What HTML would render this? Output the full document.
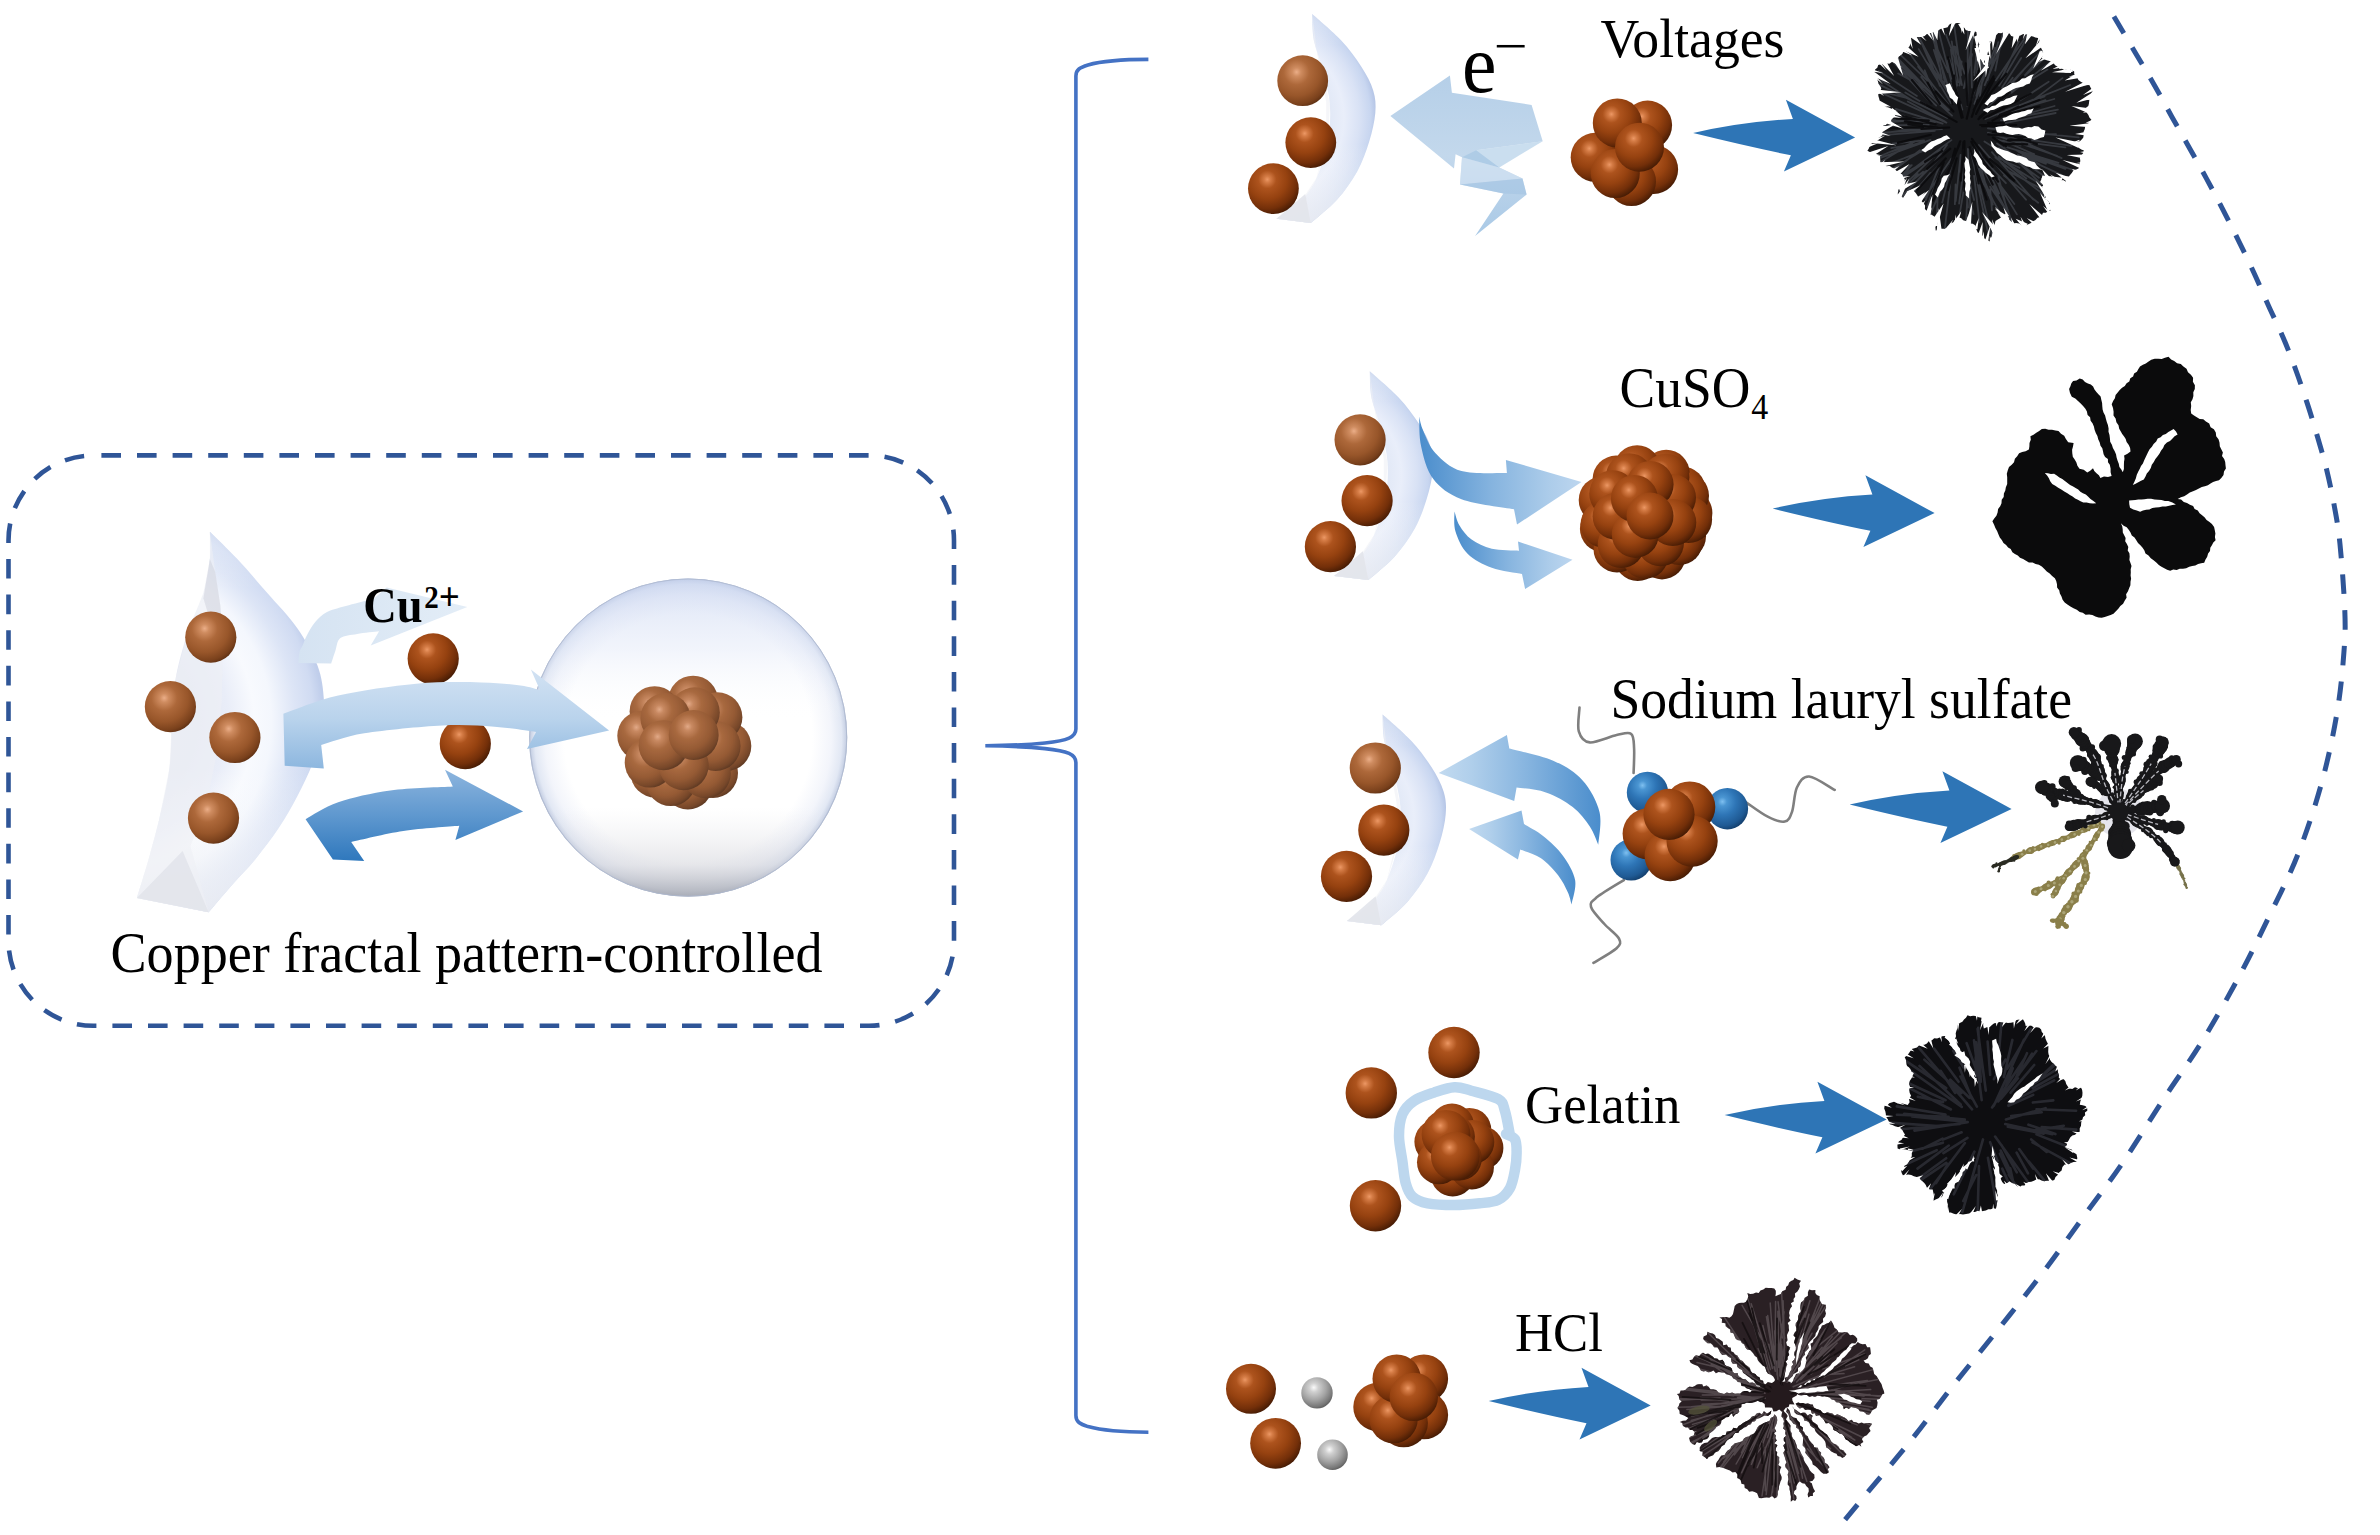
<!DOCTYPE html><html><head><meta charset="utf-8"><title>Copper fractal pattern-controlled</title>
<style>html,body{margin:0;padding:0;background:#fff}svg{display:block}text{font-family:"Liberation Serif","Times New Roman",serif;fill:#000}</style></head><body>
<svg width="2380" height="1535" viewBox="0 0 2380 1535">

<defs>
<radialGradient id="cu" cx="0.38" cy="0.32" r="0.74" fx="0.38" fy="0.32">
 <stop offset="0" stop-color="#EC9865"/><stop offset="0.08" stop-color="#D57C46"/>
 <stop offset="0.24" stop-color="#AD531D"/><stop offset="0.52" stop-color="#964210"/>
 <stop offset="0.78" stop-color="#732F09"/><stop offset="0.93" stop-color="#4E1F05"/><stop offset="1" stop-color="#3A1604"/>
</radialGradient>
<radialGradient id="cul" cx="0.38" cy="0.33" r="0.72" fx="0.38" fy="0.33">
 <stop offset="0" stop-color="#EBAE88"/><stop offset="0.12" stop-color="#CF8C60"/>
 <stop offset="0.35" stop-color="#AD683A"/><stop offset="0.65" stop-color="#98562A"/>
 <stop offset="0.88" stop-color="#7A411C"/><stop offset="1" stop-color="#5A2E12"/>
</radialGradient>
<radialGradient id="cug" cx="0.38" cy="0.33" r="0.72" fx="0.38" fy="0.33">
 <stop offset="0" stop-color="#DFA07A"/><stop offset="0.12" stop-color="#C27C50"/>
 <stop offset="0.35" stop-color="#9F592B"/><stop offset="0.65" stop-color="#8A491F"/>
 <stop offset="0.88" stop-color="#693413"/><stop offset="1" stop-color="#48220A"/>
</radialGradient>
<radialGradient id="bl" cx="0.38" cy="0.33" r="0.72" fx="0.38" fy="0.33">
 <stop offset="0" stop-color="#7FC0F0"/><stop offset="0.15" stop-color="#4A95D2"/>
 <stop offset="0.45" stop-color="#2E75B6"/><stop offset="0.8" stop-color="#1F5A94"/>
 <stop offset="1" stop-color="#123C68"/>
</radialGradient>
<radialGradient id="gr" cx="0.4" cy="0.33" r="0.72" fx="0.4" fy="0.33">
 <stop offset="0" stop-color="#FAFAFA"/><stop offset="0.2" stop-color="#D0D0D0"/>
 <stop offset="0.55" stop-color="#A4A4A4"/><stop offset="0.85" stop-color="#777"/>
 <stop offset="1" stop-color="#555"/>
</radialGradient>
<radialGradient id="glass" cx="0.5" cy="0.5" r="0.5">
 <stop offset="0" stop-color="#fff"/><stop offset="0.78" stop-color="#fff"/>
 <stop offset="0.9" stop-color="#F3F5FB"/><stop offset="0.965" stop-color="#E2E8F4"/>
 <stop offset="0.99" stop-color="#CAD3E6"/><stop offset="1" stop-color="#AEB9D2"/>
</radialGradient>
<linearGradient id="glassv" x1="0" y1="0" x2="0" y2="1">
 <stop offset="0" stop-color="#C3D0EE" stop-opacity="0.6"/><stop offset="0.22" stop-color="#DCE4F6" stop-opacity="0.4"/>
 <stop offset="0.45" stop-color="#fff" stop-opacity="0"/><stop offset="0.72" stop-color="#E4E5E9" stop-opacity="0"/>
 <stop offset="0.9" stop-color="#D2D3D9" stop-opacity="0.55"/>
 <stop offset="1" stop-color="#A4A7B0" stop-opacity="0.85"/>
</linearGradient>
<linearGradient id="cres" x1="0" y1="0" x2="1" y2="0">
 <stop offset="0" stop-color="#DDE4F2"/><stop offset="0.4" stop-color="#E2E9F7"/><stop offset="0.6" stop-color="#E4EBF9"/>
 <stop offset="0.85" stop-color="#D0DCF3"/><stop offset="1" stop-color="#B9C9E8"/>
</linearGradient>
<linearGradient id="cresv" x1="0" y1="0" x2="0" y2="1">
 <stop offset="0" stop-color="#fff" stop-opacity="0.35"/><stop offset="0.15" stop-color="#fff" stop-opacity="0"/><stop offset="0.62" stop-color="#fff" stop-opacity="0"/>
 <stop offset="1" stop-color="#EEEFF3" stop-opacity="0.85"/>
</linearGradient>
<linearGradient id="arrL" x1="0" y1="0" x2="0" y2="1">
 <stop offset="0" stop-color="#D2E2F3"/><stop offset="0.5" stop-color="#B9D3EC"/><stop offset="1" stop-color="#8DB7DF"/>
</linearGradient>
<linearGradient id="arrD" x1="0" y1="0" x2="0" y2="1">
 <stop offset="0" stop-color="#8DB5DE"/><stop offset="0.5" stop-color="#5F98CF"/><stop offset="1" stop-color="#2F78BD"/>
</linearGradient>
<linearGradient id="arrT" x1="0" y1="0" x2="1" y2="0">
 <stop offset="0" stop-color="#D5E3F2"/><stop offset="1" stop-color="#E3EDF7"/>
</linearGradient>
<linearGradient id="sw" x1="0" y1="0" x2="1" y2="0">
 <stop offset="0" stop-color="#4A8DCC"/><stop offset="0.45" stop-color="#86B4DF"/><stop offset="0.8" stop-color="#ACCCEA"/><stop offset="1" stop-color="#BDD6EF"/>
</linearGradient>
<linearGradient id="swr" x1="1" y1="0" x2="0" y2="0">
 <stop offset="0" stop-color="#4A8DCC"/><stop offset="0.45" stop-color="#86B4DF"/><stop offset="0.8" stop-color="#B0CFEB"/><stop offset="1" stop-color="#C2DAF0"/>
</linearGradient>
<linearGradient id="bolt" x1="0" y1="0" x2="0" y2="1">
 <stop offset="0" stop-color="#B5CFE8"/><stop offset="0.5" stop-color="#C3D8EC"/><stop offset="1" stop-color="#A9C9E6"/>
</linearGradient>
</defs>

<rect width="2380" height="1535" fill="#fff"/>
<rect x="8.5" y="455.4" width="945.5" height="570.4" rx="85" ry="85" fill="none" stroke="#2F5597" stroke-width="4.6" stroke-dasharray="19.6 16" stroke-dashoffset="27.7"/>
<path d="M1148.4 59.4 C1125 59.4 1100 61.5 1088 65 C1080 67.5 1075.9 69.5 1075.9 76 L1075.9 729 C1075.9 737 1068 740.5 1045 743 C1025 745 1005 745.6 985.3 745.8 C1005 746 1025 746.6 1045 748.6 C1068 751 1075.9 754.5 1075.9 762.6 L1075.9 1415.6 C1075.9 1422 1080 1424 1088 1426.6 C1100 1430 1125 1432.2 1148.4 1432.2" fill="none" stroke="#4472C4" stroke-width="3.6"/>
<path d="M2113.9 16.4 C2117.7 22.8 2129.7 43.1 2136.5 54.7 C2143.3 66.2 2148.8 75.4 2154.7 85.7 C2160.6 96 2166 106.4 2171.8 116.7 C2177.6 127 2183.5 137.4 2189.3 147.7 C2195.1 158 2200.9 168.3 2206.5 178.6 C2212.1 188.9 2217.6 199.3 2222.9 209.6 C2228.2 219.9 2233.3 230.1 2238.5 240.6 C2243.7 251.1 2248.9 261.9 2253.9 272.7 C2258.9 283.5 2263.6 294.8 2268.4 305.5 C2273.2 316.2 2278.4 326.4 2283 337.2 C2287.6 347.9 2291.8 359.1 2295.8 370 C2299.8 380.9 2303.4 391.6 2307.1 402.9 C2310.8 414.1 2314.4 426.3 2317.7 437.5 C2321 448.7 2324.1 459.1 2326.8 470.3 C2329.5 481.5 2331.9 492.8 2334.1 504.9 C2336.3 517 2338.1 525.6 2339.9 543.2 C2341.7 560.8 2344.1 592.1 2344.8 610.3 C2345.5 628.5 2345.2 635.3 2343.9 652.5 C2342.6 669.7 2340.7 691.5 2336.9 713.4 C2333.2 735.3 2327.9 760.3 2321.4 783.8 C2314.9 807.2 2306.6 832.2 2298 854.1 C2289.4 876 2279.6 894.7 2269.8 915 C2260 935.3 2250.7 954.8 2239.4 975.9 C2228.1 997 2214.4 1021.3 2201.9 1041.6 C2189.4 1061.9 2177.7 1077.5 2164.4 1097.8 C2151.1 1118.1 2135.5 1143.9 2122.2 1163.4 C2108.9 1182.9 2097.8 1197 2084.7 1215 C2071.6 1233 2057.7 1253 2043.5 1271.7 C2029.3 1290.4 2014.5 1308.9 1999.8 1327.4 C1985.1 1346 1969.7 1364.5 1955.1 1383 C1940.5 1401.5 1927 1420.4 1912.4 1438.6 C1897.8 1456.8 1879.8 1477.7 1867.7 1492.3 C1855.6 1506.9 1844.5 1520.4 1839.9 1526" fill="none" stroke="#2F5597" stroke-width="5" stroke-dasharray="19.5 16.3"/>
<radialGradient id="crg1" gradientUnits="userSpaceOnUse" cx="107" cy="722" r="216.4"><stop offset="0" stop-color="#E7E9F1"/><stop offset="0.42" stop-color="#E4E8F3"/><stop offset="0.56" stop-color="#E9EDF8"/><stop offset="0.68" stop-color="#F8FAFE"/><stop offset="0.76" stop-color="#F4F7FD"/><stop offset="0.87" stop-color="#DDE5F6"/><stop offset="0.955" stop-color="#D0DBF2"/><stop offset="1" stop-color="#C0CEEB"/></radialGradient>
<path d="M209.9 531.7 C214.5 536.3 227.8 548.9 237.3 559.1 C246.9 569.3 257.3 581.5 267.3 593 C277.3 604.5 288.9 616.1 297.3 628.2 C305.7 640.3 313.2 653.8 317.6 665.7 C322 677.7 323.2 689 323.9 699.9 C324.6 710.8 323.6 720.7 321.8 731.2 C319.9 741.6 317 751.6 312.9 762.4 C308.8 773.3 302.9 785.5 297.3 796.3 C291.6 807.2 286 817.2 279 827.6 C272.1 838 263.4 849.3 255.6 858.9 C247.7 868.5 239.9 876.1 232.1 885 C224.3 893.9 212.5 907.8 208.6 912.3 L136.9 898 C138.9 891.5 145 871.9 148.7 858.9 C152.4 845.9 155.6 835 159.1 819.8 C162.6 804.6 167.4 785 169.5 767.7 C171.7 750.3 171.1 730.7 172.1 715.5 C173.2 700.3 173.4 690.3 176 676.4 C178.7 662.5 183.2 646 187.8 632.1 C192.3 618.2 199.7 605.2 203.4 593 C207.1 580.8 208.9 569.3 209.9 559.1 C211 548.9 209.9 536.3 209.9 531.7Z" fill="url(#crg1)"/>
<path d="M209.9 531.7 C214.5 536.3 227.8 548.9 237.3 559.1 C246.9 569.3 257.3 581.5 267.3 593 C277.3 604.5 288.9 616.1 297.3 628.2 C305.7 640.3 313.2 653.8 317.6 665.7 C322 677.7 323.2 689 323.9 699.9 C324.6 710.8 323.6 720.7 321.8 731.2 C319.9 741.6 317 751.6 312.9 762.4 C308.8 773.3 302.9 785.5 297.3 796.3 C291.6 807.2 286 817.2 279 827.6 C272.1 838 263.4 849.3 255.6 858.9 C247.7 868.5 239.9 876.1 232.1 885 C224.3 893.9 212.5 907.8 208.6 912.3 L136.9 898 C138.9 891.5 145 871.9 148.7 858.9 C152.4 845.9 155.6 835 159.1 819.8 C162.6 804.6 167.4 785 169.5 767.7 C171.7 750.3 171.1 730.7 172.1 715.5 C173.2 700.3 173.4 690.3 176 676.4 C178.7 662.5 183.2 646 187.8 632.1 C192.3 618.2 199.7 605.2 203.4 593 C207.1 580.8 208.9 569.3 209.9 559.1 C211 548.9 209.9 536.3 209.9 531.7Z" fill="url(#cresv)"/>
<polygon points="209.9,531.7 215.2,572.1 220.4,606 223,650.3 221.7,702.5 216.5,754.6 206,806.8 190.4,845.9 208.6,912.3 136.9,898 148.7,858.9 159.1,819.8 169.5,767.7 172.1,715.5 176,676.4 187.8,632.1 203.4,593 209.9,559.1" fill="#EEF0F5" opacity="0.6"/>
<polygon points="136.9,898 182.6,851.1 208.6,912.3" fill="#E2E4EB" opacity="0.9"/>
<polygon points="209.9,559.1 215.2,572.1 220.4,606 221.7,629.5 211.2,624.3 203.4,598.2" fill="#C9CCD6" opacity="0.45"/>
<circle cx="210.8" cy="637.2" r="25.6" fill="url(#cul)"/>
<circle cx="170.4" cy="706.7" r="25.6" fill="url(#cul)"/>
<circle cx="234.9" cy="737.5" r="25.6" fill="url(#cul)"/>
<circle cx="213.5" cy="818.1" r="25.6" fill="url(#cul)"/>
<circle cx="688.2" cy="737.6" r="159" fill="url(#glass)"/>
<circle cx="688.2" cy="737.6" r="159" fill="url(#glassv)"/>
<circle cx="688.2" cy="737.6" r="158.6" fill="none" stroke="#AEB9D0" stroke-width="1" opacity="0.8"/>
<g opacity="0.9">
<circle cx="655.5" cy="772.6" r="25" fill="url(#cug)"/>
<circle cx="687.9" cy="784.5" r="25" fill="url(#cug)"/>
<circle cx="713" cy="773" r="25" fill="url(#cug)"/>
<circle cx="726.3" cy="746" r="25" fill="url(#cug)"/>
<circle cx="693.1" cy="700.7" r="25" fill="url(#cug)"/>
<circle cx="654.6" cy="711.2" r="25" fill="url(#cug)"/>
<circle cx="717.4" cy="717.3" r="25" fill="url(#cug)"/>
<circle cx="642.3" cy="735.8" r="25" fill="url(#cug)"/>
<circle cx="670.9" cy="781.1" r="25" fill="url(#cug)"/>
<circle cx="649.7" cy="762.6" r="25" fill="url(#cug)"/>
<circle cx="705.9" cy="773.2" r="25" fill="url(#cug)"/>
<circle cx="715.6" cy="746" r="25" fill="url(#cug)"/>
<circle cx="694.8" cy="712.3" r="25" fill="url(#cug)"/>
<circle cx="665.4" cy="718" r="25" fill="url(#cug)"/>
<circle cx="683.7" cy="765.2" r="25" fill="url(#cug)"/>
<circle cx="663.6" cy="745.2" r="25" fill="url(#cug)"/>
<circle cx="693.7" cy="735" r="25" fill="url(#cug)"/>
</g>
<path d="M298.4 663 C298.6 661.2 298.8 654.9 299.5 652 C300.2 649.1 301.4 648.4 302.6 645.6 C303.8 642.9 304.7 639.4 306.8 635.5 C308.9 631.6 311.8 626 315.2 622.1 C318.6 618.2 321.4 614.8 327 612 C332.6 609.2 341 607.5 348.8 605.3 C356.6 603.1 369.8 599.7 374 598.6 L386.6 587.6 L467.3 607 L370.7 645.6 L379.1 631.3 C375.5 631.7 363.6 632.8 357.2 633.9 C350.8 635 344 635.3 340.4 638.1 C336.8 640.9 336.9 646.5 335.4 650.7 C333.9 654.9 331.9 661.4 331.2 663.5Z" fill="url(#arrT)"/>
<circle cx="433.2" cy="658.8" r="25.6" fill="url(#cu)"/>
<circle cx="465.3" cy="743.7" r="25.6" fill="url(#cu)"/>
<path d="M283.4 713.7 C292.6 710.7 316 700.5 338.2 695.5 C360.3 690.5 392.4 685.9 416.3 683.7 C440.2 681.6 464.1 682.1 481.4 682.4 C498.8 682.7 510.7 684.3 520.5 685.6 C530.3 686.9 536.8 689.5 540 690.3 L530.9 669.4 L609.1 730.6 L527 748.9 L536.1 731.9 C529.2 731.1 510.1 727.8 494.5 726.7 C478.8 725.6 464.1 724.3 442.4 725.4 C420.6 726.5 384.4 730 364.2 733.2 C344 736.5 328.4 743 321.2 745 L323.8 768.4 L284.7 765.8Z" fill="url(#arrL)"/>
<path d="M305.6 819.2 C311 816.4 324 807 338.2 802.3 C352.3 797.5 371.1 793.2 390.3 790.5 C409.4 787.9 442.4 787.3 452.8 786.6 L445 769.7 L523.1 811.4 L455.4 840 L459.3 825.7 C450 826.6 421.3 828.2 403.3 830.9 C385.3 833.6 359.9 840 351.2 841.9 L364.2 860.9 L332.9 859.6Z" fill="url(#arrD)"/>
<text transform="translate(110.5,971.7) scale(1,1.06)" font-size="54" textLength="712" lengthAdjust="spacingAndGlyphs">Copper fractal pattern-controlled</text>
<text transform="translate(363.3,622.2) scale(1,1.08)" font-size="46.5" font-weight="bold">Cu<tspan font-size="29" dx="1.5" dy="-13.5">2</tspan><tspan font-size="37" dx="0" dy="2.6">+</tspan></text>
<radialGradient id="crg2" gradientUnits="userSpaceOnUse" cx="1257.4" cy="118.5" r="118.5"><stop offset="0" stop-color="#E4E7F0"/><stop offset="0.6" stop-color="#E1E8F6"/><stop offset="0.73" stop-color="#E9EEFA"/><stop offset="0.86" stop-color="#D9E2F5"/><stop offset="0.955" stop-color="#C8D6F0"/><stop offset="1" stop-color="#B7C7E7"/></radialGradient>
<path d="M1312.2 14.1 C1317 18.5 1332.8 31.6 1341 40.3 C1349.2 49 1355.8 58.1 1361.2 66.5 C1366.6 74.9 1371 83 1373.3 90.7 C1375.6 98.4 1376 104.5 1375.3 112.9 C1374.6 121.3 1372.3 131.4 1369.3 141.2 C1366.3 150.9 1362.6 161.7 1357.2 171.4 C1351.8 181.2 1344.7 191.1 1337 199.7 C1329.3 208.3 1315.2 219 1310.8 222.9 L1276.5 218.8 C1280.5 215.9 1294 208.6 1300.7 201.7 C1307.4 194.8 1312.3 187.6 1316.8 177.5 C1321.3 167.4 1325.7 153.3 1327.9 141.2 C1330.1 129.1 1330.7 116.7 1329.9 104.9 C1329.1 93.1 1325.6 81.4 1322.9 70.6 C1320.2 59.8 1315.6 49.7 1313.8 40.3 C1312 30.9 1312.5 18.5 1312.2 14.1Z" fill="url(#crg2)"/>
<path d="M1312.2 14.1 C1317 18.5 1332.8 31.6 1341 40.3 C1349.2 49 1355.8 58.1 1361.2 66.5 C1366.6 74.9 1371 83 1373.3 90.7 C1375.6 98.4 1376 104.5 1375.3 112.9 C1374.6 121.3 1372.3 131.4 1369.3 141.2 C1366.3 150.9 1362.6 161.7 1357.2 171.4 C1351.8 181.2 1344.7 191.1 1337 199.7 C1329.3 208.3 1315.2 219 1310.8 222.9 L1276.5 218.8 C1280.5 215.9 1294 208.6 1300.7 201.7 C1307.4 194.8 1312.3 187.6 1316.8 177.5 C1321.3 167.4 1325.7 153.3 1327.9 141.2 C1330.1 129.1 1330.7 116.7 1329.9 104.9 C1329.1 93.1 1325.6 81.4 1322.9 70.6 C1320.2 59.8 1315.6 49.7 1313.8 40.3 C1312 30.9 1312.5 18.5 1312.2 14.1Z" fill="url(#cresv)"/>
<polygon points="1312.2,14.1 1317.2,54.1 1326.2,102.1 1326.2,139.1 1316.2,179.1 1306.2,197.1 1310.8,222.9 1276.5,218.8 1300.7,201.7 1316.8,177.5 1327.9,141.2 1329.9,104.9 1322.9,70.6 1313.8,40.3" fill="#EEF0F5" opacity="0.6"/>
<polygon points="1276.5,218.8 1305.2,194.1 1310.8,222.9" fill="#E2E4EB" opacity="0.9"/>
<circle cx="1302.7" cy="80.7" r="25.4" fill="url(#cul)"/>
<circle cx="1310.8" cy="142.6" r="25.4" fill="url(#cu)"/>
<circle cx="1273.4" cy="188.6" r="25.4" fill="url(#cu)"/>
<path d="M1390.4 116 L1449.9 75.6 L1451.9 92.8 L1531.6 104.9 L1542.7 141.2 L1476.2 150.3 L1499.3 167.4 L1522.5 178.5 L1526.6 194.6 L1475.1 236 L1503.4 193.6 L1460 184.6 L1462 157.3 L1455.6 154.3 L1454 168.4Z" fill="url(#bolt)"/>
<polygon points="1542.7,141.2 1476.2,150.3 1462,157.3 1499.3,167.4" fill="#9FC2E2" opacity="0.55"/>
<polygon points="1462,157.3 1499.3,167.4 1522.5,178.5 1460,184.6" fill="#D5E4F3" opacity="0.6"/>
<polygon points="1522.5,178.5 1526.6,194.6 1503.4,193.6 1460,184.6" fill="#9FC2E2" opacity="0.5"/>
<circle cx="1647.6" cy="125.1" r="24.5" fill="url(#cu)"/>
<circle cx="1595.2" cy="157.3" r="24.5" fill="url(#cu)"/>
<circle cx="1653.6" cy="169.4" r="24.5" fill="url(#cu)"/>
<circle cx="1631.5" cy="181.5" r="24.5" fill="url(#cu)"/>
<circle cx="1615.3" cy="173.5" r="24.5" fill="url(#cu)"/>
<circle cx="1617.3" cy="123" r="24.5" fill="url(#cu)"/>
<circle cx="1639.5" cy="147.2" r="24.5" fill="url(#cu)"/>
<path d="M1693.1 133.1 Q1740.5 122 1792.9 119 L1785.9 99.8 L1855.1 137.6 L1783.9 171.4 L1790.9 155.3 Q1750.6 147.2 1693.1 133.1Z" fill="#2E75B6"/>
<text transform="translate(1600.5,57) scale(1,1.065)" font-size="52" textLength="184" lengthAdjust="spacingAndGlyphs">Voltages</text>
<text transform="translate(1462,92.4) scale(1,1.073)" font-size="77.7">e</text>
<text transform="translate(1494,62.8) scale(1,0.85)" font-size="60">−</text>
<radialGradient id="crg3" gradientUnits="userSpaceOnUse" cx="1315" cy="475.6" r="118.5"><stop offset="0" stop-color="#E4E7F0"/><stop offset="0.6" stop-color="#E1E8F6"/><stop offset="0.73" stop-color="#E9EEFA"/><stop offset="0.86" stop-color="#D9E2F5"/><stop offset="0.955" stop-color="#C8D6F0"/><stop offset="1" stop-color="#B7C7E7"/></radialGradient>
<path d="M1369.8 371.2 C1374.6 375.6 1390.4 388.7 1398.6 397.4 C1406.8 406.1 1413.4 415.2 1418.8 423.6 C1424.2 432 1428.5 440.1 1430.9 447.8 C1433.2 455.5 1433.6 461.6 1432.9 470 C1432.2 478.4 1429.9 488.5 1426.9 498.3 C1423.9 508 1420.2 518.8 1414.8 528.5 C1409.4 538.2 1402.3 548.2 1394.6 556.8 C1386.9 565.4 1372.8 576.1 1368.4 580 L1334.1 575.9 C1338.1 573 1351.6 565.7 1358.3 558.8 C1365 551.9 1369.9 544.7 1374.4 534.6 C1378.9 524.5 1383.3 510.4 1385.5 498.3 C1387.7 486.2 1388.3 473.8 1387.5 462 C1386.7 450.2 1383.2 438.5 1380.5 427.7 C1377.8 416.9 1373.2 406.8 1371.4 397.4 C1369.6 388 1370.1 375.6 1369.8 371.2Z" fill="url(#crg3)"/>
<path d="M1369.8 371.2 C1374.6 375.6 1390.4 388.7 1398.6 397.4 C1406.8 406.1 1413.4 415.2 1418.8 423.6 C1424.2 432 1428.5 440.1 1430.9 447.8 C1433.2 455.5 1433.6 461.6 1432.9 470 C1432.2 478.4 1429.9 488.5 1426.9 498.3 C1423.9 508 1420.2 518.8 1414.8 528.5 C1409.4 538.2 1402.3 548.2 1394.6 556.8 C1386.9 565.4 1372.8 576.1 1368.4 580 L1334.1 575.9 C1338.1 573 1351.6 565.7 1358.3 558.8 C1365 551.9 1369.9 544.7 1374.4 534.6 C1378.9 524.5 1383.3 510.4 1385.5 498.3 C1387.7 486.2 1388.3 473.8 1387.5 462 C1386.7 450.2 1383.2 438.5 1380.5 427.7 C1377.8 416.9 1373.2 406.8 1371.4 397.4 C1369.6 388 1370.1 375.6 1369.8 371.2Z" fill="url(#cresv)"/>
<polygon points="1369.8,371.2 1374.8,411.2 1383.8,459.2 1383.8,496.2 1373.8,536.2 1363.8,554.2 1368.4,580 1334.1,575.9 1358.3,558.8 1374.4,534.6 1385.5,498.3 1387.5,462 1380.5,427.7 1371.4,397.4" fill="#EEF0F5" opacity="0.6"/>
<polygon points="1334.1,575.9 1362.8,551.2 1368.4,580" fill="#E2E4EB" opacity="0.9"/>
<circle cx="1360.1" cy="439.8" r="25.6" fill="url(#cul)"/>
<circle cx="1367.1" cy="500.7" r="25.6" fill="url(#cu)"/>
<circle cx="1330.4" cy="546.7" r="25.6" fill="url(#cu)"/>
<path d="M1419.2 416.6 C1419.5 421.6 1418.8 436.4 1421.2 446.8 C1423.5 457.2 1426.6 470.3 1433.3 479.1 C1440 487.8 1448.1 494.2 1461.5 499.3 C1475 504.3 1505.2 507.7 1514 509.3 L1517 524.5 L1581.5 482.1 L1505.9 459.9 L1506.9 473 C1499.3 472.7 1473.5 474.4 1461.5 471 C1449.6 467.7 1441.7 459.6 1435.3 452.9 C1428.9 446.1 1425.9 436.7 1423.2 430.7 C1420.5 424.6 1419.8 418.9 1419.2 416.6Z" fill="url(#sw)"/>
<path d="M1454.5 511.4 C1454.6 514.7 1453.3 524.5 1455.5 531.5 C1457.7 538.6 1461.5 547.7 1467.6 553.7 C1473.6 559.8 1482.7 564.5 1491.8 567.8 C1500.9 571.2 1517 572.9 1522 573.9 L1525.1 589 L1572.5 559.8 L1518 541.6 L1519 550.7 C1514.5 550.3 1499.7 550.5 1491.8 548.7 C1483.9 546.8 1477 543.5 1471.6 539.6 C1466.2 535.7 1462.4 530.2 1459.5 525.5 C1456.7 520.8 1455.3 513.7 1454.5 511.4Z" fill="url(#sw)"/>
<circle cx="1688.9" cy="512.9" r="23.5" fill="url(#cu)"/>
<circle cx="1682.5" cy="536.3" r="23.5" fill="url(#cu)"/>
<circle cx="1682.1" cy="489.9" r="23.5" fill="url(#cu)"/>
<circle cx="1637.7" cy="557.5" r="23.5" fill="url(#cu)"/>
<circle cx="1603.4" cy="528.8" r="23.5" fill="url(#cu)"/>
<circle cx="1666.2" cy="473.3" r="23.5" fill="url(#cu)"/>
<circle cx="1616.1" cy="479.1" r="23.5" fill="url(#cu)"/>
<circle cx="1617" cy="549" r="23.5" fill="url(#cu)"/>
<circle cx="1637.1" cy="468.8" r="23.5" fill="url(#cu)"/>
<circle cx="1662" cy="555.9" r="23.5" fill="url(#cu)"/>
<circle cx="1602.2" cy="499.9" r="23.5" fill="url(#cu)"/>
<circle cx="1679.3" cy="541.6" r="23.5" fill="url(#cu)"/>
<circle cx="1685.5" cy="495.7" r="23.5" fill="url(#cu)"/>
<circle cx="1688.6" cy="519.6" r="23.5" fill="url(#cu)"/>
<circle cx="1604.1" cy="524.3" r="23.5" fill="url(#cu)"/>
<circle cx="1645" cy="555.3" r="23.5" fill="url(#cu)"/>
<circle cx="1665.9" cy="477.2" r="23.5" fill="url(#cu)"/>
<circle cx="1629.3" cy="476.8" r="23.5" fill="url(#cu)"/>
<circle cx="1621.2" cy="544.6" r="23.5" fill="url(#cu)"/>
<circle cx="1612.7" cy="493.8" r="23.5" fill="url(#cu)"/>
<circle cx="1660.5" cy="542.8" r="23.5" fill="url(#cu)"/>
<circle cx="1672.5" cy="497.6" r="23.5" fill="url(#cu)"/>
<circle cx="1616.1" cy="516.3" r="23.5" fill="url(#cu)"/>
<circle cx="1650.1" cy="484.4" r="23.5" fill="url(#cu)"/>
<circle cx="1672.8" cy="522.6" r="23.5" fill="url(#cu)"/>
<circle cx="1635.3" cy="534.4" r="23.5" fill="url(#cu)"/>
<circle cx="1634.4" cy="498.5" r="23.5" fill="url(#cu)"/>
<circle cx="1650" cy="516" r="23.5" fill="url(#cu)"/>
<path d="M1772.6 508.6 Q1820 497.5 1872.4 494.5 L1865.4 475.3 L1934.6 513.1 L1863.4 546.9 L1870.4 530.8 Q1830.1 522.7 1772.6 508.6Z" fill="#2E75B6"/>
<text transform="translate(1619.5,406.7) scale(1,1.065)" font-size="53.5">CuSO<tspan font-size="34" dx="1" dy="11.3">4</tspan></text>
<radialGradient id="crg4" gradientUnits="userSpaceOnUse" cx="1327.8" cy="819.8" r="118.5"><stop offset="0" stop-color="#E4E7F0"/><stop offset="0.6" stop-color="#E1E8F6"/><stop offset="0.73" stop-color="#E9EEFA"/><stop offset="0.86" stop-color="#D9E2F5"/><stop offset="0.955" stop-color="#C8D6F0"/><stop offset="1" stop-color="#B7C7E7"/></radialGradient>
<path d="M1382.6 714.4 C1387.4 718.8 1403.2 732 1411.4 740.9 C1419.6 749.7 1426.2 758.8 1431.6 767.3 C1437 775.8 1441.3 784 1443.7 791.8 C1446 799.6 1446.4 805.7 1445.7 814.2 C1445 822.7 1442.7 832.9 1439.7 842.8 C1436.7 852.6 1433 863.4 1427.6 873.3 C1422.2 883.1 1415.1 893.2 1407.4 901.9 C1399.7 910.5 1385.6 921.4 1381.2 925.3 L1346.9 921.1 C1350.9 918.3 1364.4 910.8 1371.1 903.9 C1377.8 896.9 1382.7 889.6 1387.2 879.4 C1391.7 869.2 1396.1 855 1398.3 842.8 C1400.5 830.5 1401.1 818 1400.3 806.1 C1399.5 794.2 1396 782.3 1393.3 771.5 C1390.6 760.6 1386 750.4 1384.2 740.9 C1382.4 731.4 1382.9 718.8 1382.6 714.4Z" fill="url(#crg4)"/>
<path d="M1382.6 714.4 C1387.4 718.8 1403.2 732 1411.4 740.9 C1419.6 749.7 1426.2 758.8 1431.6 767.3 C1437 775.8 1441.3 784 1443.7 791.8 C1446 799.6 1446.4 805.7 1445.7 814.2 C1445 822.7 1442.7 832.9 1439.7 842.8 C1436.7 852.6 1433 863.4 1427.6 873.3 C1422.2 883.1 1415.1 893.2 1407.4 901.9 C1399.7 910.5 1385.6 921.4 1381.2 925.3 L1346.9 921.1 C1350.9 918.3 1364.4 910.8 1371.1 903.9 C1377.8 896.9 1382.7 889.6 1387.2 879.4 C1391.7 869.2 1396.1 855 1398.3 842.8 C1400.5 830.5 1401.1 818 1400.3 806.1 C1399.5 794.2 1396 782.3 1393.3 771.5 C1390.6 760.6 1386 750.4 1384.2 740.9 C1382.4 731.4 1382.9 718.8 1382.6 714.4Z" fill="url(#cresv)"/>
<polygon points="1382.6,714.4 1387.6,754.8 1396.6,803.3 1396.6,840.6 1386.6,881 1376.6,899.2 1381.2,925.3 1346.9,921.1 1371.1,903.9 1387.2,879.4 1398.3,842.8 1400.3,806.1 1393.3,771.5 1384.2,740.9" fill="#EEF0F5" opacity="0.6"/>
<polygon points="1346.9,921.1 1375.6,896.2 1381.2,925.3" fill="#E2E4EB" opacity="0.9"/>
<circle cx="1375.3" cy="768" r="25.6" fill="url(#cul)"/>
<circle cx="1383.8" cy="830.1" r="25.6" fill="url(#cu)"/>
<circle cx="1346.5" cy="876.4" r="25.6" fill="url(#cu)"/>
<path d="M1598.3 844.7 C1598.5 839.3 1602.1 822.6 1599.5 811.9 C1596.9 801.1 1590.2 788.7 1582.4 780.2 C1574.7 771.6 1565.4 766 1553.2 760.7 C1541 755.4 1516.6 750.5 1509.3 748.5 L1506.9 735.1 L1438.7 772.9 L1514.2 800.9 L1516.6 787.5 C1521.5 788.3 1536.5 789.1 1545.9 792.4 C1555.2 795.6 1565.4 801.3 1572.7 807 C1580 812.7 1585.5 820.2 1589.8 826.5 C1594 832.8 1596.9 841.7 1598.3 844.7Z" fill="url(#swr)"/>
<path d="M1571.5 904.5 C1572.1 900.4 1576.6 888.2 1575.1 880.1 C1573.7 872 1568.2 863 1562.9 855.7 C1557.7 848.4 1549.9 841.5 1543.4 836.2 C1536.9 830.9 1527.2 826.1 1524 824 L1521.5 810.6 L1469.1 828.9 L1517.9 859.4 L1520.3 849.6 C1523.7 851 1534.7 853.9 1541 858.2 C1547.3 862.4 1553.6 869.5 1558.1 875.2 C1562.5 880.9 1565.6 887.4 1567.8 892.3 C1570.1 897.1 1570.9 902.4 1571.5 904.5Z" fill="url(#swr)"/>
<path d="M1579.5 707.5 C1579.4 711.5 1577.1 725.6 1578.8 731.4 C1580.5 737.2 1583.5 741.8 1589.8 742.4 C1596 743 1609.7 736.5 1616.6 735.1 C1623.5 733.7 1628.3 731.6 1631.2 733.9 C1634.1 736.1 1633.7 742 1634.1 748.5 C1634.5 755 1633.7 768.8 1633.6 772.9" fill="none" stroke="#7F7F7F" stroke-width="2.6" stroke-linecap="round"/>
<path d="M1745.7 802.1 C1749.4 804.5 1761.2 813.5 1767.7 816.7 C1774.2 820 1780.7 822.4 1784.7 821.6 C1788.8 820.8 1790 817.5 1792 811.9 C1794.1 806.2 1794.1 793.4 1796.9 787.5 C1799.7 781.6 1802.8 776.1 1809.1 776.5 C1815.4 776.9 1830.4 787.7 1834.7 789.9" fill="none" stroke="#7F7F7F" stroke-width="2.6" stroke-linecap="round"/>
<path d="M1623.9 880.1 C1619.4 882.9 1602.5 892.7 1597.1 897.1 C1591.6 901.6 1589.8 902.4 1591 906.9 C1592.2 911.4 1599.7 918.7 1604.4 924 C1609 929.2 1617 934.5 1619 938.6 C1621 942.6 1620.8 944.3 1616.6 948.3 C1612.3 952.4 1597.3 960.5 1593.4 962.9" fill="none" stroke="#7F7F7F" stroke-width="2.6" stroke-linecap="round"/>
<circle cx="1647.5" cy="792.4" r="20.7" fill="url(#bl)"/>
<circle cx="1727.4" cy="808.7" r="20.7" fill="url(#bl)"/>
<circle cx="1631.2" cy="859.9" r="20.7" fill="url(#bl)"/>
<circle cx="1689.7" cy="807" r="25.6" fill="url(#cu)"/>
<circle cx="1648.2" cy="833.8" r="25.6" fill="url(#cu)"/>
<circle cx="1670.2" cy="855.7" r="25.6" fill="url(#cu)"/>
<circle cx="1692.1" cy="841.1" r="25.6" fill="url(#cu)"/>
<circle cx="1669" cy="814.3" r="25.6" fill="url(#cu)"/>
<path d="M1849.6 804.6 Q1897 793.5 1949.4 790.5 L1942.4 771.3 L2011.6 809.1 L1940.4 842.9 L1947.4 826.8 Q1907.1 818.7 1849.6 804.6Z" fill="#2E75B6"/>
<text transform="translate(1610.5,717.8) scale(1,1.065)" font-size="53" textLength="461.5" lengthAdjust="spacingAndGlyphs">Sodium lauryl sulfate</text>
<circle cx="1454" cy="1052.5" r="25.7" fill="url(#cu)"/>
<circle cx="1371.3" cy="1092.9" r="25.7" fill="url(#cu)"/>
<circle cx="1375.5" cy="1205.8" r="25.7" fill="url(#cu)"/>
<path d="M1509.9 1135.2 C1509.1 1131.1 1506.9 1116.8 1504.9 1110.8 C1503 1104.8 1503.8 1102.4 1498.2 1099.1 C1492.6 1095.8 1478.6 1092.7 1471.3 1090.7 C1464 1088.7 1460.7 1087 1454.5 1087.3 C1448.3 1087.6 1441 1090.2 1434.3 1092.4 C1427.6 1094.7 1419.4 1097.2 1414.1 1100.8 C1408.8 1104.4 1404.9 1108.3 1402.4 1114.2 C1399.9 1120.1 1399 1128.2 1399 1136.1 C1399 1143.9 1401.3 1153.5 1402.4 1161.3 C1403.5 1169.1 1404 1177.2 1405.7 1183.1 C1407.4 1189 1408.8 1193.2 1412.4 1196.6 C1416.1 1200 1420.6 1201.9 1427.6 1203.3 C1434.6 1204.7 1445.8 1205 1454.5 1205 C1463.2 1205 1472.4 1204.1 1479.7 1203.3 C1487 1202.5 1493.2 1202.4 1498.2 1199.9 C1503.2 1197.4 1507.1 1193.2 1509.9 1188.2 C1512.7 1183.2 1513.9 1175.6 1515 1169.7 C1516.1 1163.8 1516.6 1158 1516.6 1152.9 C1516.6 1147.9 1516.8 1142.6 1515 1139.4 C1513.2 1136.2 1507.5 1134.9 1506 1134" fill="none" stroke="#BDD7EE" stroke-width="10.5" stroke-linecap="round" stroke-linejoin="round"/>
<circle cx="1469.3" cy="1129.9" r="22" fill="url(#cu)"/>
<circle cx="1481.4" cy="1148" r="22" fill="url(#cu)"/>
<circle cx="1452" cy="1125.5" r="22" fill="url(#cu)"/>
<circle cx="1452.7" cy="1174.5" r="22" fill="url(#cu)"/>
<circle cx="1471.9" cy="1167.4" r="22" fill="url(#cu)"/>
<circle cx="1436.4" cy="1141.8" r="22" fill="url(#cu)"/>
<circle cx="1439" cy="1162.3" r="22" fill="url(#cu)"/>
<circle cx="1472.3" cy="1142.1" r="22" fill="url(#cu)"/>
<circle cx="1452.9" cy="1136.6" r="22" fill="url(#cu)"/>
<circle cx="1459.8" cy="1158.5" r="22" fill="url(#cu)"/>
<circle cx="1446" cy="1134.4" r="24.4" fill="url(#cu)"/>
<circle cx="1455.3" cy="1156.2" r="24.4" fill="url(#cu)"/>
<path d="M1724.6 1115.1 Q1772 1104 1824.4 1101 L1817.4 1081.8 L1886.6 1119.6 L1815.4 1153.4 L1822.4 1137.3 Q1782.1 1129.2 1724.6 1115.1Z" fill="#2E75B6"/>
<text transform="translate(1525,1122.6) scale(1,1.065)" font-size="52" textLength="155.5" lengthAdjust="spacingAndGlyphs">Gelatin</text>
<circle cx="1251" cy="1388.8" r="25" fill="url(#cu)"/>
<circle cx="1275.6" cy="1443.3" r="25.4" fill="url(#cu)"/>
<circle cx="1317" cy="1392.9" r="15.7" fill="url(#gr)"/>
<circle cx="1332.5" cy="1454.8" r="15.3" fill="url(#gr)"/>
<circle cx="1423.9" cy="1378.7" r="24.2" fill="url(#cu)"/>
<circle cx="1377.5" cy="1407" r="24.2" fill="url(#cu)"/>
<circle cx="1423.9" cy="1415.1" r="24.2" fill="url(#cu)"/>
<circle cx="1403.7" cy="1423.1" r="24.2" fill="url(#cu)"/>
<circle cx="1393.6" cy="1419.1" r="24.2" fill="url(#cu)"/>
<circle cx="1396.7" cy="1378.7" r="24.2" fill="url(#cu)"/>
<circle cx="1413.8" cy="1396.9" r="24.2" fill="url(#cu)"/>
<path d="M1488.7 1401.1 Q1536.1 1390 1588.5 1387 L1581.5 1367.8 L1650.7 1405.6 L1579.5 1439.4 L1586.5 1423.3 Q1546.2 1415.2 1488.7 1401.1Z" fill="#2E75B6"/>
<text transform="translate(1515,1350.5) scale(1,1.065)" font-size="52" textLength="88" lengthAdjust="spacingAndGlyphs">HCl</text>
<g id="frac1">
<defs><clipPath id="cf1"><polygon points="1931.1,33.1 1933.1,31.7 1935.7,32.2 1937.9,31.1 1940,29.3 1942.4,28.3 1944.9,28 1947.6,27.2 1949.1,24.8 1951.6,23.3 1954.2,23.7 1956.8,23.1 1959.7,23.1 1961.5,24.6 1962.5,26.8 1964.6,28 1965.7,30 1968.3,31.1 1971,31 1973.7,31.1 1976.4,31.9 1976.8,35.2 1975.5,38.1 1976.8,40.2 1978.3,42 1979.3,44.3 1978.4,47.5 1979.5,50.6 1979.2,53 1977.6,55 1976.7,57.5 1979.3,58.2 1981,59.9 1982.2,62 1983.1,64.4 1985.5,65.6 1986.7,67.8 1986.1,65.6 1985.1,63.5 1984,61.3 1986.5,58.7 1987.2,55.4 1987.9,52.3 1988.6,49.2 1988.7,45.8 1987.9,42.4 1990.4,41.4 1992.5,39.7 1995.1,38.9 1995.3,36.3 1996.8,34.5 1998.3,33 2001.2,33.3 2004.1,32.2 2006.9,32.7 2009.6,33.5 2011.2,35.9 2013.9,36.7 2017.2,35.9 2020.4,35.4 2023.2,33.9 2026.2,34.5 2028.8,33.9 2030.7,36.1 2033,36.4 2035.3,37.4 2037.9,37.9 2039.4,39.7 2039.1,42.9 2040.2,46 2041.6,48.9 2043.1,52 2042.7,55 2041.8,57.8 2044.5,59.6 2047.5,60.5 2050.6,61.3 2053.5,62.9 2055.1,65.3 2057.8,66.7 2059.6,68.9 2062,68.7 2064.3,69.9 2066.7,69.6 2069.5,69.1 2071.8,70.2 2074.2,71.4 2074.2,74.1 2075.7,76.1 2077.5,77.9 2078.4,80.1 2080.4,81.5 2082.6,82.8 2084.8,83.9 2087.5,83.7 2089.3,85.1 2090.8,88.1 2092.7,90.9 2090.9,93.8 2091.2,97.4 2089.3,100.3 2088.9,103.8 2088.3,106.1 2086,107.7 2086,110.1 2086.8,112.8 2088.4,115 2089.4,117.6 2091.4,119.7 2089.6,122.1 2087.7,124.4 2085.2,126.3 2084.8,129.1 2083.6,131.7 2083.8,134.4 2083.2,137.8 2081,140.3 2078.5,142.3 2075.6,142.4 2077.9,144.6 2079,147.9 2081.3,149.6 2083.9,150.5 2083.1,153.2 2081.3,155.4 2079.9,157.9 2080.3,160.8 2079.9,163.6 2080.1,166.6 2078.4,168.4 2076.2,169.4 2073.7,170 2071.8,172.9 2069.6,175.5 2068.5,177.7 2067.4,179.9 2065.7,181.4 2063.1,180 2059.8,180.7 2057.3,178.7 2054.8,179.1 2052.4,178.6 2050.4,176.6 2048.3,177.1 2047.1,179.2 2044.6,180.4 2044.3,183 2043.6,185.3 2041.9,186.8 2043.4,189.5 2044,192.6 2045.8,195.3 2045.6,198.8 2048.2,200.9 2049.9,203.6 2049.5,205.9 2050.8,208.2 2050.4,210.7 2048,211.3 2045.8,212.8 2043,212.7 2041.9,215.2 2040.2,217 2037.5,217.8 2035.5,220.1 2032.8,221.4 2030.5,223.3 2027.8,224.4 2025.1,225.7 2022.1,225.4 2019.3,223.6 2016,222.9 2012.8,223.7 2009.6,222.6 2009.2,220.2 2009,217.7 2007.4,215.7 2006.4,213.3 2003.6,215.2 2001.2,217.6 1998.2,219.2 1995.5,221.1 1994.9,223.4 1994.3,225.7 1992.7,227.6 1991.5,229.8 1992.4,232.3 1992.1,234.6 1991.4,236.9 1990.3,239.1 1990.6,241.7 1988.4,240.8 1986.3,239.7 1984.3,238.4 1982.7,235.8 1980.6,233.8 1977.7,232.5 1976.6,230.1 1975.9,227.5 1974.8,225 1972.7,223.8 1970.1,223.3 1967.7,222.7 1965.8,220.9 1963.2,220.3 1961.3,218.3 1959.1,217.5 1957.4,219.5 1954.7,220.4 1953,222.4 1950.6,223.6 1949,225.8 1946.9,227.2 1944.8,228.8 1942.3,228.7 1939.9,228.7 1937.9,230.6 1935.7,230.5 1935.4,227.1 1937,224.2 1938.1,222 1938.1,219.5 1937.8,217.2 1935.3,217.2 1933.2,215.8 1931.2,214.4 1928.5,214.7 1927.6,211.4 1924.9,209.1 1925.1,205.5 1923.2,202.8 1920.7,200.5 1918.7,197.8 1917.4,195.5 1916.1,193.4 1914.5,191.4 1912.5,189.6 1909.4,190.6 1906.7,192.2 1905,194.8 1903.1,197.7 1900.6,195.6 1897.7,194.5 1898,192 1898.6,189.6 1900.5,187.9 1902.2,186.2 1903.4,183.9 1904.8,181.9 1904.8,179.3 1903.3,177 1902.6,174.6 1900.5,173.4 1898.4,172.2 1896.4,170.7 1894.4,168.6 1891.8,167.5 1889.5,165.8 1886.8,166.3 1884.4,165.3 1881.6,164.7 1880.5,162 1880.2,159.2 1880.2,156.1 1877.9,155.3 1875.9,154.1 1874,152.7 1870.7,152.4 1867.4,150.8 1868.7,148.8 1869.5,146.7 1870.4,144.6 1872.4,142.9 1874.8,141.8 1876.9,140.1 1878.4,138 1880.7,136.7 1882.7,135.1 1882.2,132.5 1882.7,130 1883.1,127.5 1883.2,125.3 1885.9,124.9 1887.9,122.8 1890.7,122.5 1891.5,119.8 1893.2,117.8 1895.5,116.3 1894.4,113 1891.8,110.8 1890.2,108.9 1888.4,107.5 1885.9,107.1 1884,105.5 1882.1,104.2 1879.6,103.8 1879.6,101.4 1879.3,99 1878.5,96.6 1878.2,94.4 1880.2,91.7 1881.3,88.2 1880.2,85.9 1878.6,83.8 1877.9,81.3 1877.2,78.9 1876.1,75.6 1874.6,72.7 1874.9,69.7 1877.3,67.7 1878.2,65.1 1881,64.2 1883.9,64.2 1886.7,63.5 1889.4,63.8 1891.9,62.1 1894.9,62.8 1896.6,61 1897.8,58.7 1898.9,56.5 1901.2,55.1 1902.8,53.2 1903.3,50.5 1905.9,49.6 1908,48.1 1909.7,46 1910.5,43.1 1910.5,40.2 1911.1,37.6 1914.6,38 1918,36.9 1921.4,37 1924.7,35.9 1926.5,34.3 1928.8,33.5"/></clipPath></defs>
<polygon points="1931.1,33.1 1933.1,31.7 1935.7,32.2 1937.9,31.1 1940,29.3 1942.4,28.3 1944.9,28 1947.6,27.2 1949.1,24.8 1951.6,23.3 1954.2,23.7 1956.8,23.1 1959.7,23.1 1961.5,24.6 1962.5,26.8 1964.6,28 1965.7,30 1968.3,31.1 1971,31 1973.7,31.1 1976.4,31.9 1976.8,35.2 1975.5,38.1 1976.8,40.2 1978.3,42 1979.3,44.3 1978.4,47.5 1979.5,50.6 1979.2,53 1977.6,55 1976.7,57.5 1979.3,58.2 1981,59.9 1982.2,62 1983.1,64.4 1985.5,65.6 1986.7,67.8 1986.1,65.6 1985.1,63.5 1984,61.3 1986.5,58.7 1987.2,55.4 1987.9,52.3 1988.6,49.2 1988.7,45.8 1987.9,42.4 1990.4,41.4 1992.5,39.7 1995.1,38.9 1995.3,36.3 1996.8,34.5 1998.3,33 2001.2,33.3 2004.1,32.2 2006.9,32.7 2009.6,33.5 2011.2,35.9 2013.9,36.7 2017.2,35.9 2020.4,35.4 2023.2,33.9 2026.2,34.5 2028.8,33.9 2030.7,36.1 2033,36.4 2035.3,37.4 2037.9,37.9 2039.4,39.7 2039.1,42.9 2040.2,46 2041.6,48.9 2043.1,52 2042.7,55 2041.8,57.8 2044.5,59.6 2047.5,60.5 2050.6,61.3 2053.5,62.9 2055.1,65.3 2057.8,66.7 2059.6,68.9 2062,68.7 2064.3,69.9 2066.7,69.6 2069.5,69.1 2071.8,70.2 2074.2,71.4 2074.2,74.1 2075.7,76.1 2077.5,77.9 2078.4,80.1 2080.4,81.5 2082.6,82.8 2084.8,83.9 2087.5,83.7 2089.3,85.1 2090.8,88.1 2092.7,90.9 2090.9,93.8 2091.2,97.4 2089.3,100.3 2088.9,103.8 2088.3,106.1 2086,107.7 2086,110.1 2086.8,112.8 2088.4,115 2089.4,117.6 2091.4,119.7 2089.6,122.1 2087.7,124.4 2085.2,126.3 2084.8,129.1 2083.6,131.7 2083.8,134.4 2083.2,137.8 2081,140.3 2078.5,142.3 2075.6,142.4 2077.9,144.6 2079,147.9 2081.3,149.6 2083.9,150.5 2083.1,153.2 2081.3,155.4 2079.9,157.9 2080.3,160.8 2079.9,163.6 2080.1,166.6 2078.4,168.4 2076.2,169.4 2073.7,170 2071.8,172.9 2069.6,175.5 2068.5,177.7 2067.4,179.9 2065.7,181.4 2063.1,180 2059.8,180.7 2057.3,178.7 2054.8,179.1 2052.4,178.6 2050.4,176.6 2048.3,177.1 2047.1,179.2 2044.6,180.4 2044.3,183 2043.6,185.3 2041.9,186.8 2043.4,189.5 2044,192.6 2045.8,195.3 2045.6,198.8 2048.2,200.9 2049.9,203.6 2049.5,205.9 2050.8,208.2 2050.4,210.7 2048,211.3 2045.8,212.8 2043,212.7 2041.9,215.2 2040.2,217 2037.5,217.8 2035.5,220.1 2032.8,221.4 2030.5,223.3 2027.8,224.4 2025.1,225.7 2022.1,225.4 2019.3,223.6 2016,222.9 2012.8,223.7 2009.6,222.6 2009.2,220.2 2009,217.7 2007.4,215.7 2006.4,213.3 2003.6,215.2 2001.2,217.6 1998.2,219.2 1995.5,221.1 1994.9,223.4 1994.3,225.7 1992.7,227.6 1991.5,229.8 1992.4,232.3 1992.1,234.6 1991.4,236.9 1990.3,239.1 1990.6,241.7 1988.4,240.8 1986.3,239.7 1984.3,238.4 1982.7,235.8 1980.6,233.8 1977.7,232.5 1976.6,230.1 1975.9,227.5 1974.8,225 1972.7,223.8 1970.1,223.3 1967.7,222.7 1965.8,220.9 1963.2,220.3 1961.3,218.3 1959.1,217.5 1957.4,219.5 1954.7,220.4 1953,222.4 1950.6,223.6 1949,225.8 1946.9,227.2 1944.8,228.8 1942.3,228.7 1939.9,228.7 1937.9,230.6 1935.7,230.5 1935.4,227.1 1937,224.2 1938.1,222 1938.1,219.5 1937.8,217.2 1935.3,217.2 1933.2,215.8 1931.2,214.4 1928.5,214.7 1927.6,211.4 1924.9,209.1 1925.1,205.5 1923.2,202.8 1920.7,200.5 1918.7,197.8 1917.4,195.5 1916.1,193.4 1914.5,191.4 1912.5,189.6 1909.4,190.6 1906.7,192.2 1905,194.8 1903.1,197.7 1900.6,195.6 1897.7,194.5 1898,192 1898.6,189.6 1900.5,187.9 1902.2,186.2 1903.4,183.9 1904.8,181.9 1904.8,179.3 1903.3,177 1902.6,174.6 1900.5,173.4 1898.4,172.2 1896.4,170.7 1894.4,168.6 1891.8,167.5 1889.5,165.8 1886.8,166.3 1884.4,165.3 1881.6,164.7 1880.5,162 1880.2,159.2 1880.2,156.1 1877.9,155.3 1875.9,154.1 1874,152.7 1870.7,152.4 1867.4,150.8 1868.7,148.8 1869.5,146.7 1870.4,144.6 1872.4,142.9 1874.8,141.8 1876.9,140.1 1878.4,138 1880.7,136.7 1882.7,135.1 1882.2,132.5 1882.7,130 1883.1,127.5 1883.2,125.3 1885.9,124.9 1887.9,122.8 1890.7,122.5 1891.5,119.8 1893.2,117.8 1895.5,116.3 1894.4,113 1891.8,110.8 1890.2,108.9 1888.4,107.5 1885.9,107.1 1884,105.5 1882.1,104.2 1879.6,103.8 1879.6,101.4 1879.3,99 1878.5,96.6 1878.2,94.4 1880.2,91.7 1881.3,88.2 1880.2,85.9 1878.6,83.8 1877.9,81.3 1877.2,78.9 1876.1,75.6 1874.6,72.7 1874.9,69.7 1877.3,67.7 1878.2,65.1 1881,64.2 1883.9,64.2 1886.7,63.5 1889.4,63.8 1891.9,62.1 1894.9,62.8 1896.6,61 1897.8,58.7 1898.9,56.5 1901.2,55.1 1902.8,53.2 1903.3,50.5 1905.9,49.6 1908,48.1 1909.7,46 1910.5,43.1 1910.5,40.2 1911.1,37.6 1914.6,38 1918,36.9 1921.4,37 1924.7,35.9 1926.5,34.3 1928.8,33.5" fill="#17181B"/>
<g clip-path="url(#cf1)">
<path d="M1992.1 173.4L2016.9 214.4M1977.7 184.4L1988.4 234.8M1936.1 127.9L1916.3 128.8M1947.3 117.9L1876.2 83.1M1967.9 148.8L1971.7 244.5M1999.8 94.8L2012.7 77.8M1942 129.2L1853.3 134.1M1998.4 176.8L2004.9 201.4M1922.6 141.9L1887.1 153M1973.4 147.1L2012.6 223.6M1971 101.1L1997.7 19.5M1967.4 73.5L1974.1 30.4M1995.4 157.6L2047.3 197.2M2020.2 100.3L2048.7 81.8M1930.5 139.9L1856.4 166.6M1987.9 132.6L2057 155.8M1923.6 129.9L1874.2 125.7M1974.1 175.9L1979.5 222.3M1976.8 152.7L1988.7 195.3M1938.7 167.6L1925.6 200.3M2018.7 152L2065.3 168.9M1944.9 82.1L1931.8 22.7M1910.3 165.5L1868.5 190.1M1996.9 100.7L2023.2 70.3M1984.2 110.6L2004.1 96.1M1971.9 87.6L1970.3 21.8M1964.1 161L1968 207.5M1997 143.4L2059.1 186.4M1964.6 87.4L1972 54.2M1912.7 120.2L1891.5 122M1995.7 80.4L2026.6 35.6M1924.1 149.6L1871.1 181.8M1934.9 122.1L1865.2 118.9M1940.1 69.4L1933.8 49.9M1928.7 81.9L1898.9 53.4M1911.8 165.1L1877.9 200M1984.4 141.5L2002.5 153.1M2004 175.6L2038.2 202.8M1932.8 120.7L1882.6 114.1M1979.3 152.2L1999.1 193.5M1946.4 122.6L1879.3 91.9M1974.3 72.7L1976.7 53M2016.8 150.4L2039.7 164.6M1964.7 181L1973.5 214.1M1940.3 150.1L1885.2 203.4M1920.8 127.9L1852.7 137.5M1931.2 103.4L1891.1 59.6M1946.4 177.4L1929.3 216.7M2019 151.4L2073.2 170M1938 189.5L1937 213.6M2017.6 154.6L2061.9 175.1M1952 115.7L1900.9 68.6M1928.8 124.8L1885.3 125.3M2003.1 140.7L2034.1 154.2M1987.6 80.1L1998.3 42.1M1934.2 156.4L1887 183.7M2001.4 150L2039 177.8M2009.1 93.1L2047.5 69.6M1936.1 76.5L1918 35.2M1967.6 191.7L1965.9 224.3M1995.2 70.7L2005.5 20.2M1952.9 159.6L1942.2 202.7M1945 121.6L1907.8 101.5M1963.7 88.2L1969.8 62.7M1957.7 101.9L1947.9 60.5M1952.9 100.8L1914.4 28.4M1964.1 188.2L1959.8 213.3M1980.3 173.8L1992.8 204.6M2003.8 113.9L2045.5 100.2M1960.6 154.9L1955.7 201.1M1990.2 189.1L1992 210.4M2013.9 107.9L2032.6 99.8M2012 140.5L2065.4 147.4M2010.3 131L2034.9 129M1906.4 146.4L1878.1 163.4M1980.8 72.5L1980.7 31.9M1980.1 163.7L2005.4 209.3M1984.9 72.7L2012 25.5M2011.9 134L2034.3 143.2M1964.6 73.6L1955.4 46.9M1984.7 85.1L2003.9 39.1M1976.4 96L1985.2 60.7M1951.2 175.4L1943.8 237.4M2004.9 146.6L2058.5 162.8M1963.1 149.5L1960.4 171.8M1944.6 83.5L1926.8 62.4M2006 110.1L2044.6 96.5M1959.6 85.5L1961.6 61.5M1970.2 148.3L1980.2 193.7M1947.3 109.7L1899.3 59.9M1997 179.6L2013.6 226.6M1953.4 102.9L1931.4 33.9M1904.5 115.9L1852.6 107.9M2025.4 106L2062.5 78.1M1937 167.4L1903.1 202.9M1950.1 108.2L1899.4 39.7M1986.4 109.8L2052 51.5M1974.4 75.3L1979.8 18.7M1998.6 147.7L2024.3 163.1M1979.9 96L1984.1 68.3M1924.6 150.4L1904.9 157.8M1971.4 151.4L1992.1 236.4M1999.8 102.4L2017.7 83M1921.8 151.5L1869.4 171.3M1948 104.1L1918.1 66.6M1934.8 130.9L1880.2 135.3M2022.6 141.7L2061.6 158.1M1961.2 75.2L1952.5 13.9M1951.4 140.1L1894.2 183.1M1906.4 97.9L1881.2 91.6M1959.9 71.3L1946 34.8M1925.5 171.4L1899.7 200M1928.2 160.1L1888.5 187.3M2002 87.8L2021.2 58M1977 73.1L1980.2 16.6M2001.2 78.4L2010.8 58.1M1948.9 110.1L1892 55.4M1952.3 99.2L1934.3 70.7M1912.8 129.6L1883.7 126.4M1940.3 171.7L1927.2 206.3M1978.9 145L2026 199.7M2009.4 171.6L2047.8 192.4M1958.2 82.3L1951.7 41.3M2001 120.3L2057.9 109.7M1942.4 155L1896.2 202M1924.1 140.4L1892.5 143.7M2014.8 135L2056 134.1M1925.9 104.7L1905.3 92.4M1994.8 178L2014.4 204M1970.1 148.7L1981.8 180.5M1923.4 87L1898.2 73.5M1942.6 123.7L1895.8 108.8M1980.9 178.9L2002.4 217.1M1967.9 176.1L1974.1 200M1914.2 101.9L1881 80.2M1998.5 130.7L2037.5 140.1M1930.4 172.9L1917.3 189.3M2009 93.7L2037.5 60.8M1985.3 119L2070.2 85M1957.4 85.6L1949.3 58.5M1939.9 85.8L1926.1 50.5M1996 139.4L2020.7 145.5M1980.3 75.9L1983.6 50.1M2004.1 161.5L2038.2 182.8M1923.2 171.8L1895.6 193.4M1937.1 99.2L1900 65.1M1979.2 168.8L1993.7 202M1990.1 186.7L2009.5 215M1993.6 134.5L2071.4 145.9M1951.1 103.4L1918.7 49.1M1961.9 85.1L1954.2 46.4M1916.9 96L1878.8 71M1936.5 183.2L1921.8 230.4M1941.7 78.4L1932.1 31.6M1987.5 108.1L2046.2 45.6M1917.8 174L1901.3 192.5M1943.6 106.5L1921.2 77M1924.3 93.5L1890.7 52.2M2011.5 92.7L2056.1 57.4M1952.8 87.6L1935.5 18.5M1919.9 150.2L1893.3 170.8M1947 145L1935 161.2M1912.6 144.5L1891.2 148.2M1998.6 156.5L2026.3 178.5M1956.6 91.7L1950.9 49.6M1991.9 152.2L2033.2 199.5M1996 124.9L2055.7 113M1948 72.1L1937.7 49.6M1998.2 115.1L2054.3 99M1955.6 184.3L1954.9 204.2M1983.1 159.1L2005.9 183.2M1974.4 103.8L1995 47.8M2000.5 80.6L2018.7 41.6M1967.2 106.1L1968.1 18.1M1965.2 157.4L1959.1 203.6M1999.1 85.7L2024.6 42.3M1951.5 158.5L1924.7 197.6M1987.8 128.3L2078.7 137.3M1915.3 141.5L1864.7 162.4M1916.3 84.8L1889.6 46.2M2011.4 155.7L2041.4 184.1M1988.1 167.7L1996.4 192.5M1962.3 109.6L1949.6 68M1933.5 92.1L1924.7 70.3M2004.4 120.3L2054.6 106M1936.2 105.6L1903.6 73.6M1978.4 158.9L2011 219M2022.6 155.1L2046 163.8M1953.7 157.2L1936.5 196.3M1998.6 158.2L2019.4 167.8" stroke="#45474E" stroke-width="1.8" fill="none" opacity="0.7" stroke-linecap="round"/>
<path d="M1980.1 125L1995.5 124.5M1971.4 141.8L1992.7 184.6M1979.6 117.2L2023.5 76.3M1931.4 103.5L1911.9 80M1962.7 117.5L1948.1 57.4M1959.5 144.3L1937.4 195.7M2000 114.7L2039.1 100M1955.7 99L1954.1 75.7M1951.4 163.3L1933 200.4M1990.1 159.1L2014.2 180.6M1993 137.5L2005.9 146.3M1937.6 127.7L1908.3 124.3M1983.7 118.4L2010.9 103.8M1956.7 158.3L1947.9 190.2M1952.5 103.6L1949.4 86M1950.2 148.6L1927.1 168.8M1992.4 120.6L2018.4 106.7M1978.4 119.1L2009.8 92.2M1955.1 148.7L1949 170.4M1928.8 120.5L1896.4 118.3M1961.6 117.7L1952.6 82.6M1988.7 116.4L2030.7 93.6M1935.6 124.3L1887.7 112.3M1930.8 134.8L1898 142.9M1973.9 91L1987.6 63.1M1993 132L2031.4 133.8M1981.9 159L1998.1 181.7M2008 140.2L2030.4 140M1969.7 147.3L1986.6 199.5M1963.5 142L1960.7 180.7M1945.8 158.5L1917.3 189.7M1988.3 134.4L2038.6 138.2M1973.6 154.8L1978.7 183.3M1960.5 103.1L1952.6 80.4M1964.4 141L1964.4 190.9M1990.7 107.9L2002.9 97.8M1956.6 121.9L1921 102.1M1966.7 118.7L1978.6 70.8M1976 113.9L1994.3 78.7M1943.7 162.5L1932.1 196.2M1942.1 151L1925.1 161.8M1988.6 110.6L2012.8 97.4M1949.2 127.5L1921.4 128.9M1980.4 105.2L2006.2 73.7M1982.1 126.1L2016.2 125M1967.4 105.4L1965.7 63.4M1971.9 138.8L1992.6 166.6M1922 124L1904.9 121.2M1986.1 105.6L2010.5 83.9M2008.5 134.7L2036.9 144.1M1971.8 116.8L1977.6 100.3M1922.9 127.5L1887.8 128.1M1939.9 103.9L1927.6 82.6M1998.8 116.1L2039.4 106.5M1953.4 111.5L1935.7 91.5M2005.4 143.8L2027.2 144.3M1960.2 141.3L1947 176.2M1977.7 152.6L1993.2 178.8M1973.7 109.7L1993.5 76.5M1988.1 122.9L2004.1 123.1" stroke="#0A0A0C" stroke-width="2.2" fill="none" opacity="0.9" stroke-linecap="round"/>
</g>
<path d="M1932 29.4L1938.3 28.2L1937.4 40.2ZM1951.8 20.9L1955.7 22.2L1948.8 36.2ZM1958.1 24.1L1963.4 22.4L1964.4 34.5ZM1971.5 28.2L1975.7 29.8L1965.6 50.5ZM1974.1 36.5L1979.6 36.4L1977 48.4ZM1974.4 48.2L1979.2 47.3L1981 72.2ZM1986 64.4L1989.1 67.3L1972.9 81.5ZM1984.6 54.7L1989.7 55L1985.8 77.4ZM1985.4 42.8L1990.1 42L1990.6 58.9ZM1991.5 34.5L1996.2 34.8L1992.7 50.5ZM2005 31.2L2009 33.2L1996.2 53.9ZM2013.8 33.8L2018.7 35.4L2011.6 48.6ZM2027.8 31.3L2033 33.7L2024.9 44.2ZM2039.7 41.2L2043.7 45.7L2025.4 58.2ZM2039.8 50.9L2044.7 53.7L2033.2 68.5ZM2052.5 59.4L2055 62.7L2040.9 70.8ZM2070.7 68.3L2071.1 73.1L2052 72.2ZM2077.5 73L2079.4 78.1L2064.7 80.6ZM2087 80.5L2088.7 84.6L2065.2 91.8ZM2092.4 92.4L2094.8 98L2076.4 102.8ZM2089.2 108.3L2087.9 113L2071.5 106.1ZM2090.9 122.9L2091 127.3L2069.4 125.7ZM2087.5 131.5L2087.6 135.7L2075.1 134ZM2080.3 142.6L2078.6 147.9L2055.5 137.5ZM2085.5 154.4L2085.1 158.8L2066.7 154.9ZM2083 164.9L2081.5 169.1L2062.5 159.9ZM2071.3 177.7L2068.5 183L2055.6 172.8ZM2062.6 177.8L2061 183.1L2046.2 175.8ZM2051.5 178.7L2047.5 181.5L2042.1 169.3ZM2046.8 191.4L2043.7 193.9L2035.6 180.7ZM2053.3 208.2L2048 211.5L2040 192.7ZM2043.8 216.5L2040.9 219.2L2029.3 204.1ZM2027.7 223.8L2024 228.8L2015.7 218.8ZM2013.2 223.2L2010.3 226L1994.7 206.6ZM2006.6 215.4L2003.3 219.1L1994.8 208.2ZM1997.3 229.3L1992.8 232.4L1982 212ZM1988.1 242.4L1984.7 241.6L1990.7 223.8ZM1982.3 235.4L1978.1 234.6L1982.7 222.1ZM1970.8 225L1965.7 224L1972.3 202.1ZM1958 222.8L1954.2 220.9L1961.3 211.3ZM1941.9 232L1936.6 232.1L1938.7 207.9ZM1938.7 221.3L1933.2 218.8L1943.6 203.5ZM1930.2 217.5L1924.6 216.2L1932.5 194.4ZM1920.2 203.4L1916.3 199.8L1929 189.9ZM1909 195.1L1906.7 191.5L1920.5 185.3ZM1900.6 199L1896.3 196.6L1909.5 178.3ZM1900.2 191.6L1897.9 186.1L1917 181.5ZM1898.5 176.1L1895.3 172.1L1909.6 164ZM1879.1 167.4L1878.4 162.2L1904.4 161.5ZM1871.5 156.8L1869.3 152.2L1888.3 146.1ZM1871.6 143.1L1872.3 138.9L1896.6 145.2ZM1882 132.3L1880 127.4L1895.6 123.9ZM1885 123L1886.7 119.1L1903.8 129ZM1889.6 113.7L1892.3 108.1L1902.5 116.6ZM1876.4 104.9L1878 99.7L1890.9 106.8ZM1876.9 94.1L1877 89.5L1901.2 92.2ZM1872.2 76L1874.6 72L1890.7 83.9ZM1881.6 63.6L1885.8 60.5L1894.1 76ZM1893.2 60.3L1898.1 58.1L1903.3 75.9ZM1903.1 50.3L1906.2 45.4L1918.5 56.8ZM1909.4 36.4L1913.9 32.3L1921.1 44.7Z" fill="#fff"/>
<path d="M1930.3 31L1932.5 30.4L1934.3 41.8ZM1940.2 26.3L1942.8 25.4L1944.9 35.5ZM1953 21.2L1955.1 21.9L1951 31.1ZM1961.1 23.5L1963.2 23.7L1961.3 33.5ZM1972.8 28.9L1974.7 29L1973.4 39.3ZM1975 36.2L1977.1 35.6L1978.7 44.1ZM1975.5 45.6L1978.2 45.3L1978.1 56.1ZM1976.7 54.7L1979.8 55.3L1977 62.3ZM1985.6 63.6L1988.5 64.8L1984.4 70.9ZM1985.5 55.7L1987.8 55.4L1987.6 64.1ZM1986.9 41.6L1989.3 41.4L1988.5 48.3ZM1992 35.7L1994.7 37L1989.6 44.4ZM2003 31.1L2005.5 31.5L2002.8 41.6ZM2016.8 33.5L2020 33.9L2017.2 42.4ZM2024.7 31.3L2026.8 32.1L2022.8 39.2ZM2038.7 36.7L2040.6 37.6L2035.5 46.9ZM2040.6 50.4L2043.4 51.8L2038.9 57.3ZM2044.2 56.5L2045.7 58.7L2038.8 61.9ZM2053.1 60L2054.5 62.4L2045.3 66.4ZM2059.5 65.4L2060.2 67.9L2052.5 68.9ZM2072.3 69.3L2072.9 71.8L2063.8 72.9ZM2078.1 74L2078.4 76.9L2068.8 76.5ZM2089.6 82.6L2090 85L2081.9 85.2ZM2091.9 88.6L2093.2 91L2083 94.9ZM2093.1 96.9L2093.8 99.7L2085.1 100.1ZM2089 109.9L2089.5 111.9L2082.6 112.7ZM2092 120.1L2092.5 122.9L2085.6 122.7ZM2087.6 131.7L2087.9 134L2081.2 133.6ZM2079.2 139.7L2079.8 141.5L2072.7 142.5ZM2081.2 145L2080.6 147.6L2071.1 143.8ZM2086.7 150.9L2086.5 153.8L2080 151.9ZM2083.4 161.9L2083.3 164.1L2076.3 162.9ZM2078.3 171.1L2076.8 173.6L2071.7 168.7ZM2072 176.6L2071.8 178.6L2062.4 176.4ZM2058.8 179.5L2057.2 181.6L2050.1 174.3ZM2047.2 184.2L2045.6 185.4L2040.8 177.5ZM2047.1 195.8L2044.6 196.9L2042.6 189.4ZM2049.6 202.7L2047.4 204.1L2043.7 195.6ZM2050.8 212.3L2048.8 214.1L2043 206.1ZM2042.5 218.1L2039.9 219.1L2038.6 212ZM2034 221.5L2032.6 223.6L2026.7 218.1ZM2026.6 226.3L2024 227.5L2020.5 216.7ZM2015.6 225.4L2012.9 226.4L2010.9 217.6ZM2009 216L2006.5 217.1L2003.4 207.3ZM2003.8 218L2002.1 219.5L1997.5 212.3ZM1996.3 228.3L1993.6 229.2L1991.9 219.3ZM1992.8 243.1L1989.7 243.7L1989.8 235.7ZM1984.3 239.1L1982 239L1983.6 231.3ZM1977.4 229.2L1974.3 228.4L1978.8 217.9ZM1967.8 224.2L1965.3 223.7L1968.6 213.9ZM1956.8 223.3L1954.5 223.3L1955.7 214.5ZM1949.2 228.2L1947 226.9L1953 219.8ZM1938.8 232.6L1936.1 232.4L1938 225.5ZM1938 225.9L1935.7 225.9L1936.9 216.9ZM1929.1 217.9L1926.5 216.8L1932.1 207ZM1922.4 207.4L1919.9 205.7L1925.2 200.5ZM1917.8 200.3L1915.8 198L1925.6 191.9ZM1907.9 195.2L1906.3 192.8L1914.6 189ZM1897.7 197.7L1896 195.6L1903.9 191.3ZM1903.7 186.9L1901 185.5L1907 177.7ZM1899.8 179.4L1899.3 177L1910.3 176ZM1893.5 171.2L1892.3 169.3L1899.3 166ZM1880.1 166.7L1878.6 165.1L1885.6 159.7ZM1872.7 155.5L1873 153.5L1882.4 155.6ZM1867.9 147.4L1867.1 144.4L1877.9 143.2ZM1875.4 141.8L1874.1 139.1L1885 135.8ZM1880.2 134.1L1880.8 132.1L1890.7 136ZM1881 127.1L1881.2 125L1889.1 126.9ZM1885.9 123.1L1885.7 121.2L1892.4 121.6ZM1892.3 117.3L1892.7 115L1901.9 117.9ZM1888.6 110.1L1889.2 107.8L1898 111.6ZM1878.8 104.7L1879.5 102.9L1889.7 107.9ZM1876.5 91.6L1878.2 89.5L1884 95.9ZM1874.9 77.8L1876.3 76.4L1883.1 84.4ZM1872.3 71.5L1872.8 69.5L1883.5 73.3ZM1878.7 63.3L1880.3 61.9L1886.6 70.6ZM1892.9 62.3L1894.1 60.7L1902.4 67.7ZM1902.1 51.4L1903.2 49.3L1912.3 55.4ZM1908.1 38.8L1911 37.9L1912.7 49.1ZM1917.7 34.3L1919.3 32.6L1926.7 41.3ZM1926.1 32.6L1928.7 30.9L1933 40.3Z" fill="#fff"/>
<polygon points="1945.4,85.1 1949.9,83.2 1951.2,86.3 1952.6,89.3 1954.4,92 1955.7,95 1958.2,97.6 1957.3,101.1 1956.8,104.4 1954.6,102.1 1952.7,99.5 1949.8,97.6 1948.8,94.4 1947.3,91.4 1946.6,88.1" fill="#fff"/>
<polygon points="1984.5,103.8 1986.7,100.9 1989.2,98.2 1991.4,95 1994.7,93.9 1997.7,92.2 2000.5,90.3 2003.1,87.9 2006.4,86.6 2009.4,84.8 2012.4,83.1 2016.1,82.6 2019.2,81.1 2021.9,78.5 2025.1,78.2 2027.9,76.6 2030.7,75.1 2033.8,74.2 2032.1,77.1 2031.2,80.4 2029.8,83.4 2026.3,84.5 2023.2,86.6 2019.6,87.2 2016,88 2012.7,89.4 2009.6,91.3 2006.5,93.1 2004,95.1 2001.2,96.5 1997.8,96.9 1995.5,99.2 1992.9,101.4 1989.8,102.8 1987.5,105.5" fill="#fff"/>
<polygon points="1982.9,110 1985.8,108.4 1989.2,107.9 1992,105.9 1995.4,105.4 1998,103.6 2000.5,101.6 2003.6,100.7 2006.2,98.8 2010,97.7 2013.4,95.9 2017.5,95.3 2015.8,98.8 2014.1,102 2010.8,104 2007.3,105 2003.5,105.6 2000,106.7 1996.9,108.2 1993.9,109.8 1990.4,110.3 1987.5,112.7" fill="#fff"/>
<polygon points="2002.5,118.1 2005.9,117.2 2009.1,115.5 2012.3,114 2015.6,112.9 2018.8,112.6 2021.7,111.5 2024.8,111.1 2027.7,109.7 2030.8,109.4 2033.8,108.2 2031.3,113.3 2028.1,114.3 2025.2,116 2022,117 2018.8,118 2015.8,119.6 2011.8,120 2007.8,120.2 2003.9,121.4" fill="#fff"/>
<polygon points="1995.4,127.3 1999,126.6 2002.7,126.3 2006.4,125.5 2009.4,126.8 2012.5,127.5 2015.7,127.8 2019,127.7 2022,128.8 2025,127.8 2028.1,126.9 2031.5,127.2 2034.4,126 2038.4,126.6 2041.6,129.4 2045.4,130.4 2044.8,133.7 2043.9,137.1 2040.7,137.7 2037.6,139.1 2034.5,140 2031.5,138.6 2028,138.1 2025.3,135.9 2022,134.8 2018.9,134 2015.7,134.3 2012.5,134.9 2009.4,134.6 2006.3,133.7 2003.3,132.4 2000.1,133 1996.9,132.3" fill="#fff"/>
<polygon points="1990.7,140.5 1992.7,143 1994.4,145.7 1997,147.6 2000.6,148.9 2004.2,150.3 2008,151.3 2011,152.7 2014.1,154 2017.1,155.5 2020.5,155.9 2023.4,157.1 2026.3,158.1 2028.7,160.4 2031.6,161.5 2034.7,162.2 2036.8,165.6 2039.7,168.2 2043.1,170.2 2039.8,169.3 2036.3,169.2 2032.9,168.7 2029.8,167.1 2026.1,166.2 2022.8,164.5 2019.6,162.6 2016.2,162.7 2013,161.5 2009.7,161 2006.5,160.2 2003.2,157.9 2000.2,155.3 1997,153.1 1994.4,149.4 1991.5,146" fill="#fff"/>
<polygon points="1921.3,150.1 1924,148.3 1926.2,145.8 1928.5,143.4 1931.2,141.4 1934.5,140.6 1937.5,139 1940.8,138.1 1943.7,136.2 1946.8,135.2 1950.4,138.6 1947,139.6 1943.8,141.3 1940.8,143.3 1937.5,144.8 1934.3,146.5 1931.6,149.1 1928.1,150.6 1925.2,152.4" fill="#fff"/>
<polygon points="1965.2,156.3 1968.6,159.8 1969.1,163 1969.7,166.1 1970.4,169.2 1969.6,172.5 1970.2,175.6 1970,178.8 1970.8,182 1970,185.2 1970.4,188.6 1969.3,191.8 1969.1,195.1 1969.1,198.4 1965.7,195.3 1965.8,192.2 1964.9,189.3 1965.3,186.2 1965.6,183.2 1964.5,180.2 1965.2,177.2 1964.7,174.2 1965.3,170.6 1964.7,167 1964.4,163.3 1965.7,159.8" fill="#fff"/>
<polygon points="1974.1,148.5 1975.6,151.7 1977.8,154.6 1979.8,157.6 1981.9,160.5 1982.8,164.1 1985.3,166.4 1987.3,169.1 1990.1,171.1 1992,173.9 1994.7,176.2 1991.6,177.5 1989,174.9 1985.9,172.9 1983.3,170.3 1980.7,167.9 1978.4,165 1977.1,161.6 1975.7,158.3 1973.4,155.4 1974.4,151.9" fill="#fff"/>
<polygon points="1943.8,175.8 1947,175.3 1949.9,174.1 1947.9,177 1946.6,180.2 1944.8,183.2 1944.1,186.8 1942.3,189.4 1940.1,191.8 1938.9,194.8 1937.8,197.5 1935,194.4 1936.6,191.3 1937.7,188.1 1939.6,185.1 1941,182 1941.7,178.5" fill="#fff"/>
<polygon points="2042.4,175.6 2046,176.1 2049.4,177.6 2048,181.2 2046.3,184.5 2043.8,187.5 2042.5,184.3 2040.1,182.1 2041.5,179" fill="#fff"/>
</g>
<g id="frac2">
<polygon points="2073.1,380.9 2076.5,380.5 2079.7,378.4 2082.7,379.5 2085,382.1 2087.9,383.4 2090.8,384.5 2093.1,386.6 2094.5,389.4 2096.4,391.9 2098.4,394.3 2100.6,396.6 2101.3,399.8 2102.1,402.9 2102.3,406.2 2102.6,409.5 2103.5,412.6 2105.1,415.6 2105.9,418.8 2106.8,422 2107.9,425.1 2108.6,428.4 2108.5,431.8 2109.5,434.9 2109.9,438.2 2110.2,441.7 2111.9,444.7 2112.9,448 2114.6,451 2116,454.2 2116.6,457.6 2117.6,460.8 2118.8,463.8 2119.4,467 2121.3,469.6 2122.8,472.2 2123.9,468.9 2123.9,465.5 2124,462.1 2124.5,458.7 2124.1,455.4 2127.5,453.8 2130.5,451.5 2130.1,448 2128.8,444.9 2126.6,442.1 2125.7,439.1 2124.1,436.5 2122.2,434.1 2120.8,431.4 2119.2,428.8 2118.5,425.2 2116.4,422.2 2115.6,418.6 2113.5,415.6 2113.6,411.7 2113,407.9 2111.7,404.2 2113.1,401.1 2114.9,398.2 2115.6,394.9 2117.7,392.5 2119.7,389.9 2122.1,387.8 2124.8,386 2126.6,383.3 2129.3,381.5 2130.3,378.3 2133.1,376.6 2134.1,373.5 2136.9,371.8 2138.4,369.1 2140,366.5 2142.9,364.8 2145.8,363.4 2148.6,361.6 2151.3,359.7 2154.7,358.8 2158.2,358.7 2161.7,358.9 2165,357.8 2168.5,356.7 2171.1,359.4 2174.2,361.1 2177.1,363.3 2180.8,364.1 2183.4,366.6 2186.5,368.8 2188,372.3 2190.9,374.7 2193.1,377.8 2192.9,381.7 2194.9,385.2 2194.8,389.1 2193.3,392.3 2193.4,395.9 2192.5,399.2 2190.8,402.3 2191.2,406.1 2190.7,409.9 2191.2,413.4 2194,415.4 2196.8,417.2 2199.7,419 2203.3,419.3 2205.9,421.4 2209.2,423.5 2210.6,427.2 2213.9,429.2 2215.8,432.5 2216.2,436.2 2218.5,439.2 2219.5,442.6 2219.8,446.3 2221.4,449.6 2222.9,452.5 2222,456.1 2224.2,458.9 2225.2,462 2225.5,465.3 2225.9,468.4 2224,471.4 2223.5,475.1 2221.3,478 2219,480.2 2216,481 2213.1,482 2210.5,483.6 2207.9,485.2 2204.9,486.2 2201.8,487.1 2198.9,488.5 2196,490.1 2193,491.3 2189.8,492.4 2187,494.5 2184.2,496.3 2180.9,497.3 2177.7,498.9 2181.1,499.6 2183.8,501.9 2187,503.1 2189.9,504.8 2193.1,506.1 2194.6,509.1 2197.8,510.5 2199.6,513.2 2202.1,515.2 2204.5,517.3 2206.6,520 2209.5,521.9 2211.9,524.1 2214.1,527 2214.8,530.3 2215.4,533.5 2214.9,537 2215.6,540.3 2213.3,542.5 2211.9,545.2 2210.3,547.8 2210,551.1 2208.1,553.5 2207.2,556.8 2205.4,559.7 2204.2,562.8 2201.1,563.2 2198.1,564.1 2195.3,565.6 2192.2,566.1 2189.2,566.7 2186.2,568.2 2183,568.8 2179.7,568.8 2176.7,569.9 2173.3,569.5 2170.2,570.7 2167.1,569.7 2164.3,568.2 2161.5,566.7 2158.8,565 2156.3,562.5 2153.6,560.3 2150.8,558.3 2148.5,555.6 2145.5,553.6 2144.4,550.4 2142.6,547.7 2140.4,545.3 2138,543 2136.3,540.3 2134.5,537.5 2131.8,535.4 2130.5,532.4 2128.7,529.7 2126.7,527.2 2123.6,525.8 2120.9,523.3 2122.2,526.2 2122.7,529.2 2122.8,532.4 2124.2,535.2 2125.6,538 2125.2,541.3 2126.9,544 2128.3,547 2127.7,550.4 2129.4,553.3 2129.7,556.6 2129.4,559.9 2130.5,562.9 2131.5,566.1 2130.7,569.2 2130.8,572.4 2130.6,575.5 2131.1,578.7 2130.5,581.8 2130.4,585.2 2129.1,588.2 2128,591.3 2126.1,594.2 2126.6,597.8 2124.8,600.6 2123.1,603.7 2120.3,605.9 2118.3,608.8 2115.9,611.3 2113.5,613.8 2110.6,614.9 2107.7,616.1 2104.7,616.9 2101.7,617.7 2098.5,617.5 2095.4,616.5 2092.4,615 2089.1,614.6 2085.6,614.8 2082.8,612.7 2079.7,611.9 2076.8,609.8 2073.5,608.3 2070.4,606.6 2067.4,604.6 2064.7,602.5 2062.6,599.8 2061.5,596.5 2059.9,593.6 2059.2,590.2 2057.1,587.5 2057,584.2 2056.2,581.1 2054.9,578.2 2052.1,576.1 2049.7,573.5 2046.8,571.6 2044.4,569.1 2041.8,566.6 2038.9,564.8 2035.6,564.1 2032.6,562.4 2028.9,562.4 2026,560.7 2023.1,558.9 2020,557.8 2017.8,555.5 2014.9,554.1 2012.4,552.2 2010.7,549.1 2008.1,547.6 2006.1,545 2003.5,542.9 2001.8,540.1 1999.8,537.5 1998.5,534.5 1997.2,531.2 1995.4,528 1994.1,524.7 1992.4,521.2 1994.2,518.4 1996.4,515.7 1997.6,512.5 1998.1,509 2000.2,506.3 2001.5,503.2 2001.7,499.8 2003.7,497 2003.9,493.6 2005.3,490.6 2005.8,487.4 2007.2,484.1 2007.2,480.6 2007.2,477.2 2006.8,473.7 2007.8,470.3 2009,467.1 2011.7,464.8 2014,462.2 2014.9,458.7 2017.2,456.2 2019.1,453.3 2022.2,451.9 2025.6,451.2 2028.9,449.6 2029.4,446.3 2029.5,443 2030.8,439.8 2030.4,436.3 2033.5,434.8 2036.3,432.8 2039.2,431.1 2041.8,429 2045.2,428.7 2048.6,429.8 2052,429.8 2055.4,430.6 2058.5,430.9 2061,433.7 2064.2,435.8 2065.9,439.1 2068.2,442.2 2073.6,442.9 2073,446.4 2072.1,449.8 2072.3,453.2 2072.8,456.7 2074.7,459.6 2076.4,462.5 2077.4,465.8 2079.5,468.7 2083.7,469.7 2087.3,472.4 2090.2,470.8 2093,468.3 2094.3,471.1 2096.5,473.3 2098.9,475.2 2100.4,478.1 2104,476.6 2108,476.9 2111.6,476 2110.6,472.3 2110.6,468.5 2109.8,464.7 2108,462.2 2107.9,458.9 2105.1,456.9 2103.6,454.3 2103,451.2 2102.3,448.2 2100.5,445.8 2099.7,442.4 2098.2,439.3 2097.4,436 2095.8,432.9 2094.6,429.7 2093.9,426.4 2092.5,423.3 2090.6,420.7 2090.1,417.2 2087.6,414.9 2086.9,411.6 2085.4,408.7 2083.3,406.2 2080.7,403.5 2078,401 2075.3,398.5 2071.8,396.8 2070,393.1 2069.1,389.1 2070.4,386.3 2071.4,383.3" fill="#0B0B0C"/>
<polygon points="2044.8,473 2047.9,473.3 2051,473.9 2054.1,473.8 2056.8,475.6 2059.4,477.5 2062.3,479 2064.9,481.1 2067.5,483 2070.1,485 2073.1,486.5 2075.6,488.1 2078.2,489.5 2080.4,491.8 2082.9,493.3 2085.8,494.4 2088,496.6 2090.5,499.1 2093.4,501.1 2096.2,503.2 2093,503.4 2089.8,503.3 2086.6,502.6 2083.3,502.6 2080.5,501.2 2077.9,499.7 2075.1,498.4 2072.6,496.5 2069.9,495 2067.4,493.3 2064.3,491.5 2061.3,489.5 2058.2,487.7 2055.3,485.7 2052.2,484 2050.2,481.3 2048.9,478.2 2047.1,475.5" fill="#fff"/>
<polygon points="2132.8,485.1 2134.4,481.8 2135.8,478.4 2136.8,474.8 2138.3,471.4 2139.8,468.7 2141,465.9 2142.9,463.4 2144.1,460.6 2145.4,457.8 2146.7,455 2148,452.3 2149.6,449.3 2151.9,446.7 2153.6,443.9 2156.2,441.6 2157.7,438.5 2160.6,437.3 2162.9,435 2165.8,433.9 2168.3,431.9 2171,430.4 2173.6,428.9 2176,431.4 2177.6,434.6 2174.6,436.3 2172.3,438.7 2170,441.1 2166.9,442.6 2164.4,444.9 2163.1,448.1 2161,450.8 2159.4,453.7 2157.4,456.5 2155.4,459.1 2153.8,462.1 2151.8,464.8 2150.8,468.1 2149,470.9 2146.8,473.5 2145.5,476.6 2143.8,479.5 2141,480.8 2138.3,482.3 2135.6,483.8" fill="#fff"/>
<polygon points="2129.1,500.6 2132.2,500.2 2135.3,500 2138.3,499.4 2141.5,499.6 2144.5,499.3 2147.6,498.8 2151.1,498.7 2154.5,499.5 2158,499.7 2161.5,500 2164.9,501 2168.3,501.1 2172.4,502.4 2175.9,504.6 2172.5,505.1 2169.2,505.8 2165.8,506.4 2162.4,506.5 2159.1,507.2 2155.7,507.5 2152.3,508.1 2149.4,509.4 2146.1,509.8 2143,510.5 2140.1,511.8 2136.8,510.4 2133.3,509.6 2130,507.8 2129.3,504.2" fill="#fff"/>
</g>
<g id="frac3">
<circle cx="2119" cy="813.1" r="24" fill="#CFCFDD" opacity="0.55"/>
<g fill="#8A7F4A"><circle cx="2099" cy="823.2" r="2.4"/><circle cx="2098.2" cy="823.5" r="2.2"/><circle cx="2097.2" cy="823.9" r="2"/><circle cx="2096.2" cy="824.4" r="2.6"/><circle cx="2097.1" cy="826.5" r="1.7"/><circle cx="2095.1" cy="824.9" r="2.7"/><circle cx="2093.8" cy="825.5" r="3"/><circle cx="2092.5" cy="826.1" r="2.6"/><circle cx="2091.8" cy="824.4" r="1.7"/><circle cx="2091.1" cy="826.7" r="2.2"/><circle cx="2089.7" cy="827.4" r="2.1"/><circle cx="2088.1" cy="828" r="2.6"/><circle cx="2089" cy="829.9" r="1.3"/><circle cx="2086.6" cy="828.8" r="2.7"/><circle cx="2084.9" cy="829.5" r="3"/><circle cx="2083.3" cy="830.2" r="2.6"/><circle cx="2082.5" cy="828.4" r="1.6"/><circle cx="2081.6" cy="831" r="2.3"/><circle cx="2079.9" cy="831.8" r="2.3"/><circle cx="2078.1" cy="832.5" r="2.5"/><circle cx="2078.9" cy="834.3" r="1.6"/><circle cx="2076.4" cy="833.3" r="2.4"/><circle cx="2074.7" cy="834.1" r="2.8"/><circle cx="2072.9" cy="834.8" r="3.2"/><circle cx="2072.3" cy="833.3" r="1.3"/><circle cx="2071.2" cy="835.6" r="2.8"/><circle cx="2069.5" cy="836.3" r="2.4"/><circle cx="2067.9" cy="837" r="1.9"/><circle cx="2068.5" cy="838.5" r="1.3"/><circle cx="2066.2" cy="837.7" r="2.3"/><circle cx="2064.7" cy="838.3" r="2.6"/><circle cx="2063.1" cy="838.9" r="3.1"/><circle cx="2062.5" cy="837.4" r="1.4"/><circle cx="2061.6" cy="839.6" r="2.7"/><circle cx="2059.9" cy="840.2" r="2.3"/><circle cx="2058.3" cy="840.8" r="1.9"/><circle cx="2059.1" cy="843" r="1.7"/><circle cx="2056.6" cy="841.4" r="2.3"/><circle cx="2055" cy="842" r="2.4"/><circle cx="2053.3" cy="842.7" r="2.8"/><circle cx="2052.8" cy="841.3" r="1.4"/><circle cx="2051.5" cy="843.3" r="2.8"/><circle cx="2049.8" cy="843.9" r="2.7"/><circle cx="2048.1" cy="844.5" r="2.2"/><circle cx="2048.6" cy="845.9" r="1.6"/><circle cx="2046.4" cy="845.1" r="2.2"/><circle cx="2044.7" cy="845.7" r="2.4"/><circle cx="2043" cy="846.2" r="2.7"/><circle cx="2042.4" cy="844.4" r="1.7"/><circle cx="2041.4" cy="846.8" r="3"/><circle cx="2039.8" cy="847.4" r="2.8"/><circle cx="2038.2" cy="847.9" r="2.7"/><circle cx="2038.8" cy="849.6" r="1.7"/><circle cx="2036.6" cy="848.5" r="2.1"/><circle cx="2035.1" cy="849" r="2.4"/><circle cx="2033.7" cy="849.5" r="2.2"/><circle cx="2033" cy="847.6" r="1.5"/><circle cx="2032.3" cy="850" r="2.8"/><circle cx="2030.9" cy="850.5" r="3.4"/><circle cx="2029.7" cy="850.9" r="3.1"/><circle cx="2030.2" cy="852.4" r="1.5"/><circle cx="2028.4" cy="851.4" r="2.7"/><circle cx="2027.3" cy="851.8" r="2"/><circle cx="2024.7" cy="852.9" r="2"/><circle cx="2023.9" cy="850.9" r="1.7"/><circle cx="2022.4" cy="853.8" r="2.6"/><circle cx="2020.4" cy="854.7" r="3"/><circle cx="2018.7" cy="855.5" r="3.2"/><circle cx="2019.4" cy="857" r="1.8"/><circle cx="2017.2" cy="856.2" r="3.3"/><circle cx="2015.9" cy="856.8" r="2.5"/><circle cx="2014.8" cy="857.4" r="2"/><circle cx="2014" cy="855.7" r="1.8"/><circle cx="2013.8" cy="857.9" r="2.2"/><circle cx="2013" cy="858.3" r="2.5"/></g>
<g fill="#B9B58A" opacity="0.7"><circle cx="2097.8" cy="823.7" r="1.3"/><circle cx="2094" cy="825.3" r="1.3"/><circle cx="2088.3" cy="828.3" r="1.3"/><circle cx="2082.1" cy="831.3" r="1.3"/><circle cx="2074.6" cy="834.4" r="1.3"/><circle cx="2068.3" cy="837.4" r="1.3"/><circle cx="2061.8" cy="839.6" r="1.3"/><circle cx="2055" cy="842.4" r="1.3"/><circle cx="2048.2" cy="844.7" r="1.3"/><circle cx="2041.1" cy="846.4" r="1.3"/><circle cx="2034.9" cy="849.1" r="1.3"/><circle cx="2029.7" cy="850.6" r="1.4"/><circle cx="2022.1" cy="854.3" r="1.4"/><circle cx="2015.5" cy="857.3" r="1.4"/></g>
<g fill="#2A2B22"><circle cx="2017.3" cy="856.8" r="1.9"/><circle cx="2016.3" cy="857.3" r="2.2"/><circle cx="2014.9" cy="857.9" r="2.4"/><circle cx="2013.3" cy="858.7" r="2.3"/><circle cx="2014.2" cy="860.5" r="1.2"/><circle cx="2011.6" cy="859.5" r="2.5"/><circle cx="2009.7" cy="860.3" r="2"/><circle cx="2007.8" cy="861.2" r="1.5"/><circle cx="2007.4" cy="860.2" r="0.9"/><circle cx="2006" cy="861.9" r="1.9"/><circle cx="2004.4" cy="862.6" r="2.3"/><circle cx="2002.6" cy="863.2" r="2.1"/><circle cx="2002.9" cy="864.2" r="1"/><circle cx="2000.7" cy="863.9" r="2"/><circle cx="1998.8" cy="864.4" r="1.6"/><circle cx="1997" cy="865" r="1.6"/><circle cx="1996.5" cy="863.4" r="1.1"/><circle cx="1995.3" cy="865.5" r="1.9"/><circle cx="1993.9" cy="865.8" r="1.8"/><circle cx="1992.9" cy="866.2" r="1.5"/><circle cx="1993.3" cy="867.5" r="1"/></g>
<g fill="#2A2B22"><circle cx="2000.8" cy="863.3" r="1.5"/><circle cx="2000.5" cy="864.5" r="1.3"/><circle cx="2000" cy="866.3" r="1.1"/><circle cx="1999.5" cy="868.2" r="1.2"/><circle cx="2000.3" cy="868.4" r="0.6"/><circle cx="1999" cy="870" r="1.2"/><circle cx="1998.7" cy="871.2" r="1.3"/></g>
<g fill="#8A7F4A"><circle cx="2102.5" cy="826" r="2.6"/><circle cx="2102" cy="826.9" r="2.9"/><circle cx="2101.4" cy="827.9" r="2.5"/><circle cx="2100.6" cy="829.2" r="2.4"/><circle cx="2102.2" cy="830.2" r="1.4"/><circle cx="2099.7" cy="830.6" r="2.2"/><circle cx="2098.8" cy="832.1" r="2.1"/><circle cx="2097.8" cy="833.7" r="2.5"/><circle cx="2096.6" cy="833" r="1.4"/><circle cx="2096.8" cy="835.4" r="2.9"/><circle cx="2095.7" cy="837.1" r="2.8"/><circle cx="2094.7" cy="838.7" r="2.4"/><circle cx="2096.6" cy="839.9" r="1.2"/><circle cx="2093.7" cy="840.3" r="2.2"/><circle cx="2092.7" cy="841.8" r="2.1"/><circle cx="2091.8" cy="843.2" r="2.4"/><circle cx="2090" cy="842" r="1.3"/><circle cx="2090.8" cy="844.8" r="2.7"/><circle cx="2089.8" cy="846.3" r="2.9"/><circle cx="2088.8" cy="847.7" r="3.2"/><circle cx="2090.3" cy="848.7" r="1.3"/><circle cx="2087.9" cy="849.2" r="2.7"/><circle cx="2086.9" cy="850.6" r="2.3"/><circle cx="2085.9" cy="852" r="2.6"/><circle cx="2084.5" cy="851" r="1.8"/><circle cx="2085" cy="853.3" r="2.5"/><circle cx="2083.9" cy="854.7" r="3"/><circle cx="2082.9" cy="856.1" r="3.3"/><circle cx="2084.5" cy="857.4" r="1.8"/><circle cx="2081.8" cy="857.6" r="2.8"/><circle cx="2080.8" cy="858.8" r="2.7"/><circle cx="2079.7" cy="860" r="2"/><circle cx="2078.1" cy="858.6" r="1.4"/><circle cx="2078.7" cy="861.3" r="2.3"/><circle cx="2077.6" cy="862.5" r="3.1"/><circle cx="2076.4" cy="863.8" r="3.2"/><circle cx="2078.2" cy="865.4" r="1.4"/><circle cx="2075.3" cy="865.1" r="3.4"/><circle cx="2074.2" cy="866.3" r="3.1"/><circle cx="2073.1" cy="867.5" r="2.6"/><circle cx="2071.8" cy="866.4" r="1.7"/><circle cx="2072" cy="868.7" r="2.6"/><circle cx="2070.9" cy="869.8" r="2.7"/><circle cx="2069.9" cy="870.9" r="2.9"/><circle cx="2071.2" cy="872.2" r="1.3"/><circle cx="2068.9" cy="871.9" r="3.5"/><circle cx="2067.6" cy="873.2" r="3.1"/><circle cx="2066.5" cy="874.4" r="2.8"/><circle cx="2065.4" cy="873.4" r="1.4"/><circle cx="2065.5" cy="875.4" r="2.5"/><circle cx="2064.6" cy="876.4" r="2.4"/><circle cx="2063.5" cy="877.3" r="2.3"/><circle cx="2064.8" cy="878.8" r="1.9"/><circle cx="2062.3" cy="878.3" r="2.7"/><circle cx="2060.8" cy="879.3" r="3.1"/><circle cx="2058.8" cy="880.5" r="3.5"/><circle cx="2057.5" cy="878.2" r="2"/><circle cx="2057.7" cy="881.1" r="3.2"/><circle cx="2056.3" cy="881.9" r="2.5"/><circle cx="2054.8" cy="882.6" r="2.7"/><circle cx="2056.1" cy="885.1" r="2"/><circle cx="2053.2" cy="883.4" r="2.5"/><circle cx="2051.5" cy="884.2" r="2.8"/><circle cx="2049.7" cy="885.1" r="3.4"/><circle cx="2048.6" cy="882.7" r="2.1"/><circle cx="2047.9" cy="885.9" r="3.5"/><circle cx="2046" cy="886.8" r="3.4"/><circle cx="2044.2" cy="887.6" r="2.9"/><circle cx="2045.1" cy="889.6" r="1.8"/><circle cx="2042.5" cy="888.4" r="2.5"/><circle cx="2040.8" cy="889.1" r="2.5"/><circle cx="2039.2" cy="889.8" r="3"/><circle cx="2038.4" cy="888.1" r="1.6"/><circle cx="2037.7" cy="890.5" r="3.1"/><circle cx="2036.5" cy="891" r="3.8"/><circle cx="2035.4" cy="891.5" r="3.5"/><circle cx="2036.5" cy="894" r="2.1"/><circle cx="2034.5" cy="891.9" r="3.5"/></g>
<g fill="#B9B58A" opacity="0.7"><circle cx="2102.3" cy="826.6" r="1.3"/><circle cx="2098.7" cy="832.4" r="1.3"/><circle cx="2094.4" cy="838.8" r="1.3"/><circle cx="2091.1" cy="845.2" r="1.3"/><circle cx="2086.8" cy="850.2" r="1.3"/><circle cx="2082.4" cy="856" r="1.4"/><circle cx="2078.7" cy="861.1" r="1.4"/><circle cx="2074.5" cy="866.5" r="1.4"/><circle cx="2070" cy="871.2" r="1.4"/><circle cx="2065.4" cy="875.6" r="1.4"/><circle cx="2060.6" cy="879.1" r="1.5"/><circle cx="2054.4" cy="882.9" r="1.5"/><circle cx="2048.3" cy="885.4" r="1.5"/><circle cx="2041" cy="888.7" r="1.5"/><circle cx="2035.3" cy="891.4" r="1.5"/></g>
<g fill="#8A7F4A"><circle cx="2064.6" cy="877.6" r="2.1"/><circle cx="2063.9" cy="878.5" r="2.6"/><circle cx="2063.1" cy="879.8" r="2.9"/><circle cx="2062.1" cy="881.3" r="2.8"/><circle cx="2063.3" cy="882.2" r="1.2"/><circle cx="2061" cy="882.9" r="2.3"/><circle cx="2059.9" cy="884.6" r="2.3"/><circle cx="2058.8" cy="886.2" r="2.3"/><circle cx="2057.1" cy="885.1" r="1.3"/><circle cx="2058" cy="887.7" r="2.7"/><circle cx="2057" cy="889.3" r="2.7"/><circle cx="2056.1" cy="890.9" r="3.1"/><circle cx="2057.6" cy="891.8" r="1.3"/><circle cx="2055.2" cy="892.6" r="3.2"/><circle cx="2054.3" cy="894.1" r="2.7"/><circle cx="2053.6" cy="895.3" r="2"/><circle cx="2052.3" cy="894.6" r="1.8"/><circle cx="2053.1" cy="896.2" r="2.2"/></g>
<g fill="#B9B58A" opacity="0.7"><circle cx="2063.7" cy="878.3" r="1.3"/><circle cx="2059.7" cy="884.7" r="1.3"/><circle cx="2055.9" cy="891" r="1.3"/><circle cx="2052.7" cy="896.3" r="1.4"/></g>
<g fill="#8A7F4A"><circle cx="2083.2" cy="857.6" r="2.7"/><circle cx="2083.4" cy="858.6" r="2.7"/><circle cx="2083.8" cy="859.9" r="2.8"/><circle cx="2084.2" cy="861.5" r="3.1"/><circle cx="2086.2" cy="861" r="1.5"/><circle cx="2084.7" cy="863.3" r="3.5"/><circle cx="2085.2" cy="865.3" r="3.5"/><circle cx="2085.7" cy="867.3" r="3.1"/><circle cx="2083.5" cy="867.7" r="1.5"/><circle cx="2086.1" cy="869.3" r="3"/><circle cx="2086.3" cy="871.2" r="2.7"/><circle cx="2086.4" cy="873.1" r="2.3"/><circle cx="2088.9" cy="873.1" r="1.5"/><circle cx="2086.3" cy="874.7" r="3"/><circle cx="2086" cy="876.3" r="3.7"/><circle cx="2085.5" cy="877.8" r="4"/><circle cx="2083.6" cy="877.1" r="2"/><circle cx="2084.8" cy="879.3" r="3.4"/><circle cx="2084" cy="880.8" r="3.3"/><circle cx="2083.2" cy="882.3" r="2.4"/><circle cx="2085.3" cy="883.6" r="1.5"/><circle cx="2082.3" cy="883.7" r="2.7"/><circle cx="2081.3" cy="885.1" r="3.2"/><circle cx="2080.4" cy="886.4" r="3.8"/><circle cx="2078.2" cy="885" r="1.9"/><circle cx="2079.6" cy="887.8" r="3.7"/><circle cx="2078.9" cy="889.1" r="3.7"/><circle cx="2078.1" cy="890.6" r="3.3"/><circle cx="2080.4" cy="891.7" r="2"/><circle cx="2077.4" cy="892.1" r="2.9"/><circle cx="2076.8" cy="893.5" r="3"/><circle cx="2076.2" cy="894.9" r="3.1"/><circle cx="2073.5" cy="893.7" r="2.1"/><circle cx="2075.6" cy="896.3" r="3.4"/><circle cx="2074.9" cy="897.6" r="4.1"/><circle cx="2074.1" cy="899.1" r="3.7"/><circle cx="2076.6" cy="900.5" r="2.2"/><circle cx="2073.2" cy="900.5" r="3.8"/><circle cx="2072.3" cy="901.8" r="3.3"/><circle cx="2071.3" cy="903.1" r="2.9"/><circle cx="2069.4" cy="901.6" r="1.7"/><circle cx="2070.3" cy="904.4" r="3"/><circle cx="2069.2" cy="905.7" r="3.6"/><circle cx="2068.1" cy="907.1" r="3.7"/><circle cx="2069.6" cy="908.4" r="2.2"/><circle cx="2066.9" cy="908.4" r="4.3"/><circle cx="2065.9" cy="909.7" r="3.6"/><circle cx="2064.8" cy="911" r="3.1"/><circle cx="2063.4" cy="909.9" r="2"/><circle cx="2063.9" cy="912.3" r="3.2"/><circle cx="2063.1" cy="913.4" r="2.6"/><circle cx="2062" cy="915.4" r="3.3"/><circle cx="2063.6" cy="916.2" r="1.7"/><circle cx="2061.1" cy="917.4" r="3.6"/><circle cx="2060.4" cy="919.3" r="4.2"/><circle cx="2059.7" cy="921" r="4.1"/><circle cx="2057.1" cy="920" r="1.9"/><circle cx="2059.2" cy="922.4" r="3.7"/><circle cx="2058.8" cy="923.5" r="3.4"/></g>
<g fill="#B9B58A" opacity="0.7"><circle cx="2082.9" cy="858.3" r="1.5"/><circle cx="2085.1" cy="865.4" r="1.5"/><circle cx="2086.1" cy="872.8" r="1.6"/><circle cx="2085.3" cy="879.5" r="1.6"/><circle cx="2081.3" cy="885.4" r="1.6"/><circle cx="2078.3" cy="891" r="1.6"/><circle cx="2075.6" cy="896.4" r="1.6"/><circle cx="2071.9" cy="901.7" r="1.7"/><circle cx="2068" cy="906.8" r="1.7"/><circle cx="2063.8" cy="912.6" r="1.7"/><circle cx="2060.1" cy="918.9" r="1.7"/></g>
<g fill="#8A7F4A"><circle cx="2058.8" cy="920.6" r="2.4"/><circle cx="2057.4" cy="920.6" r="2.2"/><circle cx="2055.4" cy="920.6" r="2.2"/><circle cx="2053.4" cy="920.6" r="2"/><circle cx="2053.4" cy="921.7" r="1.3"/><circle cx="2052" cy="920.6" r="2.1"/></g>
<g fill="#8A7F4A"><circle cx="2060" cy="921.3" r="2.5"/><circle cx="2060.9" cy="922.1" r="2.2"/><circle cx="2062.4" cy="923.2" r="2"/><circle cx="2063.9" cy="924.4" r="2.2"/><circle cx="2064.9" cy="923.2" r="1.1"/><circle cx="2065.3" cy="925.6" r="2.4"/><circle cx="2066.3" cy="926.3" r="2.6"/></g>
<g fill="#8A7F4A"><circle cx="2058.8" cy="920.6" r="2"/><circle cx="2058.5" cy="922.4" r="2.2"/><circle cx="2058" cy="924.8" r="2.2"/><circle cx="2057.7" cy="926.6" r="2.4"/><circle cx="2059.5" cy="927" r="1.4"/></g>
<g fill="#77724B"><circle cx="2172" cy="856.1" r="2"/><circle cx="2172.5" cy="857" r="2.1"/><circle cx="2173.1" cy="858" r="2.4"/><circle cx="2173.8" cy="859.3" r="2.4"/><circle cx="2174.8" cy="858.7" r="1.1"/><circle cx="2174.6" cy="860.7" r="1.9"/><circle cx="2175.5" cy="862.2" r="1.5"/><circle cx="2176.4" cy="863.8" r="1.5"/><circle cx="2175.1" cy="864.5" r="1"/><circle cx="2177.3" cy="865.5" r="1.8"/><circle cx="2178.2" cy="867.1" r="2.2"/><circle cx="2179.1" cy="868.8" r="2"/><circle cx="2180" cy="868.3" r="1.1"/><circle cx="2179.9" cy="870.4" r="1.3"/><circle cx="2180.6" cy="871.9" r="1.3"/><circle cx="2181.4" cy="873.5" r="1.5"/><circle cx="2180.2" cy="874" r="0.9"/><circle cx="2182.1" cy="875.3" r="1.9"/><circle cx="2182.8" cy="877.2" r="1.6"/><circle cx="2183.5" cy="879.1" r="1.3"/><circle cx="2184.7" cy="878.6" r="0.8"/><circle cx="2184.2" cy="880.9" r="1.1"/><circle cx="2184.8" cy="882.7" r="1.3"/><circle cx="2185.4" cy="884.3" r="1.6"/><circle cx="2184.3" cy="884.6" r="0.8"/><circle cx="2185.9" cy="885.7" r="1.3"/><circle cx="2186.3" cy="887" r="1"/><circle cx="2186.6" cy="887.9" r="1.1"/><circle cx="2187.3" cy="887.7" r="0.6"/></g>
<g fill="#18181A"><circle cx="2119" cy="811.7" r="2.1"/><circle cx="2118.6" cy="810.9" r="2.1"/><circle cx="2118.1" cy="810" r="2.6"/><circle cx="2117.5" cy="808.9" r="2.8"/><circle cx="2115.5" cy="810" r="1.6"/><circle cx="2116.8" cy="807.7" r="2.7"/><circle cx="2116.1" cy="806.4" r="1.9"/><circle cx="2115.3" cy="805" r="1.9"/><circle cx="2117.2" cy="803.9" r="1.5"/><circle cx="2114.5" cy="803.6" r="2.4"/><circle cx="2113.6" cy="802" r="3.3"/><circle cx="2112.8" cy="800.4" r="3.1"/><circle cx="2111" cy="801.4" r="1.9"/><circle cx="2111.9" cy="798.8" r="3.5"/><circle cx="2111" cy="797.1" r="3.3"/><circle cx="2110.1" cy="795.5" r="2.4"/><circle cx="2112.1" cy="794.4" r="2.1"/><circle cx="2109.2" cy="793.8" r="2.1"/><circle cx="2108.4" cy="792.1" r="2.6"/><circle cx="2107.6" cy="790.5" r="3.6"/><circle cx="2105.9" cy="791.3" r="2.1"/><circle cx="2106.8" cy="788.9" r="3.9"/><circle cx="2106.1" cy="787.3" r="3.8"/><circle cx="2105.5" cy="785.9" r="4.3"/><circle cx="2108.1" cy="784.8" r="1.6"/><circle cx="2104.9" cy="784.4" r="3.9"/><circle cx="2104.3" cy="782.9" r="3.4"/><circle cx="2103.7" cy="781.3" r="2.8"/><circle cx="2102" cy="781.9" r="2.3"/><circle cx="2103.2" cy="779.7" r="3"/><circle cx="2102.6" cy="778.1" r="3.6"/><circle cx="2102.1" cy="776.5" r="3.5"/><circle cx="2104.6" cy="775.7" r="2.4"/><circle cx="2101.5" cy="774.9" r="4.6"/><circle cx="2101" cy="773.3" r="4.4"/><circle cx="2100.5" cy="771.7" r="4.5"/><circle cx="2097.9" cy="772.6" r="2.2"/><circle cx="2100" cy="770.1" r="4.8"/><circle cx="2099.4" cy="768.6" r="4.3"/><circle cx="2098.9" cy="767" r="3"/><circle cx="2101.9" cy="766" r="2"/><circle cx="2098.4" cy="765.6" r="3.7"/><circle cx="2097.8" cy="764.1" r="3.5"/><circle cx="2097.3" cy="762.7" r="4.3"/><circle cx="2093.6" cy="764.2" r="2.9"/><circle cx="2096.7" cy="761.4" r="4.1"/><circle cx="2096.1" cy="760.1" r="4.5"/><circle cx="2095.2" cy="758.3" r="5.7"/><circle cx="2098" cy="756.8" r="2.9"/><circle cx="2094.3" cy="756.6" r="5.4"/><circle cx="2093.3" cy="755" r="5.3"/><circle cx="2092.4" cy="753.4" r="5.3"/><circle cx="2089.7" cy="755.1" r="2.7"/><circle cx="2091.4" cy="751.9" r="4.4"/><circle cx="2090.4" cy="750.5" r="4.4"/><circle cx="2089.4" cy="749.1" r="3.4"/><circle cx="2092.2" cy="747.1" r="2.9"/><circle cx="2088.5" cy="747.8" r="4.1"/><circle cx="2087.5" cy="746.5" r="4.7"/><circle cx="2086.5" cy="745.3" r="4.5"/><circle cx="2082.8" cy="748.2" r="3.2"/><circle cx="2085.6" cy="744.1" r="5.1"/><circle cx="2084.6" cy="742.9" r="5.8"/><circle cx="2083.3" cy="741.4" r="6"/><circle cx="2086.5" cy="738.6" r="2.4"/><circle cx="2082" cy="739.9" r="6.9"/><circle cx="2080.6" cy="738.5" r="6.2"/><circle cx="2079.2" cy="737.1" r="5.6"/><circle cx="2077.2" cy="739.2" r="2.9"/><circle cx="2077.9" cy="735.9" r="5.5"/><circle cx="2076.6" cy="734.7" r="5.9"/><circle cx="2075.5" cy="733.7" r="4.8"/><circle cx="2079" cy="729.9" r="2.9"/><circle cx="2074.6" cy="732.9" r="4.5"/><circle cx="2073.9" cy="732.2" r="5.2"/></g>
<g fill="#18181A"><circle cx="2099" cy="777.3" r="3.7"/><circle cx="2098.2" cy="776.6" r="3.5"/><circle cx="2097.2" cy="775.6" r="4.2"/><circle cx="2095.9" cy="774.5" r="5.5"/><circle cx="2094" cy="776.6" r="2.1"/><circle cx="2094.6" cy="773.2" r="5.1"/><circle cx="2093.1" cy="771.9" r="5.1"/><circle cx="2091.6" cy="770.6" r="4.6"/><circle cx="2094.2" cy="767.6" r="3.4"/><circle cx="2090.2" cy="769.3" r="4"/><circle cx="2088.8" cy="768.2" r="4.5"/><circle cx="2087.5" cy="767.3" r="4.4"/><circle cx="2084.9" cy="771.3" r="3.7"/><circle cx="2085.6" cy="766.2" r="5.3"/><circle cx="2083.7" cy="765.3" r="5"/><circle cx="2081.8" cy="764.5" r="6.6"/><circle cx="2083.5" cy="759.9" r="3.2"/><circle cx="2080" cy="763.9" r="6.3"/><circle cx="2078.5" cy="763.4" r="7.8"/><circle cx="2077.5" cy="763" r="7.7"/><circle cx="2075.6" cy="767.9" r="4"/></g>
<g fill="#18181A"><circle cx="2107.6" cy="794.5" r="1.7"/><circle cx="2106.8" cy="793.8" r="2.5"/><circle cx="2105.7" cy="792.8" r="3.1"/><circle cx="2104.4" cy="791.6" r="3.3"/><circle cx="2102.7" cy="793.5" r="2"/><circle cx="2102.9" cy="790.3" r="3.6"/><circle cx="2101.4" cy="789" r="3.4"/><circle cx="2099.9" cy="787.7" r="3.2"/><circle cx="2101.8" cy="785.5" r="1.8"/><circle cx="2098.5" cy="786.4" r="3"/><circle cx="2097.2" cy="785.3" r="3.2"/><circle cx="2096.1" cy="784.5" r="3.1"/><circle cx="2094.2" cy="787.2" r="1.8"/><circle cx="2094.1" cy="783.2" r="3.9"/><circle cx="2092.5" cy="782.4" r="4.8"/><circle cx="2091.3" cy="782" r="4.9"/><circle cx="2092.2" cy="779.5" r="2.1"/><circle cx="2090.4" cy="781.6" r="4.9"/></g>
<g fill="#18181A"><circle cx="2119" cy="811.7" r="2"/><circle cx="2118.9" cy="810.8" r="1.6"/><circle cx="2118.8" cy="809.7" r="1.6"/><circle cx="2118.7" cy="808.5" r="1.6"/><circle cx="2117.5" cy="808.6" r="1.1"/><circle cx="2118.5" cy="807.1" r="2.4"/><circle cx="2118.4" cy="805.6" r="2.4"/><circle cx="2118.2" cy="804" r="2.4"/><circle cx="2120.1" cy="803.8" r="1.3"/><circle cx="2118.1" cy="802.3" r="2"/><circle cx="2117.9" cy="800.5" r="2.2"/><circle cx="2117.7" cy="798.6" r="1.8"/><circle cx="2115.8" cy="798.8" r="1.2"/><circle cx="2117.5" cy="796.7" r="2.5"/><circle cx="2117.3" cy="794.8" r="2.7"/><circle cx="2117.1" cy="792.9" r="3.3"/><circle cx="2119.4" cy="792.6" r="1.7"/><circle cx="2116.9" cy="790.9" r="3.1"/><circle cx="2116.7" cy="789" r="2.8"/><circle cx="2116.5" cy="787.1" r="2.6"/><circle cx="2114.4" cy="787.3" r="1.8"/><circle cx="2116.3" cy="785.3" r="2"/><circle cx="2116.1" cy="783.5" r="2.2"/><circle cx="2115.9" cy="781.8" r="2.5"/><circle cx="2118.6" cy="781.5" r="1.5"/><circle cx="2115.8" cy="780.2" r="3.7"/><circle cx="2115.6" cy="778.7" r="3.8"/><circle cx="2115.4" cy="777.3" r="4.4"/><circle cx="2112.8" cy="777.6" r="2.2"/><circle cx="2115.2" cy="775.1" r="3.5"/><circle cx="2114.9" cy="772.9" r="3.8"/><circle cx="2114.6" cy="770.8" r="3"/><circle cx="2116.4" cy="770.6" r="2.4"/><circle cx="2114.3" cy="768.8" r="2.7"/><circle cx="2114" cy="766.9" r="3.1"/><circle cx="2113.8" cy="765.1" r="2.9"/><circle cx="2111.2" cy="765.5" r="2.1"/><circle cx="2113.5" cy="763.5" r="3.8"/><circle cx="2113.3" cy="761.9" r="4.7"/><circle cx="2113.1" cy="760.5" r="4.6"/><circle cx="2116.7" cy="760" r="2"/><circle cx="2112.9" cy="759.3" r="5.4"/><circle cx="2112.7" cy="758.2" r="4.6"/><circle cx="2112.6" cy="757.3" r="4.7"/><circle cx="2108.7" cy="757.8" r="2.6"/></g>
<g fill="#18181A"><circle cx="2112.1" cy="750.8" r="6.6"/><circle cx="2112" cy="749.4" r="7.8"/><circle cx="2111.9" cy="747.2" r="7.7"/><circle cx="2111.7" cy="745.1" r="8.9"/><circle cx="2104.4" cy="745.7" r="5.4"/><circle cx="2111.6" cy="743.6" r="9.5"/></g>
<g fill="#18181A"><circle cx="2119" cy="811.7" r="1.8"/><circle cx="2119.1" cy="810.8" r="1.3"/><circle cx="2119.2" cy="809.7" r="1.9"/><circle cx="2119.3" cy="808.5" r="2.3"/><circle cx="2118.2" cy="808.4" r="1.1"/><circle cx="2119.5" cy="807.1" r="2.4"/><circle cx="2119.6" cy="805.6" r="2.1"/><circle cx="2119.7" cy="803.9" r="2.1"/><circle cx="2121.6" cy="804.1" r="1.4"/><circle cx="2119.9" cy="802.2" r="1.5"/><circle cx="2120.1" cy="800.4" r="2.1"/><circle cx="2120.2" cy="798.5" r="2.7"/><circle cx="2118.3" cy="798.4" r="1.6"/><circle cx="2120.4" cy="796.6" r="3.1"/><circle cx="2120.6" cy="794.7" r="3.1"/><circle cx="2120.8" cy="792.8" r="2.8"/><circle cx="2122.4" cy="792.9" r="1.6"/><circle cx="2121" cy="790.8" r="2.2"/><circle cx="2121.2" cy="788.9" r="1.9"/><circle cx="2121.4" cy="787" r="2.1"/><circle cx="2119.6" cy="786.8" r="1.2"/><circle cx="2121.6" cy="785.2" r="2.5"/><circle cx="2121.8" cy="783.4" r="3.1"/><circle cx="2122" cy="781.7" r="3.3"/><circle cx="2123.4" cy="781.9" r="1.8"/><circle cx="2122.2" cy="780.1" r="3.7"/><circle cx="2122.4" cy="778.6" r="3"/><circle cx="2122.6" cy="777.3" r="2.9"/><circle cx="2119.9" cy="776.9" r="1.4"/><circle cx="2123" cy="775.2" r="2.6"/><circle cx="2123.4" cy="773.2" r="2.7"/><circle cx="2123.8" cy="771.3" r="2.7"/><circle cx="2126.7" cy="772" r="2.1"/><circle cx="2124.2" cy="769.6" r="3.6"/><circle cx="2124.6" cy="768" r="4"/><circle cx="2125.1" cy="766.5" r="4.5"/><circle cx="2123.3" cy="766" r="2.3"/><circle cx="2125.5" cy="765" r="4.1"/><circle cx="2125.9" cy="763.7" r="3.6"/><circle cx="2126.4" cy="762.4" r="3.2"/><circle cx="2129" cy="763.2" r="1.7"/><circle cx="2126.8" cy="761.1" r="3.4"/><circle cx="2127.2" cy="759.9" r="2.9"/><circle cx="2127.6" cy="758.7" r="3.6"/><circle cx="2124.2" cy="757.5" r="2.5"/><circle cx="2128.4" cy="756.4" r="3.3"/><circle cx="2129.3" cy="754.3" r="3.9"/><circle cx="2130.1" cy="752.5" r="4.8"/><circle cx="2133.5" cy="754.1" r="2.5"/><circle cx="2130.8" cy="750.9" r="4.8"/><circle cx="2131.5" cy="749.6" r="5.3"/><circle cx="2131.9" cy="748.7" r="4.8"/><circle cx="2129" cy="747.3" r="2.4"/></g>
<g fill="#18181A"><circle cx="2133.1" cy="745.8" r="6"/><circle cx="2133.7" cy="744.4" r="6.3"/><circle cx="2134.5" cy="742.6" r="7.4"/><circle cx="2135.1" cy="741.2" r="7.8"/><circle cx="2131.2" cy="739.5" r="4.2"/></g>
<g fill="#18181A"><circle cx="2119" cy="811.7" r="3"/><circle cx="2119.5" cy="811" r="2.4"/><circle cx="2120.1" cy="810.1" r="2.2"/><circle cx="2120.8" cy="809.2" r="1.6"/><circle cx="2119.5" cy="808.3" r="1.5"/><circle cx="2121.5" cy="808.2" r="2.2"/><circle cx="2122.3" cy="807" r="2.8"/><circle cx="2123.2" cy="805.8" r="3.2"/><circle cx="2124.8" cy="807" r="1.4"/><circle cx="2124.1" cy="804.5" r="3.5"/><circle cx="2125" cy="803.2" r="3.1"/><circle cx="2126" cy="801.8" r="2.2"/><circle cx="2123.9" cy="800.3" r="1.4"/><circle cx="2127" cy="800.3" r="2.3"/><circle cx="2128.1" cy="798.9" r="2.6"/><circle cx="2129.1" cy="797.3" r="3.3"/><circle cx="2130.6" cy="798.4" r="1.6"/><circle cx="2130.2" cy="795.8" r="3.6"/><circle cx="2131.3" cy="794.2" r="4"/><circle cx="2132.4" cy="792.7" r="3.8"/><circle cx="2130.2" cy="791.1" r="2.3"/><circle cx="2133.5" cy="791.1" r="3.1"/><circle cx="2134.6" cy="789.6" r="3"/><circle cx="2135.6" cy="788.1" r="3"/><circle cx="2138.1" cy="789.8" r="2.4"/><circle cx="2136.6" cy="786.6" r="2.7"/><circle cx="2137.6" cy="785.1" r="3.1"/><circle cx="2138.6" cy="783.7" r="4"/><circle cx="2135.9" cy="781.9" r="2.4"/><circle cx="2139.5" cy="782.4" r="4.4"/><circle cx="2140.4" cy="781.1" r="4.3"/><circle cx="2141.2" cy="779.9" r="4.8"/><circle cx="2143.2" cy="781.2" r="1.8"/><circle cx="2141.9" cy="778.7" r="3.7"/><circle cx="2143.1" cy="777" r="3.6"/><circle cx="2144.2" cy="775.3" r="3.3"/><circle cx="2141.6" cy="773.6" r="2.3"/><circle cx="2145.2" cy="773.6" r="3.3"/><circle cx="2146.2" cy="772" r="3.6"/><circle cx="2147.1" cy="770.5" r="3.6"/><circle cx="2150.3" cy="772.4" r="2.7"/><circle cx="2148" cy="769.1" r="4.8"/><circle cx="2148.9" cy="767.6" r="5.1"/><circle cx="2149.7" cy="766.2" r="5.5"/><circle cx="2146.3" cy="764.2" r="2.8"/><circle cx="2150.5" cy="764.9" r="5.3"/><circle cx="2151.2" cy="763.6" r="5.8"/><circle cx="2152" cy="762.3" r="4.6"/><circle cx="2154.5" cy="763.7" r="3.1"/><circle cx="2152.7" cy="761" r="4.5"/><circle cx="2153.4" cy="759.7" r="3.7"/><circle cx="2154.1" cy="758.5" r="4.4"/><circle cx="2150.8" cy="756.6" r="2.2"/><circle cx="2154.8" cy="757.3" r="3.8"/><circle cx="2155.8" cy="755.5" r="4.1"/><circle cx="2156.8" cy="753.8" r="4.4"/><circle cx="2160.5" cy="755.9" r="2.6"/><circle cx="2157.7" cy="752.1" r="4.8"/><circle cx="2158.6" cy="750.4" r="6.3"/><circle cx="2159.5" cy="748.8" r="6.4"/><circle cx="2156.2" cy="747" r="3.6"/><circle cx="2160.4" cy="747.3" r="6.8"/><circle cx="2161.1" cy="745.8" r="7"/><circle cx="2161.8" cy="744.5" r="6.1"/><circle cx="2164.9" cy="746.2" r="3"/><circle cx="2162.5" cy="743.3" r="6"/><circle cx="2163" cy="742.3" r="5.7"/><circle cx="2163.4" cy="741.5" r="4.7"/><circle cx="2159.6" cy="739.4" r="3.9"/></g>
<g fill="#18181A"><circle cx="2119" cy="811.7" r="1.3"/><circle cx="2119.6" cy="811.1" r="1.8"/><circle cx="2120.3" cy="810.3" r="2.3"/><circle cx="2121.1" cy="809.5" r="2.4"/><circle cx="2119.6" cy="808" r="1.4"/><circle cx="2122" cy="808.6" r="2.7"/><circle cx="2122.9" cy="807.6" r="2.3"/><circle cx="2124" cy="806.5" r="2.1"/><circle cx="2125.2" cy="807.6" r="1.4"/><circle cx="2125" cy="805.3" r="2"/><circle cx="2126.2" cy="804.1" r="2.3"/><circle cx="2127.4" cy="802.9" r="2.9"/><circle cx="2126.3" cy="801.9" r="1.6"/><circle cx="2128.6" cy="801.6" r="3.1"/><circle cx="2129.8" cy="800.3" r="3.1"/><circle cx="2131.1" cy="798.9" r="2.7"/><circle cx="2132.9" cy="800.6" r="1.6"/><circle cx="2132.4" cy="797.5" r="2.6"/><circle cx="2133.7" cy="796.1" r="2.4"/><circle cx="2135.1" cy="794.7" r="2.7"/><circle cx="2133.6" cy="793.3" r="1.6"/><circle cx="2136.4" cy="793.3" r="3.3"/><circle cx="2137.7" cy="792" r="3.8"/><circle cx="2139" cy="790.6" r="3.7"/><circle cx="2140.4" cy="791.9" r="1.8"/><circle cx="2140.3" cy="789.2" r="4.2"/><circle cx="2141.6" cy="787.9" r="3.5"/><circle cx="2142.8" cy="786.6" r="3"/><circle cx="2141" cy="784.9" r="2"/><circle cx="2144" cy="785.4" r="3.1"/><circle cx="2145.1" cy="784.2" r="2.7"/><circle cx="2146.2" cy="783.1" r="3.1"/><circle cx="2148.8" cy="785.6" r="2.4"/><circle cx="2147.3" cy="782" r="3.4"/><circle cx="2148.2" cy="781.1" r="4.2"/><circle cx="2149.1" cy="780.2" r="4.4"/><circle cx="2146.5" cy="777.5" r="2"/><circle cx="2150.8" cy="778.5" r="5.3"/><circle cx="2152.4" cy="777" r="4.5"/><circle cx="2153.8" cy="775.5" r="4.2"/><circle cx="2155.7" cy="777.5" r="2.2"/><circle cx="2155.2" cy="774.2" r="3.9"/><circle cx="2156.4" cy="773.1" r="3.6"/><circle cx="2157.6" cy="772" r="3.4"/><circle cx="2155.9" cy="770.2" r="2.7"/><circle cx="2158.7" cy="771" r="3.8"/><circle cx="2159.8" cy="770" r="3.6"/><circle cx="2160.8" cy="769.1" r="4"/><circle cx="2162.4" cy="770.9" r="2.3"/><circle cx="2161.8" cy="768.3" r="5"/><circle cx="2162.8" cy="767.5" r="5.6"/><circle cx="2163.8" cy="766.6" r="6.3"/><circle cx="2161.2" cy="763.3" r="2.4"/><circle cx="2164.9" cy="765.9" r="5.6"/><circle cx="2166.6" cy="764.6" r="5.4"/><circle cx="2168.3" cy="763.5" r="4.9"/><circle cx="2169.6" cy="765.8" r="3"/><circle cx="2170" cy="762.6" r="5.6"/><circle cx="2171.6" cy="761.7" r="5.3"/><circle cx="2173.1" cy="761" r="3.8"/><circle cx="2171.7" cy="758.1" r="2.8"/><circle cx="2174.4" cy="760.4" r="4.7"/><circle cx="2175.5" cy="759.8" r="3.8"/><circle cx="2176.3" cy="759.4" r="4.5"/><circle cx="2178.6" cy="763.8" r="3.6"/></g>
<g fill="#18181A"><circle cx="2119" cy="811.7" r="2.4"/><circle cx="2119.7" cy="811.1" r="2.6"/><circle cx="2120.5" cy="810.4" r="2"/><circle cx="2121.4" cy="809.6" r="2.1"/><circle cx="2120.2" cy="808.2" r="1.2"/><circle cx="2122.4" cy="808.7" r="1.8"/><circle cx="2123.6" cy="807.7" r="2.1"/><circle cx="2124.8" cy="806.6" r="3.1"/><circle cx="2125.8" cy="807.7" r="1.5"/><circle cx="2126" cy="805.5" r="3.3"/><circle cx="2127.3" cy="804.3" r="3.2"/><circle cx="2128.7" cy="803.1" r="3"/><circle cx="2127.5" cy="801.8" r="1.8"/><circle cx="2130.1" cy="801.9" r="2.3"/><circle cx="2131.5" cy="800.6" r="2.6"/><circle cx="2132.9" cy="799.4" r="2.9"/><circle cx="2134.4" cy="801" r="2"/><circle cx="2134.3" cy="798.1" r="3.4"/><circle cx="2135.7" cy="796.9" r="3.4"/><circle cx="2137.1" cy="795.7" r="3.9"/><circle cx="2135.8" cy="794.2" r="2.1"/><circle cx="2138.4" cy="794.6" r="4.4"/><circle cx="2139.7" cy="793.6" r="3.6"/><circle cx="2140.8" cy="792.6" r="3.8"/><circle cx="2142.2" cy="794.2" r="2.1"/><circle cx="2141.9" cy="791.6" r="3.4"/><circle cx="2143.5" cy="790.4" r="2.9"/><circle cx="2145.1" cy="789.1" r="3.7"/><circle cx="2143.8" cy="787.5" r="2.1"/><circle cx="2146.7" cy="787.9" r="4.1"/><circle cx="2148.2" cy="786.7" r="4.6"/><circle cx="2149.8" cy="785.6" r="4.5"/><circle cx="2151.6" cy="788" r="2.5"/><circle cx="2151.2" cy="784.5" r="4.7"/><circle cx="2152.7" cy="783.4" r="5.8"/><circle cx="2154" cy="782.4" r="4.6"/><circle cx="2151.6" cy="779.1" r="2.8"/><circle cx="2155.3" cy="781.5" r="4.9"/><circle cx="2156.5" cy="780.7" r="4.2"/><circle cx="2157.5" cy="779.9" r="3.7"/><circle cx="2159.5" cy="782.8" r="3.3"/><circle cx="2158.4" cy="779.3" r="3.4"/><circle cx="2159.1" cy="778.7" r="4"/></g>
<g fill="#18181A"><circle cx="2119" cy="811.7" r="2.5"/><circle cx="2120" cy="811.6" r="2.3"/><circle cx="2121.1" cy="811.4" r="2.8"/><circle cx="2122.5" cy="811.3" r="3.2"/><circle cx="2122.2" cy="809.2" r="2.1"/><circle cx="2124" cy="811.1" r="3.4"/><circle cx="2125.6" cy="810.9" r="4.4"/><circle cx="2127.4" cy="810.7" r="3.7"/><circle cx="2127.6" cy="812.6" r="1.7"/><circle cx="2129.2" cy="810.4" r="3.8"/><circle cx="2131.1" cy="810.2" r="3.8"/><circle cx="2133" cy="810" r="3.6"/><circle cx="2132.6" cy="806.8" r="2.3"/><circle cx="2134.9" cy="809.7" r="3.3"/><circle cx="2136.8" cy="809.5" r="3.9"/><circle cx="2138.6" cy="809.3" r="4.4"/><circle cx="2139" cy="812.7" r="2.9"/><circle cx="2140.3" cy="809" r="4.8"/><circle cx="2141.9" cy="808.8" r="6.5"/><circle cx="2143.7" cy="808.6" r="5.9"/><circle cx="2143" cy="803.9" r="2.4"/><circle cx="2145.5" cy="808.4" r="5.9"/><circle cx="2147.3" cy="808.1" r="7.1"/><circle cx="2149.2" cy="807.9" r="6"/><circle cx="2149.7" cy="811.8" r="3.7"/><circle cx="2151" cy="807.6" r="5.3"/><circle cx="2152.9" cy="807.4" r="5.8"/><circle cx="2154.6" cy="807.1" r="5.9"/><circle cx="2154" cy="802.6" r="2.9"/><circle cx="2156.3" cy="806.9" r="4.7"/><circle cx="2157.9" cy="806.6" r="6"/><circle cx="2159.4" cy="806.4" r="5.1"/><circle cx="2160.2" cy="812.1" r="4.2"/><circle cx="2160.7" cy="806.3" r="6.5"/><circle cx="2161.8" cy="806.1" r="6.8"/><circle cx="2162.7" cy="806" r="7.3"/><circle cx="2161.8" cy="799.6" r="4.7"/></g>
<g fill="#18181A"><circle cx="2119" cy="811.7" r="2.5"/><circle cx="2119.9" cy="812" r="2.7"/><circle cx="2121" cy="812.4" r="2.3"/><circle cx="2122.2" cy="812.8" r="2.1"/><circle cx="2122.7" cy="811.3" r="1.7"/><circle cx="2123.6" cy="813.2" r="2.2"/><circle cx="2125.1" cy="813.8" r="2.5"/><circle cx="2126.7" cy="814.3" r="2.9"/><circle cx="2126.2" cy="815.8" r="1.4"/><circle cx="2128.4" cy="814.9" r="3.5"/><circle cx="2130.2" cy="815.5" r="3.2"/><circle cx="2132" cy="816.1" r="3.1"/><circle cx="2132.6" cy="814.3" r="2"/><circle cx="2133.8" cy="816.7" r="2.9"/><circle cx="2135.7" cy="817.3" r="2.6"/><circle cx="2137.6" cy="818" r="3.1"/><circle cx="2136.9" cy="819.9" r="1.8"/><circle cx="2139.4" cy="818.6" r="3.3"/><circle cx="2141.2" cy="819.2" r="3.9"/><circle cx="2143" cy="819.8" r="4.6"/><circle cx="2143.7" cy="817.6" r="2.4"/><circle cx="2144.7" cy="820.3" r="4.3"/><circle cx="2146.3" cy="820.8" r="3.5"/><circle cx="2147.8" cy="821.3" r="3.2"/><circle cx="2147" cy="823.8" r="2.1"/><circle cx="2149.1" cy="821.7" r="3.4"/><circle cx="2151.1" cy="822.3" r="3.2"/><circle cx="2153" cy="822.9" r="3.5"/><circle cx="2153.8" cy="820" r="2.1"/><circle cx="2154.8" cy="823.4" r="3.7"/><circle cx="2156.5" cy="823.9" r="4.5"/><circle cx="2158.1" cy="824.4" r="5.4"/><circle cx="2157.2" cy="827.9" r="1.9"/><circle cx="2159.7" cy="824.8" r="5.3"/><circle cx="2161.2" cy="825.2" r="5.2"/><circle cx="2162.6" cy="825.6" r="4.7"/><circle cx="2163.6" cy="821.6" r="2.3"/><circle cx="2164" cy="825.9" r="3.8"/><circle cx="2165.3" cy="826.2" r="3.7"/><circle cx="2166.5" cy="826.5" r="3.2"/><circle cx="2165.7" cy="830.6" r="2.6"/><circle cx="2167.7" cy="826.7" r="4.1"/><circle cx="2170" cy="827.1" r="4.3"/><circle cx="2172.1" cy="827.3" r="4.9"/><circle cx="2172.3" cy="824" r="3.2"/><circle cx="2173.9" cy="827.4" r="5.9"/><circle cx="2175.5" cy="827.4" r="6.5"/><circle cx="2176.8" cy="827.4" r="6.3"/><circle cx="2176.7" cy="831.1" r="3.1"/><circle cx="2177.8" cy="827.5" r="6.9"/></g>
<g fill="#18181A"><circle cx="2119" cy="811.7" r="3"/><circle cx="2119.8" cy="812.2" r="2.9"/><circle cx="2120.7" cy="812.8" r="2.6"/><circle cx="2121.7" cy="813.5" r="2"/><circle cx="2122.7" cy="811.9" r="1.7"/><circle cx="2122.8" cy="814.2" r="2.6"/><circle cx="2124.1" cy="815.1" r="3"/><circle cx="2125.4" cy="815.9" r="3.6"/><circle cx="2124" cy="818" r="1.8"/><circle cx="2126.8" cy="816.8" r="3.7"/><circle cx="2128.3" cy="817.8" r="2.7"/><circle cx="2129.8" cy="818.8" r="2.4"/><circle cx="2130.9" cy="817.1" r="1.5"/><circle cx="2131.4" cy="819.9" r="2.3"/><circle cx="2133" cy="820.9" r="3"/><circle cx="2134.6" cy="822" r="3.4"/><circle cx="2133.6" cy="823.5" r="1.9"/><circle cx="2136.2" cy="823.1" r="3.8"/><circle cx="2137.9" cy="824.2" r="3.4"/><circle cx="2139.5" cy="825.3" r="3.1"/><circle cx="2140.5" cy="823.9" r="1.7"/><circle cx="2141.1" cy="826.4" r="2.9"/><circle cx="2142.6" cy="827.5" r="2.4"/><circle cx="2144.2" cy="828.5" r="2.6"/><circle cx="2143.1" cy="830.1" r="2.2"/><circle cx="2145.6" cy="829.5" r="3"/><circle cx="2147" cy="830.5" r="3.7"/><circle cx="2148.3" cy="831.5" r="3.7"/><circle cx="2149.6" cy="829.6" r="2.1"/><circle cx="2149.5" cy="832.4" r="3.9"/><circle cx="2150.5" cy="833.2" r="3.1"/><circle cx="2152.3" cy="834.6" r="3"/><circle cx="2151" cy="836.2" r="2"/><circle cx="2153.9" cy="836" r="2.5"/><circle cx="2155.4" cy="837.3" r="2.8"/><circle cx="2156.8" cy="838.6" r="3.5"/><circle cx="2158.2" cy="837.1" r="2"/><circle cx="2158.1" cy="839.8" r="3.7"/><circle cx="2159.3" cy="841" r="4.2"/><circle cx="2160.4" cy="842.2" r="3.9"/><circle cx="2159.1" cy="843.4" r="1.9"/><circle cx="2161.5" cy="843.4" r="3.3"/><circle cx="2162.5" cy="844.5" r="2.9"/><circle cx="2163.5" cy="845.6" r="2.9"/><circle cx="2164.8" cy="844.5" r="2.2"/><circle cx="2164.4" cy="846.7" r="2.9"/><circle cx="2165.4" cy="847.9" r="3.4"/><circle cx="2166.3" cy="849" r="4.4"/><circle cx="2164.4" cy="850.5" r="1.8"/><circle cx="2167.6" cy="850.6" r="4"/><circle cx="2168.9" cy="852.3" r="3.9"/><circle cx="2170" cy="853.9" r="3.6"/><circle cx="2171.6" cy="852.9" r="2.1"/><circle cx="2171.1" cy="855.6" r="3"/><circle cx="2172.1" cy="857.2" r="3.2"/><circle cx="2172.9" cy="858.6" r="3.1"/><circle cx="2171.1" cy="859.7" r="2.2"/><circle cx="2173.7" cy="859.9" r="3.3"/><circle cx="2174.4" cy="861" r="3.9"/><circle cx="2174.9" cy="861.9" r="4.9"/><circle cx="2177.3" cy="860.3" r="2"/></g>
<g fill="#18181A"><circle cx="2119" cy="811.7" r="3.2"/><circle cx="2119" cy="812.7" r="3.8"/><circle cx="2119.1" cy="813.9" r="4"/><circle cx="2119.1" cy="815.3" r="4.4"/><circle cx="2122.2" cy="815.2" r="2.4"/><circle cx="2119.2" cy="816.9" r="4.2"/><circle cx="2119.2" cy="818.7" r="4.3"/><circle cx="2119.3" cy="820.5" r="5"/><circle cx="2115.4" cy="820.6" r="2.9"/><circle cx="2119.3" cy="822.5" r="5.5"/><circle cx="2119.4" cy="824.4" r="6.8"/><circle cx="2119.4" cy="826.3" r="6.8"/><circle cx="2124.9" cy="826.2" r="4.8"/><circle cx="2119.5" cy="828.2" r="8.2"/><circle cx="2119.6" cy="830.1" r="8.8"/><circle cx="2119.6" cy="831.8" r="10.1"/><circle cx="2112.7" cy="832" r="4.5"/><circle cx="2119.7" cy="833.3" r="9.4"/><circle cx="2119.7" cy="834.6" r="11.4"/><circle cx="2119.8" cy="837" r="11.1"/><circle cx="2126.1" cy="836.6" r="4.4"/><circle cx="2120" cy="839.1" r="11"/><circle cx="2120.1" cy="840.9" r="12.2"/><circle cx="2120.2" cy="842.6" r="12.2"/><circle cx="2113.9" cy="843" r="7.1"/><circle cx="2120.3" cy="844" r="12.8"/><circle cx="2120.4" cy="845.2" r="11.5"/><circle cx="2120.5" cy="846.1" r="12.8"/><circle cx="2128.6" cy="845.5" r="6.8"/></g>
<g fill="#18181A"><circle cx="2119" cy="811.7" r="3"/><circle cx="2118.1" cy="811.4" r="2.5"/><circle cx="2117.1" cy="811" r="2.7"/><circle cx="2115.9" cy="810.6" r="1.9"/><circle cx="2115" cy="813" r="1.2"/><circle cx="2114.5" cy="810.1" r="2.3"/><circle cx="2113" cy="809.6" r="2.7"/><circle cx="2111.5" cy="809" r="3.8"/><circle cx="2112.1" cy="807.2" r="2"/><circle cx="2109.8" cy="808.4" r="3.5"/><circle cx="2108.1" cy="807.8" r="3"/><circle cx="2106.3" cy="807.2" r="2.7"/><circle cx="2105.8" cy="808.7" r="1.8"/><circle cx="2104.5" cy="806.5" r="2.3"/><circle cx="2102.6" cy="805.9" r="2.4"/><circle cx="2100.7" cy="805.3" r="2.8"/><circle cx="2101.4" cy="803.2" r="2.3"/><circle cx="2098.9" cy="804.6" r="3.7"/><circle cx="2097" cy="804" r="4.2"/><circle cx="2095.2" cy="803.4" r="4.5"/><circle cx="2094.5" cy="805.8" r="2.1"/><circle cx="2093.5" cy="802.9" r="3.5"/><circle cx="2091.8" cy="802.4" r="3.4"/><circle cx="2090.2" cy="801.9" r="3.3"/><circle cx="2090.9" cy="799.6" r="1.8"/><circle cx="2088.6" cy="801.5" r="3.4"/><circle cx="2087" cy="801.1" r="3.5"/><circle cx="2085.4" cy="800.7" r="3.6"/><circle cx="2084.9" cy="802.8" r="2.1"/><circle cx="2083.7" cy="800.3" r="4.4"/><circle cx="2082.1" cy="799.9" r="4.6"/><circle cx="2080.4" cy="799.5" r="5.3"/><circle cx="2081.1" cy="796.5" r="2.7"/><circle cx="2078.8" cy="799.1" r="4.7"/><circle cx="2077.1" cy="798.7" r="4.7"/><circle cx="2075.5" cy="798.3" r="3.9"/><circle cx="2074.8" cy="801.4" r="2.5"/><circle cx="2073.8" cy="798" r="3.9"/><circle cx="2072.2" cy="797.6" r="3.6"/><circle cx="2070.6" cy="797.2" r="3.9"/><circle cx="2071.2" cy="794.7" r="3"/><circle cx="2069.1" cy="796.8" r="4.5"/><circle cx="2067.5" cy="796.4" r="5.5"/><circle cx="2066" cy="796" r="5.4"/><circle cx="2065.3" cy="798.7" r="2.2"/><circle cx="2064.6" cy="795.6" r="5.6"/><circle cx="2063.1" cy="795.2" r="5.7"/><circle cx="2061.3" cy="794.7" r="5.2"/><circle cx="2062.6" cy="790.8" r="2.4"/><circle cx="2059.5" cy="794.1" r="5.6"/><circle cx="2057.7" cy="793.4" r="4.2"/><circle cx="2055.8" cy="792.8" r="3.8"/><circle cx="2054.9" cy="795.4" r="3.3"/><circle cx="2054.1" cy="792.1" r="4.6"/><circle cx="2052.3" cy="791.5" r="4.4"/><circle cx="2050.6" cy="790.8" r="4.2"/><circle cx="2052.3" cy="786.5" r="3.3"/><circle cx="2049" cy="790.2" r="4.7"/><circle cx="2047.4" cy="789.6" r="6.2"/><circle cx="2046" cy="789" r="6.6"/><circle cx="2044.8" cy="792.2" r="3.2"/><circle cx="2044.7" cy="788.5" r="5.9"/><circle cx="2043.5" cy="788.1" r="6.3"/><circle cx="2042.5" cy="787.7" r="6.2"/><circle cx="2044.3" cy="783.1" r="3.2"/><circle cx="2041.6" cy="787.3" r="6.6"/></g>
<g fill="#18181A"><circle cx="2078.9" cy="797.4" r="2.8"/><circle cx="2078.2" cy="796.6" r="3.3"/><circle cx="2077.2" cy="795.5" r="4.1"/><circle cx="2076.1" cy="794.1" r="5.1"/><circle cx="2074.2" cy="795.8" r="1.8"/><circle cx="2074.8" cy="792.7" r="4.1"/><circle cx="2073.5" cy="791.1" r="4"/><circle cx="2072.2" cy="789.6" r="4.1"/><circle cx="2074.1" cy="787.9" r="2.7"/><circle cx="2070.9" cy="788.2" r="3.3"/><circle cx="2069.8" cy="786.9" r="4.2"/><circle cx="2068.9" cy="785.9" r="4.4"/><circle cx="2066.8" cy="787.8" r="2.5"/><circle cx="2066.9" cy="783.8" r="5"/><circle cx="2065.5" cy="782.5" r="5.5"/><circle cx="2064.6" cy="781.6" r="6"/><circle cx="2067.8" cy="778.2" r="2.3"/></g>
<g fill="#18181A"><circle cx="2050.2" cy="795.7" r="4.6"/><circle cx="2050.9" cy="796.8" r="4.2"/><circle cx="2052" cy="798.6" r="3.5"/><circle cx="2053.1" cy="800.5" r="2.7"/><circle cx="2055.2" cy="799.3" r="2.4"/><circle cx="2054.1" cy="802.2" r="3.1"/><circle cx="2054.8" cy="803.4" r="4"/></g>
<g fill="#18181A"><circle cx="2119" cy="811.7" r="3"/><circle cx="2118.1" cy="812" r="3.3"/><circle cx="2117" cy="812.3" r="3.2"/><circle cx="2115.8" cy="812.7" r="2.3"/><circle cx="2116.4" cy="814.7" r="1.8"/><circle cx="2114.4" cy="813.2" r="2.2"/><circle cx="2112.9" cy="813.7" r="2.1"/><circle cx="2111.2" cy="814.2" r="3.1"/><circle cx="2110.7" cy="812.6" r="1.4"/><circle cx="2109.5" cy="814.7" r="3.8"/><circle cx="2107.8" cy="815.3" r="3.7"/><circle cx="2105.9" cy="815.9" r="3.9"/><circle cx="2106.8" cy="818.7" r="1.5"/><circle cx="2104.1" cy="816.5" r="2.9"/><circle cx="2102.2" cy="817.1" r="2.9"/><circle cx="2100.3" cy="817.7" r="2.4"/><circle cx="2099.8" cy="815.9" r="1.6"/><circle cx="2098.5" cy="818.2" r="3.3"/><circle cx="2096.7" cy="818.8" r="3.9"/><circle cx="2095" cy="819.3" r="4.5"/><circle cx="2095.7" cy="821.6" r="1.8"/><circle cx="2093.3" cy="819.8" r="4.5"/><circle cx="2091.8" cy="820.3" r="3.9"/><circle cx="2090" cy="820.8" r="3.7"/><circle cx="2089" cy="817.5" r="2.7"/><circle cx="2088.1" cy="821.4" r="3.4"/><circle cx="2086.2" cy="821.9" r="2.9"/><circle cx="2084.3" cy="822.5" r="3.3"/><circle cx="2085.3" cy="826" r="2.4"/><circle cx="2082.3" cy="823" r="3.6"/><circle cx="2080.5" cy="823.6" r="4.3"/><circle cx="2078.6" cy="824.1" r="4.9"/><circle cx="2077.9" cy="821.5" r="2.3"/><circle cx="2076.9" cy="824.5" r="5.1"/><circle cx="2075.2" cy="825" r="5.3"/><circle cx="2073.6" cy="825.4" r="5.7"/><circle cx="2074.3" cy="828" r="2"/><circle cx="2072.2" cy="825.8" r="4.8"/><circle cx="2070.9" cy="826.2" r="4.8"/><circle cx="2069.8" cy="826.5" r="4.4"/><circle cx="2069.1" cy="823.9" r="3.3"/><circle cx="2068.9" cy="826.7" r="4.2"/></g>
<path d="M2112.8 800.4 L2110.1 795.5 L2107.6 790.5 L2105.5 785.9 L2103.7 781.3 L2102.1 776.5 L2100.5 771.7 L2098.9 767 L2097.3 762.7 L2095.2 758.3 L2092.4 753.4M2118.4 805.6 L2117.9 800.5 L2117.3 794.8 L2116.7 789 L2116.1 783.5 L2115.6 778.7 L2114.9 772.9M2119.7 803.9 L2120.2 798.5 L2120.8 792.8 L2121.4 787 L2122 781.7 L2122.6 777.3 L2123.8 771.3 L2125.1 766.5M2125 803.2 L2128.1 798.9 L2131.3 794.2 L2134.6 789.6 L2137.6 785.1 L2140.4 781.1 L2143.1 777 L2146.2 772 L2148.9 767.6 L2151.2 763.6M2125 805.3 L2128.6 801.6 L2132.4 797.5 L2136.4 793.3 L2140.3 789.2 L2144 785.4 L2147.3 782 L2150.8 778.5 L2155.2 774.2 L2158.7 771M2123.6 807.7 L2127.3 804.3 L2131.5 800.6 L2135.7 796.9 L2139.7 793.6 L2143.5 790.4M2126.7 814.3 L2132 816.1 L2137.6 818 L2143 819.8 L2147.8 821.3 L2153 822.9 L2158.1 824.4M2126.8 816.8 L2131.4 819.9 L2136.2 823.1 L2141.1 826.4 L2145.6 829.5 L2149.5 832.4 L2153.9 836 L2158.1 839.8 L2161.5 843.4M2108.1 807.8 L2102.6 805.9 L2097 804 L2091.8 802.4 L2087 801.1 L2082.1 799.9 L2077.1 798.7 L2072.2 797.6 L2067.5 796.4 L2063.1 795.2M2112.9 813.7 L2107.8 815.3 L2102.2 817.1 L2096.7 818.8 L2091.8 820.3 L2086.2 821.9" fill="none" stroke="#D4D4DC" stroke-width="1.3" stroke-dasharray="5 2.5" opacity="0.85"/>
<circle cx="2119" cy="811.7" r="9.5" fill="#18181A"/>
</g>
<g id="frac4">
<defs><clipPath id="cf4"><polygon points="1967.5,1015.2 1970.2,1016.2 1973.1,1015.8 1975.9,1016 1978.6,1017.3 1981.5,1017.8 1981.1,1020.7 1983.2,1022.9 1983.2,1025.7 1983.9,1028.5 1986.7,1027.3 1989.8,1026.9 1991.9,1025 1994.2,1023.2 1996.9,1023 1999.5,1022.1 2002.2,1022.5 2004.8,1022.2 2007.9,1022.9 2011,1022.7 2014.1,1021.9 2016.6,1020.1 2019.5,1019.5 2022.6,1018.8 2024,1021 2025.1,1023.3 2025.7,1026.1 2028.6,1025.5 2031.4,1025.7 2034,1027.6 2036.8,1027.3 2039.3,1027.7 2041.1,1029.5 2041.8,1032.1 2043.6,1034 2045,1036 2045.5,1038.8 2046.6,1041.3 2047.9,1043.8 2048.4,1046.6 2048.3,1049.4 2048.2,1052.1 2048.6,1054.6 2050,1057 2050,1059.7 2051.6,1061.9 2053.7,1063.7 2055.4,1065.8 2057.7,1067.3 2057.8,1069.9 2058,1072.5 2059,1075 2058.8,1077.8 2060.8,1079.5 2063.8,1079.2 2065.4,1081.2 2066.2,1084 2067.8,1086.4 2069.3,1088.5 2072.3,1089.1 2075,1087.2 2078.1,1088.3 2080.7,1087 2082.1,1089.8 2082.5,1092.7 2082.3,1095.7 2081.4,1098.6 2080.3,1101.5 2079.8,1104.8 2082.6,1105.2 2085.3,1106 2087.2,1107.8 2087.3,1110.7 2084.9,1112.4 2085.2,1115.3 2083,1117.2 2082.4,1119.8 2081.2,1122.6 2081,1125.7 2079.7,1128.5 2079.7,1131.8 2077.1,1132.8 2075.1,1134.8 2072.3,1135.5 2070.2,1137.5 2068.9,1140 2067.4,1142.4 2066.7,1145.3 2064.6,1146.9 2067.9,1148.5 2071.5,1149.4 2073.6,1152.4 2076.5,1154.3 2077.3,1157.9 2076.7,1161.7 2073.6,1161.9 2070.7,1163.1 2068,1164.8 2064.6,1164.6 2062.4,1167 2061.6,1170.4 2059.1,1172.5 2057.7,1175.1 2055.5,1177.1 2054.3,1179.9 2051.9,1180.7 2049.3,1180.7 2046.9,1180.8 2044.1,1181.2 2041.5,1180.5 2039.1,1179.2 2036.3,1179.4 2033.9,1180.8 2031.3,1181.7 2028.5,1182.1 2026.2,1183.1 2024.6,1185.5 2021.7,1185.4 2019.7,1187.4 2017.1,1186.1 2014.9,1183.8 2012,1183.1 2009.4,1181.3 2006.9,1183.3 2004.1,1184 2002.2,1181.9 2001,1179.5 2000.4,1176.8 1999.5,1173.8 1999.2,1170.7 1999.2,1167.5 1997.9,1164.6 1995.9,1162.6 1995.3,1160.1 1994.6,1157.5 1993.5,1155.2 1992.3,1152.9 1992.9,1155.8 1994.1,1158.7 1994,1161.8 1993.6,1164.9 1994.9,1167.7 1994.9,1170.8 1994.4,1173.8 1995.3,1176.8 1995.6,1179.8 1995.9,1182.5 1996.7,1185.1 1996,1188 1997.1,1190.6 1997.1,1193.3 1997.9,1195.8 1996.9,1198.3 1997.5,1200.8 1996.9,1203.4 1996.6,1206 1995.9,1208.7 1993.3,1208.3 1990.9,1209.3 1988.3,1209.2 1985.8,1210.5 1983.1,1211.1 1980.4,1211.5 1977.5,1210.8 1975,1212 1971.8,1211.9 1969.1,1213.6 1966.1,1214.1 1963,1214.4 1960,1213.9 1956.9,1214.4 1953.8,1213.8 1950.8,1212.4 1947.4,1212.7 1948,1210 1947.6,1207.2 1947.9,1204.5 1947.1,1201.8 1947.1,1199 1948.2,1196.4 1949.9,1193.9 1951.3,1191.2 1952.7,1188.6 1954,1185.9 1955.3,1183.3 1957.8,1181.9 1959.7,1179.9 1960.8,1177.3 1962.4,1174.9 1962.7,1172.2 1965.3,1170.1 1966.1,1166.7 1968.7,1164.7 1971,1162.5 1973.3,1160.2 1975.1,1157.5 1972.8,1158.6 1971.3,1160.9 1968.6,1161.6 1967.1,1163.8 1965.2,1165.4 1963.1,1166.9 1961.6,1168.9 1960.2,1171.1 1958.5,1173.6 1956.4,1175.8 1954.2,1177.8 1951.4,1179.3 1949.3,1181.5 1947.7,1184.1 1946.8,1186.6 1945.1,1188.7 1944.8,1191.4 1943.4,1193.5 1942.5,1196 1940.5,1197.9 1938,1198.6 1935.6,1199.4 1933.5,1200.7 1933,1197.9 1933.9,1195 1933.2,1192.1 1932.7,1189.5 1929.4,1189.2 1926.8,1187.4 1925.8,1185 1924.3,1183 1922.4,1181.2 1920.5,1179.4 1919.3,1177.4 1916.6,1176.9 1913.9,1176.3 1911.3,1174.9 1908.5,1174.5 1905.8,1174.7 1902.9,1175.3 1901.7,1173.1 1901.1,1170.5 1903.7,1168.9 1904.5,1165.8 1907.3,1164.3 1908.9,1161.8 1910,1158.9 1911.8,1156.3 1911.8,1152.9 1913.4,1150.2 1910.8,1150.5 1908.3,1150.3 1905.9,1149.5 1903.2,1149.3 1900.5,1149.4 1897.6,1148.6 1897.4,1144.2 1898.8,1141.4 1901.6,1139.7 1903.2,1137.1 1905,1134.4 1903.5,1132.3 1902.4,1129.9 1900.3,1128.1 1897.7,1126.9 1895,1126.2 1892.5,1124.9 1889.9,1124.2 1888.8,1121.6 1887.7,1119 1886,1116.7 1885.8,1113.8 1885.3,1111.2 1884.2,1108.6 1884.6,1105.6 1887.3,1105.4 1889.2,1103.3 1891.6,1102.5 1894,1101.7 1896.7,1102.9 1899.7,1102.7 1902.5,1103.5 1905.3,1104.2 1907.7,1105 1909.6,1102.2 1909,1098.7 1911.1,1095.8 1909.7,1092.9 1909.2,1089.9 1910,1086.7 1909.1,1083.9 1909.7,1080.9 1911.4,1078.5 1912.6,1075.7 1914,1072.9 1911.5,1071.6 1910.4,1069 1908.6,1067 1906.3,1065.9 1906.4,1062.9 1906,1060 1904.7,1057.2 1907,1055.6 1908.7,1053.6 1910.2,1051.3 1911.7,1048.9 1914.4,1048.2 1917,1047.4 1919,1045.4 1921.7,1045.1 1924.5,1044.8 1926.9,1043.4 1928.9,1041.1 1932,1040.3 1934.2,1038.3 1937.1,1038.5 1939.7,1037.5 1942.3,1036.2 1944.8,1036 1946.6,1038.6 1948.8,1040.9 1950.2,1043.8 1951.4,1046.4 1953,1048.8 1954.9,1050.8 1956.1,1053.3 1957.3,1055.8 1958.8,1058.1 1960.6,1059.9 1961.7,1062.3 1964.1,1063.5 1965.9,1065.4 1966.2,1068.1 1967.7,1070.2 1969,1072.7 1970.4,1075.3 1972,1077.6 1974.2,1079.4 1976.3,1081.3 1977.9,1083.9 1977.2,1081 1975.7,1078.4 1974,1076 1974.1,1072.9 1972.9,1070.2 1971.4,1067.7 1969.7,1065.1 1970.2,1061.8 1968.8,1059.1 1966.9,1056.8 1964.1,1055.3 1962.9,1052.4 1960.6,1050.9 1959.8,1048.3 1958.1,1046.3 1956.9,1043.8 1956.6,1041 1955,1038.9 1956,1036.2 1955.7,1033.2 1956.5,1030.5 1957.5,1027.9 1957.7,1024.8 1959.8,1023 1962.4,1021.8 1964,1019.6 1966,1017.8"/></clipPath></defs>
<polygon points="1967.5,1015.2 1970.2,1016.2 1973.1,1015.8 1975.9,1016 1978.6,1017.3 1981.5,1017.8 1981.1,1020.7 1983.2,1022.9 1983.2,1025.7 1983.9,1028.5 1986.7,1027.3 1989.8,1026.9 1991.9,1025 1994.2,1023.2 1996.9,1023 1999.5,1022.1 2002.2,1022.5 2004.8,1022.2 2007.9,1022.9 2011,1022.7 2014.1,1021.9 2016.6,1020.1 2019.5,1019.5 2022.6,1018.8 2024,1021 2025.1,1023.3 2025.7,1026.1 2028.6,1025.5 2031.4,1025.7 2034,1027.6 2036.8,1027.3 2039.3,1027.7 2041.1,1029.5 2041.8,1032.1 2043.6,1034 2045,1036 2045.5,1038.8 2046.6,1041.3 2047.9,1043.8 2048.4,1046.6 2048.3,1049.4 2048.2,1052.1 2048.6,1054.6 2050,1057 2050,1059.7 2051.6,1061.9 2053.7,1063.7 2055.4,1065.8 2057.7,1067.3 2057.8,1069.9 2058,1072.5 2059,1075 2058.8,1077.8 2060.8,1079.5 2063.8,1079.2 2065.4,1081.2 2066.2,1084 2067.8,1086.4 2069.3,1088.5 2072.3,1089.1 2075,1087.2 2078.1,1088.3 2080.7,1087 2082.1,1089.8 2082.5,1092.7 2082.3,1095.7 2081.4,1098.6 2080.3,1101.5 2079.8,1104.8 2082.6,1105.2 2085.3,1106 2087.2,1107.8 2087.3,1110.7 2084.9,1112.4 2085.2,1115.3 2083,1117.2 2082.4,1119.8 2081.2,1122.6 2081,1125.7 2079.7,1128.5 2079.7,1131.8 2077.1,1132.8 2075.1,1134.8 2072.3,1135.5 2070.2,1137.5 2068.9,1140 2067.4,1142.4 2066.7,1145.3 2064.6,1146.9 2067.9,1148.5 2071.5,1149.4 2073.6,1152.4 2076.5,1154.3 2077.3,1157.9 2076.7,1161.7 2073.6,1161.9 2070.7,1163.1 2068,1164.8 2064.6,1164.6 2062.4,1167 2061.6,1170.4 2059.1,1172.5 2057.7,1175.1 2055.5,1177.1 2054.3,1179.9 2051.9,1180.7 2049.3,1180.7 2046.9,1180.8 2044.1,1181.2 2041.5,1180.5 2039.1,1179.2 2036.3,1179.4 2033.9,1180.8 2031.3,1181.7 2028.5,1182.1 2026.2,1183.1 2024.6,1185.5 2021.7,1185.4 2019.7,1187.4 2017.1,1186.1 2014.9,1183.8 2012,1183.1 2009.4,1181.3 2006.9,1183.3 2004.1,1184 2002.2,1181.9 2001,1179.5 2000.4,1176.8 1999.5,1173.8 1999.2,1170.7 1999.2,1167.5 1997.9,1164.6 1995.9,1162.6 1995.3,1160.1 1994.6,1157.5 1993.5,1155.2 1992.3,1152.9 1992.9,1155.8 1994.1,1158.7 1994,1161.8 1993.6,1164.9 1994.9,1167.7 1994.9,1170.8 1994.4,1173.8 1995.3,1176.8 1995.6,1179.8 1995.9,1182.5 1996.7,1185.1 1996,1188 1997.1,1190.6 1997.1,1193.3 1997.9,1195.8 1996.9,1198.3 1997.5,1200.8 1996.9,1203.4 1996.6,1206 1995.9,1208.7 1993.3,1208.3 1990.9,1209.3 1988.3,1209.2 1985.8,1210.5 1983.1,1211.1 1980.4,1211.5 1977.5,1210.8 1975,1212 1971.8,1211.9 1969.1,1213.6 1966.1,1214.1 1963,1214.4 1960,1213.9 1956.9,1214.4 1953.8,1213.8 1950.8,1212.4 1947.4,1212.7 1948,1210 1947.6,1207.2 1947.9,1204.5 1947.1,1201.8 1947.1,1199 1948.2,1196.4 1949.9,1193.9 1951.3,1191.2 1952.7,1188.6 1954,1185.9 1955.3,1183.3 1957.8,1181.9 1959.7,1179.9 1960.8,1177.3 1962.4,1174.9 1962.7,1172.2 1965.3,1170.1 1966.1,1166.7 1968.7,1164.7 1971,1162.5 1973.3,1160.2 1975.1,1157.5 1972.8,1158.6 1971.3,1160.9 1968.6,1161.6 1967.1,1163.8 1965.2,1165.4 1963.1,1166.9 1961.6,1168.9 1960.2,1171.1 1958.5,1173.6 1956.4,1175.8 1954.2,1177.8 1951.4,1179.3 1949.3,1181.5 1947.7,1184.1 1946.8,1186.6 1945.1,1188.7 1944.8,1191.4 1943.4,1193.5 1942.5,1196 1940.5,1197.9 1938,1198.6 1935.6,1199.4 1933.5,1200.7 1933,1197.9 1933.9,1195 1933.2,1192.1 1932.7,1189.5 1929.4,1189.2 1926.8,1187.4 1925.8,1185 1924.3,1183 1922.4,1181.2 1920.5,1179.4 1919.3,1177.4 1916.6,1176.9 1913.9,1176.3 1911.3,1174.9 1908.5,1174.5 1905.8,1174.7 1902.9,1175.3 1901.7,1173.1 1901.1,1170.5 1903.7,1168.9 1904.5,1165.8 1907.3,1164.3 1908.9,1161.8 1910,1158.9 1911.8,1156.3 1911.8,1152.9 1913.4,1150.2 1910.8,1150.5 1908.3,1150.3 1905.9,1149.5 1903.2,1149.3 1900.5,1149.4 1897.6,1148.6 1897.4,1144.2 1898.8,1141.4 1901.6,1139.7 1903.2,1137.1 1905,1134.4 1903.5,1132.3 1902.4,1129.9 1900.3,1128.1 1897.7,1126.9 1895,1126.2 1892.5,1124.9 1889.9,1124.2 1888.8,1121.6 1887.7,1119 1886,1116.7 1885.8,1113.8 1885.3,1111.2 1884.2,1108.6 1884.6,1105.6 1887.3,1105.4 1889.2,1103.3 1891.6,1102.5 1894,1101.7 1896.7,1102.9 1899.7,1102.7 1902.5,1103.5 1905.3,1104.2 1907.7,1105 1909.6,1102.2 1909,1098.7 1911.1,1095.8 1909.7,1092.9 1909.2,1089.9 1910,1086.7 1909.1,1083.9 1909.7,1080.9 1911.4,1078.5 1912.6,1075.7 1914,1072.9 1911.5,1071.6 1910.4,1069 1908.6,1067 1906.3,1065.9 1906.4,1062.9 1906,1060 1904.7,1057.2 1907,1055.6 1908.7,1053.6 1910.2,1051.3 1911.7,1048.9 1914.4,1048.2 1917,1047.4 1919,1045.4 1921.7,1045.1 1924.5,1044.8 1926.9,1043.4 1928.9,1041.1 1932,1040.3 1934.2,1038.3 1937.1,1038.5 1939.7,1037.5 1942.3,1036.2 1944.8,1036 1946.6,1038.6 1948.8,1040.9 1950.2,1043.8 1951.4,1046.4 1953,1048.8 1954.9,1050.8 1956.1,1053.3 1957.3,1055.8 1958.8,1058.1 1960.6,1059.9 1961.7,1062.3 1964.1,1063.5 1965.9,1065.4 1966.2,1068.1 1967.7,1070.2 1969,1072.7 1970.4,1075.3 1972,1077.6 1974.2,1079.4 1976.3,1081.3 1977.9,1083.9 1977.2,1081 1975.7,1078.4 1974,1076 1974.1,1072.9 1972.9,1070.2 1971.4,1067.7 1969.7,1065.1 1970.2,1061.8 1968.8,1059.1 1966.9,1056.8 1964.1,1055.3 1962.9,1052.4 1960.6,1050.9 1959.8,1048.3 1958.1,1046.3 1956.9,1043.8 1956.6,1041 1955,1038.9 1956,1036.2 1955.7,1033.2 1956.5,1030.5 1957.5,1027.9 1957.7,1024.8 1959.8,1023 1962.4,1021.8 1964,1019.6 1966,1017.8" fill="#0E0E11"/>
<g clip-path="url(#cf4)">
<path d="M1967.5 1137.9L1943.4 1153.1M1945.6 1100.2L1908.6 1083.2M1980.8 1081.7L1978.2 1027.7M2003.3 1092.8L2012.8 1068.2M1981.7 1100.1L1974 1040.4M2031.2 1139.4L2046.7 1151.9M1998.2 1101.4L2036.4 1051M2016.6 1152.6L2028 1173.4M1963.6 1067.5L1953.2 1050.8M1955.2 1093L1940.6 1070.8M2001.1 1098.7L2017.9 1078.2M1948.8 1145.5L1917.5 1168.6M2005.2 1124.1L2052.4 1134.3M1942.9 1142.7L1905.1 1153M1969.4 1097.8L1950.3 1079.7M2036.5 1134.4L2080.5 1151.7M2019.2 1149.1L2033.1 1168.6M1958.6 1081.8L1934.1 1048.6M2018.6 1074.7L2032 1053.6M1980.7 1077L1976.1 1042.3M2011.2 1116L2041.7 1112.3M1976.2 1175L1963.2 1201M1946.2 1158.2L1911.9 1183.2M1990.1 1142.2L1997.6 1160.9M1976.9 1106.7L1960.4 1076.5M2001.5 1145.2L2016.8 1172.3M2028.7 1161.3L2050.5 1187.9M1950.9 1109.5L1891.9 1079.1M1992.1 1107.5L2025.1 1057.7M1961.4 1093L1924.3 1059.6M1978.5 1072.6L1975.8 1052.1M1960.7 1104.5L1919.5 1065.9M2008.5 1105.9L2033.2 1094.9M1946.2 1088.1L1906.2 1061.1M1961.8 1106.9L1909 1069.7M1987.9 1157.8L1996.5 1204.5M1999.9 1153.6L2008.9 1173.3M2032.9 1102.5L2053.3 1100.4M1975.8 1076.5L1975.8 1057.1M2002.2 1168.6L2014.5 1195.5M2010.2 1168.2L2015.8 1193.5M1964.8 1119.6L1904.2 1113.7M2035.7 1130L2063.8 1125.7M1990.2 1074.9L1987.6 1041.5M1945.5 1114.5L1896.8 1106.4M1943.1 1102.1L1917.8 1096.7M1937.6 1126L1888.9 1122.6M1942.6 1138.6L1922.7 1148.6M2032.5 1142.4L2078.5 1167.6M1985.8 1090.6L1977.6 1029M1964.9 1143L1924.8 1196.3M1995.1 1136.5L2039.2 1197.6M2008.4 1105.3L2058.7 1061.7M2032.7 1088.1L2070.2 1067.4M2029.2 1087.9L2063.7 1054.7M2014.2 1081.6L2027 1053.2M2013.8 1100.6L2054.2 1080.3M1960.1 1123.9L1900.8 1129.3M1979 1166L1977.4 1221.1M2003.8 1077.1L2012.4 1039.9M1971.8 1098.4L1959.5 1067.7M1983 1139.4L1962.4 1212M1974.4 1151.6L1953.8 1194.3M2028.4 1124.7L2055.4 1134.1M1936.8 1150.2L1908.3 1163.4M2007.8 1126.8L2043.8 1133.6M2000.7 1150.5L2010.4 1171M2036.5 1109.2L2076.1 1110.7M1979.6 1079.2L1966.6 1043.1M2027.9 1087.6L2064.6 1064.1M2007.3 1068.6L2031 1028.8M2041.7 1127.1L2076.3 1129.6M1961.6 1132.3L1942.9 1139.6M1972.1 1109.3L1919.1 1048.1M2010.6 1092.7L2034.2 1065M1946.2 1162.8L1908.8 1188.2M1948.6 1116.8L1896.9 1114.8M2008.8 1174.7L2023.2 1196.1M1967.4 1122.2L1914.4 1130.6M1993.8 1105.8L2024 1039.6M1997.2 1072.7L2001.7 1020.3M2005.9 1119.4L2045.6 1108.2M1967.7 1122L1911.9 1116.5M1993.9 1079.1L2005.6 1059.5M1947.9 1164L1936.1 1183.1" stroke="#3A3C46" stroke-width="2.6" fill="none" opacity="0.6" stroke-linecap="round"/>
</g>
<path d="M1975.5 1014.9L1977.5 1014.7L1977 1020.8ZM1981.9 1020.1L1984.1 1020.9L1980 1030.2ZM1987.1 1024.8L1989.6 1024.8L1988.5 1034.9ZM1995.8 1021L1998.4 1021.3L1996.4 1026.6ZM2004.1 1019.5L2007.1 1021.1L2002 1027.1ZM2013.1 1017.8L2016.3 1018.1L2013.9 1028.4ZM2021.5 1016.2L2023.9 1018.5L2015.9 1024.4ZM2028.6 1023.1L2030.5 1024.5L2024.2 1031.2ZM2035.5 1024.4L2037.1 1025.6L2030.1 1033.1ZM2044.3 1031.4L2046.7 1033L2041.3 1038.4ZM2048.7 1043L2050.2 1045.1L2043.3 1048.6ZM2049.9 1054.8L2051.5 1055.8L2045.5 1063.9ZM2057.4 1065.3L2060.2 1067.2L2055.3 1071.4ZM2062.4 1076.4L2063.9 1078.2L2056.3 1083.1ZM2070.7 1085.8L2071.7 1087.5L2064.9 1090.4ZM2081.5 1084.5L2083 1086.5L2075.7 1090.4ZM2083.6 1096.5L2084.5 1098.2L2075.9 1101.6ZM2088.6 1105.7L2089.6 1107.5L2082.1 1110.2ZM2084.7 1118.7L2085.3 1121.6L2078.9 1121.3ZM2080.7 1132.2L2080 1135L2071.9 1131.6ZM2070 1141.4L2069.8 1144.7L2064 1142.6ZM2074.1 1151.3L2073.1 1153.1L2065 1147.4ZM2079.6 1160.1L2078.5 1162.7L2069.5 1157.4ZM2069.5 1165.2L2067.6 1167L2062.3 1159.4ZM2060.8 1173.4L2059.8 1175.7L2052.7 1171.3ZM2052.5 1181.1L2049.8 1182.7L2045.9 1173.2ZM2039.4 1182.2L2037.1 1183.1L2034.9 1174.1ZM2029 1184.5L2027.3 1186.7L2023.2 1181.8ZM2021.8 1187.3L2019.8 1189.6L2015.8 1183.9ZM2007.9 1184.5L2006.2 1185.8L2003.8 1180.6ZM2002.8 1176.4L2000.2 1178.4L1997.6 1172.2ZM1998.9 1163.9L1997.4 1165.1L1991.9 1157.1ZM1994.9 1155.6L1991.6 1155.9L1992.4 1145.7ZM1995.7 1163.3L1993.6 1164.1L1991.4 1155.1ZM1997.4 1172.6L1994.6 1174L1993.1 1167.5ZM1998 1187.1L1995.5 1187.4L1995.4 1177.6ZM1998.8 1199.8L1996 1200.4L1995.3 1190.2ZM1994.2 1211.3L1992.3 1211.3L1993.2 1203.5ZM1982.3 1213.1L1979 1213L1980.9 1205.6ZM1972.3 1214.4L1970.2 1213.2L1975.8 1206.1ZM1957.5 1216.7L1955.6 1215.3L1961.9 1209ZM1949.4 1213.2L1946.5 1213.2L1947.8 1205.6ZM1948.2 1199.3L1945.4 1197.9L1950.6 1190.9ZM1954.7 1188.5L1952.6 1188.4L1954.1 1181.1ZM1959 1181.5L1957.2 1181.2L1959.3 1174.3ZM1967.3 1169.5L1964.9 1168L1971.2 1160.6ZM1974.2 1161.4L1971.7 1161.2L1973.5 1155.6ZM1962.2 1171.8L1959.7 1170.9L1964 1163.5ZM1954.5 1180.5L1951.4 1179.3L1956.1 1172ZM1948.4 1185.1L1947 1183.7L1953.4 1178.3ZM1944.4 1192.9L1941.9 1190.7L1947.1 1187.2ZM1939.5 1200.7L1937.7 1199.5L1943.6 1192.1ZM1933.2 1200.9L1930.9 1200.1L1934.9 1192.7ZM1928.3 1190.5L1926 1189.1L1931.1 1183.2ZM1918 1179.4L1916.9 1177.1L1923.2 1175.3ZM1904 1178.1L1902.4 1176.8L1909.4 1169.5ZM1902.2 1171.2L1900.4 1168.7L1907.3 1165.7ZM1908.1 1161.3L1907.1 1158.6L1915.3 1157.1ZM1907.8 1150.4L1907.9 1148.5L1913.7 1149.6ZM1900.4 1150.5L1899.8 1148.4L1909.9 1146.5ZM1894.8 1144.9L1894.8 1142L1904.2 1143.3ZM1900.1 1137.6L1900.9 1134.5L1908.7 1138.2ZM1896.3 1130L1895.4 1128.1L1905.5 1124.8ZM1886 1123.2L1886.6 1120.8L1895.4 1124.1ZM1883.6 1117.6L1883.5 1115.3L1893.6 1115.9ZM1884.1 1105.5L1885.3 1103.1L1891.8 1107.7ZM1896.9 1103.2L1897.8 1101.2L1905 1105.3ZM1906.9 1098.2L1907.8 1096.3L1915.8 1100.9ZM1906.8 1088.5L1907 1086.2L1914.1 1087.8ZM1909.3 1077.3L1909.8 1075.3L1915 1077.6ZM1903.1 1064.9L1905.3 1062.8L1908.6 1068.5ZM1903.6 1055.2L1904.8 1052.5L1913.7 1058.2ZM1908.6 1050L1910 1047.4L1914.4 1051.5ZM1919.2 1045.4L1920.8 1042.7L1927.7 1048.7ZM1927.9 1039.7L1930.9 1038.5L1933.3 1048.6ZM1938.9 1035.1L1941 1034.5L1942 1042.3ZM1944.5 1037.6L1945.9 1036.2L1950.3 1041.7ZM1949 1044.7L1950.9 1042.6L1956.7 1049.6ZM1954.5 1055.6L1956.4 1053.5L1960.4 1059.1ZM1964.1 1064.8L1966.1 1064.8L1964.9 1072.7ZM1969 1071.2L1971.1 1071.3L1969.9 1077.3ZM1974.1 1078L1976.8 1078.2L1974.9 1087.1ZM1971.8 1072.1L1974.1 1070.9L1976.1 1077.3ZM1966.1 1058.5L1968.2 1057.9L1969.7 1068.1ZM1961.6 1052.4L1964.3 1051.3L1966.5 1060.2ZM1954.6 1039.5L1956.2 1038.6L1958.4 1044.2ZM1957.3 1024L1959.1 1024.1L1958 1031Z" fill="#fff"/>
<polygon points="1992.1,1040.4 1996.1,1038.7 1996.8,1042.3 1998.4,1045.5 1999.5,1049 2000.6,1052.4 2001.3,1055.7 2001.1,1058.9 2001.2,1062.2 2001.3,1065.4 2002.4,1068.6 2002.2,1071.9 2001.5,1075.1 1999.5,1077.8 1998.5,1080.8 1997.4,1083.9 1997.5,1080.5 1996.9,1077.2 1995.8,1074 1995.1,1070.7 1994.2,1067.4 1993.5,1064.5 1993.9,1061.4 1993.1,1058.5 1993,1055.5 1992.8,1052.5 1992.3,1049.5 1992.6,1046.4 1992.3,1043.5" fill="#fff"/>
<polygon points="2007.5,1102.2 2010,1099.6 2012.3,1096.9 2014.2,1093.8 2016.7,1091.2 2019.2,1089.5 2021.7,1087.7 2024.5,1086.4 2026.9,1084.6 2029.4,1082.7 2031.8,1080.9 2034.6,1079.1 2036.9,1076.7 2039.8,1075 2042.7,1073.2 2039.5,1078.1 2037.7,1080.8 2034.7,1082.4 2033.1,1085.3 2030.2,1087 2028.2,1089.6 2025.8,1091.7 2023.2,1093.5 2021.5,1096.3 2019.1,1098.4 2016.1,1099.7 2014.1,1102.2 2010.8,1102.7" fill="#fff"/>
</g>
<g id="frac5">
<defs><clipPath id="cf5"><polygon points="1780.8,1386.3 1779.8,1382.8 1775.9,1382.2 1774.6,1379 1773.2,1376.5 1771,1374.8 1768.1,1373.8 1766.5,1371.6 1765.7,1369.1 1764.9,1366.8 1762.7,1365.4 1760.9,1363.7 1759.1,1362 1757.7,1360 1757,1357.5 1754.9,1356.1 1753.7,1354 1752.2,1352 1750.3,1350 1747.1,1349.6 1745.4,1347.4 1744.3,1344.5 1741.9,1343 1740.4,1340.6 1737.2,1339.9 1735.4,1338.2 1734.4,1335.7 1733.4,1333.3 1730.5,1332.4 1730.2,1329.4 1727.9,1328.1 1725.8,1326.3 1725.3,1323.3 1721.9,1322.7 1722,1319 1719.3,1317.6 1721.7,1317.2 1724.1,1317 1726.7,1316.9 1729.4,1317.7 1731.5,1316.3 1733,1313.9 1733.6,1311.3 1734.2,1308.6 1734.7,1305.9 1736.7,1304.1 1739,1303.1 1741.5,1302.8 1744,1302.7 1745.9,1301.8 1747.6,1299.1 1748.2,1296.2 1747.3,1292.9 1750.2,1294.1 1753.1,1293.8 1756,1292.6 1758.7,1293 1760.4,1290.4 1763.3,1289.4 1765.7,1287.8 1768.6,1288 1771.5,1288.1 1774.3,1288.4 1775.8,1290.8 1775.8,1293.4 1775.4,1296.2 1778.2,1295 1780.8,1294 1782.2,1291.2 1785.6,1289.8 1786.2,1286.7 1788.2,1285.2 1789.1,1282.6 1791,1281 1793.4,1279.9 1794.6,1277.8 1797.4,1279.6 1801,1280.8 1799.2,1283.4 1800,1286.6 1798.7,1289.4 1797.2,1291.7 1794.9,1293.6 1795.2,1296.7 1793.5,1298.9 1793.8,1301.6 1790.9,1303.2 1792.1,1306.2 1790.5,1308.2 1789.6,1310.6 1789.1,1313 1789.7,1315.6 1789,1318 1790.7,1320.6 1787.7,1322.9 1788.8,1325.5 1788.8,1328 1789.1,1330.5 1788,1332.8 1787,1335.1 1787.2,1337.7 1787.6,1340.3 1786.2,1342.3 1787,1345.6 1790.2,1347.4 1789.3,1349.7 1788.2,1352 1789.2,1354.7 1787.5,1356.9 1787.5,1359.4 1785.6,1361.5 1787.3,1364.4 1786.2,1366.7 1785.9,1369.1 1785.3,1371.5 1784.8,1374 1784.4,1376.5 1784.2,1379.1 1782.4,1381.4 1783.2,1384.2"/><polygon points="1782.6,1385.7 1784.8,1383.9 1785.1,1381.1 1785,1378.1 1788.1,1376.6 1789.1,1374.2 1790,1371.7 1791.6,1369.4 1791.5,1366.6 1793.2,1364.4 1792.3,1361.7 1794.3,1359.6 1795.2,1357.3 1794.3,1354.6 1794.4,1352.1 1795.8,1349.9 1795.9,1347.3 1795.5,1344.9 1794.1,1342.6 1794.7,1340.1 1795.5,1337.6 1793.4,1335.3 1794.6,1332.8 1796.4,1330.8 1796.4,1328.3 1795.6,1325.6 1795.8,1323.2 1797.6,1321.1 1798.3,1318.8 1798.3,1316.3 1799.1,1313.7 1800.9,1311.3 1800.4,1308.5 1800.5,1305.8 1801,1302.5 1803.6,1300.6 1804.8,1297.8 1807.9,1295.7 1807.9,1292.2 1809.1,1289.4 1812,1290.3 1815.4,1290 1815.3,1292.9 1816.8,1294.9 1819.7,1296.2 1819.4,1299.3 1820.6,1301.8 1822,1304.2 1825.8,1304.8 1826.1,1307.6 1825.1,1310.4 1826,1313.6 1825.1,1316.6 1822.9,1318.7 1823.2,1322.1 1820.7,1324.1 1818.7,1325.9 1818.4,1328.8 1817.3,1331.1 1815.8,1333.3 1815.3,1336 1813.5,1337.9 1811.6,1340 1809.6,1342 1807.9,1344.2 1808.9,1347.9 1807.1,1350 1804.9,1352 1805.1,1354.8 1802.9,1356.7 1801.6,1359 1801,1361.5 1800.9,1364.1 1800.2,1366.5 1798,1367.9 1798.1,1371.2 1796,1372.7 1793.5,1373.9 1792.5,1376.3 1790.5,1378.1 1788.3,1380 1787.8,1382.8 1786.9,1385.4 1786.1,1387.7"/><polygon points="1786.4,1389.2 1786.5,1386 1788,1383.8 1791.3,1383 1793,1381 1793.8,1378.3 1795,1376.2 1796,1373.9 1799.2,1373.3 1800,1370.9 1802.1,1369.4 1802.8,1366.9 1804.7,1365.3 1805,1362.7 1806.7,1360.7 1805.7,1357.7 1807.1,1355.6 1808.2,1353.4 1809.2,1351.2 1811.3,1349.3 1811.1,1346.7 1810.4,1343.8 1813.1,1342.2 1813.3,1339.8 1815.4,1337.8 1817.2,1335.7 1818.4,1333.1 1819.3,1330.3 1820.9,1328.1 1821.9,1325.5 1824.4,1324.8 1826.4,1323.4 1828.9,1322.8 1830.9,1320.5 1832.5,1322.7 1833.7,1325.2 1834.5,1327.7 1836.9,1329.5 1838.7,1332.5 1842.1,1332.6 1845,1332.1 1847.7,1332.6 1850,1335.3 1852.9,1334.8 1855,1335.9 1857.2,1338.4 1857.2,1341 1855.3,1343.4 1851.9,1343.2 1849.6,1344.7 1847.9,1347.4 1847,1350 1844.2,1350.7 1842.6,1352.6 1840.7,1354.3 1840.1,1357.1 1836.9,1357.5 1836.3,1360.3 1834.4,1362 1833.3,1364.6 1831.4,1366.7 1828.6,1367.7 1827.3,1370.3 1825,1371.9 1822.2,1372.9 1820.6,1375.1 1818.6,1376.7 1816.7,1378.5 1813.9,1378.7 1812.1,1380.6 1809,1380.3 1807.1,1382.1 1805.1,1383.6 1803.3,1385.6 1800.5,1385.2 1798.6,1387.1 1796.6,1388.6 1794.5,1389.9 1791.8,1389.8 1788.9,1388.9"/><polygon points="1788.8,1390 1790.8,1388.3 1793.6,1388.9 1795.9,1387.9 1798.5,1387.6 1801,1387.2 1802.6,1384.4 1805.6,1385 1807.2,1382.8 1810.1,1382.8 1811.5,1380.3 1814.5,1380.5 1816.1,1378.3 1818.6,1377.5 1821.1,1376.6 1823.2,1375.2 1825.1,1373.5 1827.4,1372.2 1828.3,1369.3 1829.9,1367.3 1833,1366.9 1834.4,1364.7 1836,1362.6 1839.1,1361.6 1840.7,1359.4 1842.3,1357.1 1843.3,1354.4 1845.9,1353 1846.8,1350.1 1848.6,1348.1 1851.5,1347.6 1853.3,1345.6 1855.7,1344.5 1857.7,1342 1860,1343.5 1862.6,1344.2 1865.5,1344.1 1867.2,1347.3 1870.1,1347.3 1870.6,1350.7 1870.9,1354 1868.8,1355.5 1867.9,1358.3 1865.8,1359.8 1863.6,1360.4 1865.5,1362.9 1868.7,1363.4 1870.2,1366.4 1872.6,1367.7 1873.5,1370.8 1874.2,1374 1876.8,1376.3 1878.3,1378.9 1879.8,1381.6 1881.5,1384.1 1882.5,1387.4 1883.8,1390.7 1884.4,1393.5 1882.1,1394.5 1880.9,1397 1879.5,1399 1876.7,1399.5 1877.6,1402.4 1877.3,1405.3 1876.5,1407.9 1874.3,1409.2 1872,1410.5 1870.8,1413.1 1869.2,1414.7 1866.5,1414.5 1864.8,1412.4 1862.5,1411.5 1859.8,1411.3 1858.2,1409.1 1856,1408 1853.7,1407.6 1851,1406.9 1848.9,1408.8 1846.1,1407.5 1843.7,1409.3 1843.3,1406.2 1841.3,1404.2 1839,1402.6 1836.3,1402.2 1834.3,1400.1 1831.7,1399.4 1829.6,1397.6 1827,1396.8 1824.7,1396.2 1822.3,1396.5 1819.8,1396 1817.3,1395.8 1814.9,1396.9 1812.2,1396.1 1809.4,1396.9 1806.8,1394.9 1804,1394.9 1801.2,1395.6 1798.5,1395.1 1796,1393.2 1793.4,1395.6 1790.9,1394.6"/><polygon points="1776,1392.1 1773.9,1390.7 1771.8,1389.4 1771.2,1386.3 1768.6,1385.5 1766.3,1384.4 1763.8,1383.6 1763,1380.7 1760.4,1380 1759.4,1377.2 1757.1,1376.2 1755.4,1374 1752.4,1373.1 1750.6,1371.1 1749.9,1368 1747.8,1366.3 1745.6,1364.8 1744,1362.8 1742.5,1360.9 1740,1359.7 1738.5,1357.6 1737.3,1355.4 1735,1354.4 1733.5,1352.3 1731.2,1351.2 1730.8,1347.8 1728.2,1347 1726.9,1344.6 1723.2,1345.2 1722.8,1341.8 1720.8,1340.3 1718.7,1338.8 1716.1,1338.1 1715,1335 1712.8,1333.5 1710.1,1333 1707.5,1331.7 1706.8,1334.9 1703.6,1336.5 1703.1,1339.1 1705.3,1341.2 1707.5,1343.2 1710.7,1343.3 1712.6,1345.1 1714.1,1347.3 1717.4,1347.6 1718.9,1349.7 1720.1,1352.4 1722.1,1354.9 1726,1354.4 1728.3,1356.7 1730.9,1357.9 1731.3,1361.4 1732.8,1363.8 1736.7,1363.7 1737.4,1366.9 1739.5,1368.7 1742.1,1369.9 1743.1,1372.8 1745.4,1374.3 1747.5,1376 1749.8,1377.4 1751.7,1379.2 1753.9,1380.6 1755.3,1383 1756.8,1385.2 1759.7,1385.6 1760.9,1388.1 1762,1390.7 1764.8,1391 1766.6,1392.3 1769.1,1393.3 1771.6,1393.3 1773.8,1390.8"/><polygon points="1771.6,1393.4 1769.6,1391.4 1766.9,1390.5 1764.8,1388.7 1762.2,1387.9 1759.7,1386.7 1756.8,1386.4 1755.1,1383.7 1752.6,1382.6 1749.5,1382.7 1747.3,1381.1 1745.6,1379.2 1742.7,1379.1 1740.8,1377.4 1738.5,1376.3 1737.6,1373.3 1734.6,1373.3 1732.5,1371.8 1731.9,1368.8 1729.9,1367.1 1726.9,1366.3 1724.7,1364.7 1724.1,1361.9 1722.4,1359.7 1719.2,1360.4 1717.3,1358.5 1714.4,1358.6 1712.7,1356.6 1710.6,1355 1708.2,1353.5 1705.2,1354.3 1703,1352.8 1700.9,1354 1699.2,1356.1 1696,1355.2 1694,1356.7 1692.4,1359.6 1689.4,1360.3 1690.6,1362.7 1692.6,1364.1 1695,1364.9 1697.7,1366 1699.6,1368 1700.9,1370.5 1703.3,1371.4 1705.8,1371 1708.1,1372.2 1710.6,1372 1713.4,1370.4 1715.9,1373.2 1718.7,1372.1 1721.4,1372.5 1724.1,1372.5 1726.4,1374.3 1729.2,1375.1 1731.8,1376.3 1733.4,1378.6 1736.1,1379.8 1737.8,1381.9 1740.6,1382.3 1741.6,1386 1744.5,1386.3 1746.5,1388.2 1749.2,1389.1 1751.5,1390.6 1754.6,1390.4 1756.2,1393.5 1759.6,1392.8 1761.9,1395.1 1764.3,1395.4 1766.8,1395.5 1769.2,1395.3"/><polygon points="1676.9,1393.9 1679.5,1393.6 1680.6,1390.6 1683.2,1390.4 1685.7,1389.8 1687.4,1387.8 1689.6,1386.6 1692.3,1387.1 1694.7,1386 1696.8,1384.4 1699.3,1384.1 1702,1383.9 1703.4,1386.4 1706.7,1385.6 1708.8,1387 1710.5,1389.2 1713.5,1389.2 1716.3,1389.9 1718.4,1392.6 1721.2,1393.3 1724.1,1394 1726.8,1392.6 1729.5,1393.3 1732.2,1392.5 1734.9,1393.8 1737.6,1393.4 1740.1,1393.4 1742.3,1391.8 1744.7,1391.1 1747.1,1390.9 1750,1392.6 1752.2,1390.5 1754.7,1390.3 1757,1391.1 1759.6,1390.5 1761.7,1392.9 1764.4,1391.4 1766.1,1392.7 1766.9,1395.3 1767.9,1397.9 1766.7,1400.8 1763.8,1401.5 1761,1402.3 1757.7,1400.7 1755,1402.1 1752.3,1402.8 1749.6,1403.1 1746.8,1402.6 1744.2,1403.7 1741.3,1404.2 1741.4,1407.1 1738.4,1408.7 1739.3,1411.8 1737.4,1413.6 1735,1414.5 1733.3,1417.1 1731.9,1413.2 1730.1,1414.7 1728.7,1416.9 1725.9,1417.2 1724.1,1418.8 1721.6,1420.2 1721,1423.5 1719.3,1425.6 1716.5,1426.7 1715.2,1428.8 1713.4,1430.5 1711.5,1432.1 1709.3,1433.6 1709,1436.6 1707,1439.1 1703.2,1439.8 1701.9,1442.6 1699.4,1442.8 1696.9,1442 1694.8,1445 1692.3,1443.9 1690,1441.4 1689.1,1437.9 1691,1436.2 1693.8,1435.5 1694.5,1432.3 1697,1431.5 1694.3,1431.8 1692.4,1430 1689.8,1429.9 1688.1,1427.5 1685.6,1427.4 1683,1426.1 1682.2,1423 1679.8,1422.1 1682.7,1420.7 1686,1420.4 1688.3,1418 1685.6,1416.2 1682.6,1415.1 1679.7,1414 1679.4,1410.8 1677.4,1408 1678.8,1405.8 1679.5,1403.2 1681.6,1401.4 1679.3,1399.3 1678.7,1396.1"/><polygon points="1771.4,1410.6 1769.2,1412.3 1766.9,1413.4 1763.9,1411.1 1762,1414.2 1759.2,1412.8 1756.7,1413.6 1754.8,1415.8 1752,1416.6 1750.1,1418.8 1748,1420.6 1745.3,1421.7 1743.1,1423.1 1740.9,1424.7 1738.6,1426.1 1737,1428.5 1733.3,1427.7 1731.9,1430.6 1729.4,1431.3 1726.7,1431.5 1725.7,1435 1722.8,1434.9 1720.9,1436.8 1718.2,1436.9 1715.1,1437.1 1712.2,1438 1709.7,1440.2 1707.5,1442.5 1704.2,1442.9 1701.5,1444.8 1699.7,1447.4 1699.8,1450.9 1702.6,1451.8 1702.3,1455.5 1704.4,1457.1 1707,1459 1708.7,1456.8 1711,1456 1713.2,1455.2 1715,1452.6 1718.3,1451.3 1720.3,1448.8 1721.7,1446.1 1724.5,1444.8 1725.7,1442 1727.7,1439.7 1730.1,1438.6 1732.3,1437.4 1733.5,1434.9 1735.1,1432.9 1738.4,1432.9 1739.6,1430.4 1741.9,1429.3 1743.9,1427.7 1746.4,1426.8 1748.3,1425.1 1750.8,1424.3 1752.2,1421.7 1755,1421.3 1756.7,1418.8 1759.4,1418.2 1761.8,1416.9 1764.5,1415.5 1767.9,1415.9 1770.6,1414"/><polygon points="1774.6,1414.2 1773.3,1416.8 1770.7,1418 1769.6,1420.8 1766.7,1421.9 1764,1422.9 1761.6,1424.2 1759.1,1425.6 1757.3,1427.7 1756.3,1430 1755.2,1432.2 1753.4,1433.9 1750.9,1434.8 1748.9,1436.6 1746.2,1437 1744,1438.4 1742.4,1440.9 1740.1,1442 1737.4,1442.7 1734.9,1443.3 1733.1,1444.9 1731.2,1446.5 1730.3,1449.1 1727.6,1450.4 1726,1452.6 1724.5,1455 1721.3,1455.6 1719.8,1457.6 1718.4,1460 1716.8,1462 1715.9,1464.1 1716.3,1467.5 1719.3,1467 1722,1467.4 1724.6,1468.4 1727.1,1469.5 1729.9,1470.6 1732.6,1472.4 1735.3,1472.1 1737.5,1474.6 1737.4,1478 1740.7,1479.9 1741.4,1483.7 1744.3,1484.6 1744.7,1488.1 1747.3,1489.3 1749.2,1491.7 1752.2,1491.2 1754.6,1492.1 1757.1,1493.2 1758.9,1498.1 1761.5,1498.3 1764.1,1497.8 1766.6,1497.4 1769.3,1497.8 1772,1496.1 1774.6,1498.5 1777,1497 1777.8,1494.4 1777.7,1491.7 1778.9,1489.2 1779,1486.4 1779.8,1484 1780.5,1481.6 1781.6,1479.3 1781.7,1476.9 1780.7,1474.6 1779.8,1472.2 1780.2,1469.6 1781.4,1466.9 1778.2,1465 1779.4,1462.3 1779.1,1459.8 1779.3,1457.3 1776.6,1455.3 1777.3,1452.6 1775.5,1450.5 1776,1447.8 1777.5,1445.2 1774.2,1443.2 1776.7,1440.4 1775.3,1438.1 1775.8,1435.6 1774,1433.2 1776.2,1431.2 1774.5,1428.3 1775.5,1426 1776.5,1423.7 1777.3,1420.3 1776.9,1417.2"/><polygon points="1781.6,1404.3 1782.1,1406.7 1782.5,1409.1 1782.3,1411.6 1781.8,1414.1 1781.6,1416.6 1783.3,1418.8 1784,1421.2 1783.4,1423.7 1783.9,1426.1 1783.3,1428.6 1785.6,1430.8 1785,1433.3 1786,1435.8 1783.8,1438.1 1783.7,1440.5 1785.7,1443.1 1783.3,1445.3 1784.2,1447.8 1785.1,1450.1 1783.3,1452.8 1784.1,1455.2 1784.9,1457.5 1785.6,1459.9 1786.5,1462.2 1785.1,1464.9 1785.5,1467.3 1787.4,1469.5 1788.7,1471.8 1787.6,1474.4 1788.1,1476.8 1788.4,1479.3 1787.8,1481.9 1787.7,1484.4 1789.4,1486.8 1789.4,1489.3 1790.1,1491.7 1790.3,1494.3 1790.9,1496.8 1790.7,1499.4 1790.8,1501.7 1793,1500.1 1795.2,1501 1796.7,1498.4 1796.3,1496 1793.9,1493.8 1794.3,1491.1 1796.4,1489.2 1796.3,1486.1 1797.6,1483.7 1799.6,1481.3 1802.2,1483.3 1804.9,1483.7 1806.2,1486.1 1808.5,1488.2 1808.8,1491.3 1807.6,1494.2 1808.2,1497.4 1810.5,1496 1812.9,1496.1 1812.9,1493.3 1815.1,1491.2 1813.6,1488.8 1812.6,1486.1 1811.8,1483.3 1809.3,1481.8 1812.7,1480.7 1814.6,1478 1814.3,1474.6 1811.7,1472.6 1809.7,1470.3 1808.5,1467.5 1806.9,1464.9 1805.1,1462.4 1803.9,1460 1803.3,1457.3 1801.9,1454.9 1800.7,1452.5 1799.7,1450 1797.2,1448.2 1796.7,1445.5 1795.7,1442.9 1794.9,1440.5 1792.9,1438.5 1791.8,1436.1 1791.7,1433.3 1790.4,1431.1 1790.3,1428.5 1790.7,1425.7 1789.3,1423.5 1787.7,1421.4 1786,1419.2 1787.7,1416.1 1786.4,1413.8 1784.3,1411.8 1783,1409.4 1781.3,1407.3"/><polygon points="1785.9,1406.3 1787.6,1408.3 1789.5,1410.2 1790.3,1412.9 1790.9,1415.6 1793.2,1417.2 1796.4,1418.3 1797.6,1420.8 1799.8,1422.6 1800.1,1425.8 1802.9,1427.4 1802.6,1430.6 1804.4,1432.7 1805.5,1435.1 1807.7,1436.5 1808.7,1438.9 1809.9,1441.1 1811.5,1442.9 1813.2,1444.7 1814.3,1447.5 1817.8,1447.8 1818.7,1450.8 1821.1,1452.5 1821,1455.3 1823.3,1457.2 1824.6,1459.5 1824.6,1462.4 1827.5,1464.2 1829.6,1467.2 1827.8,1469.1 1828.8,1472.2 1826.6,1473.8 1823.4,1473.8 1821,1472.1 1819,1469.8 1817.2,1467.8 1815.1,1466 1812.7,1464.4 1812.1,1461.5 1810.5,1459.2 1808.7,1457.1 1807,1454.9 1805.2,1452.7 1805.8,1450 1804.9,1447.7 1802.6,1445.6 1802.9,1443.1 1803,1440.5 1803.2,1437.9 1802.2,1435.6 1801.2,1433.4 1799.3,1431.5 1798.6,1429.1 1796.2,1427.8 1796.2,1424.8 1793.4,1423.8 1791.8,1421.5 1789.7,1419.5 1789.1,1416.6 1788.3,1413.9 1786.1,1411.7 1787,1408.7"/><polygon points="1791.9,1406.1 1793.6,1408.6 1796.1,1410.1 1798.5,1411.8 1800.5,1413.5 1802.9,1412.6 1805.3,1412.7 1807.7,1415.5 1809.9,1414.1 1812.5,1415.8 1811.5,1419.3 1812.9,1421.7 1815.3,1423.3 1817.6,1424.9 1818.5,1427.8 1820.4,1429.8 1822.8,1431.3 1824.8,1433 1827,1434.4 1828.3,1436.7 1829.7,1438.8 1831.2,1441.6 1833.5,1443.5 1836.3,1444.8 1838.5,1446.7 1840,1449.3 1843.1,1450.2 1844.9,1452.4 1846.5,1454.2 1844.6,1456.8 1842.3,1458 1840.4,1456.6 1837.7,1456.1 1836.5,1453.7 1834.1,1452.9 1831,1451.2 1828.6,1448.7 1826,1447.2 1825.9,1444.2 1825.1,1441.6 1823.5,1439.2 1821.4,1437.1 1819.1,1435.2 1817,1433.2 1815.4,1431.2 1814.5,1428.6 1812.2,1427.2 1810.2,1425.5 1809.5,1422.7 1807.3,1421.3 1804.3,1420.5 1803.6,1417.5 1801.7,1415.6 1798.9,1415.1 1796.4,1414.2 1794.4,1412.2 1794.2,1408.7"/><polygon points="1795.6,1403.8 1798.1,1402.4 1800.5,1403.3 1802.9,1403 1805.3,1403.8 1807.8,1403.2 1810.2,1404.3 1812.8,1404.5 1813.8,1407.5 1815.9,1408.8 1818.3,1409.4 1820.6,1410.3 1822.2,1412.4 1824.5,1413.5 1827.4,1412.2 1829.8,1413.1 1832.4,1413.4 1834.5,1415.5 1837.4,1414.3 1839.8,1415.3 1842.2,1416.5 1844.5,1417.5 1846.6,1418.9 1848.4,1421.1 1851.7,1419.7 1853.6,1422.1 1856.2,1422.2 1858.7,1423.4 1861.5,1422.6 1864,1423.5 1866.7,1422.9 1869.4,1423 1872.1,1423.7 1870.7,1425.9 1869.1,1428.1 1870.6,1431.1 1868.7,1432.9 1866.8,1435.2 1864,1436.5 1861.9,1439.1 1863.4,1441.9 1860.4,1444.1 1861.4,1446.8 1859.1,1445 1856,1446.3 1853.8,1444.7 1851.6,1443.6 1849.6,1442.2 1847.9,1440.5 1845.6,1439.4 1844.2,1436.5 1842.2,1434.3 1839.1,1433.3 1836.6,1431.3 1833.6,1429.9 1832.6,1426.2 1830.9,1424.4 1829,1422.9 1825.8,1423.3 1824.5,1420.9 1823,1418.8 1821.1,1417.2 1819.5,1415.2 1816,1415.7 1814.9,1413.2 1812,1413.4 1810.6,1410 1807.8,1409.8 1805.1,1409.7 1803,1407.4 1799.7,1408.4 1797.4,1406.4"/></clipPath></defs>
<polygon points="1780.8,1386.3 1779.8,1382.8 1775.9,1382.2 1774.6,1379 1773.2,1376.5 1771,1374.8 1768.1,1373.8 1766.5,1371.6 1765.7,1369.1 1764.9,1366.8 1762.7,1365.4 1760.9,1363.7 1759.1,1362 1757.7,1360 1757,1357.5 1754.9,1356.1 1753.7,1354 1752.2,1352 1750.3,1350 1747.1,1349.6 1745.4,1347.4 1744.3,1344.5 1741.9,1343 1740.4,1340.6 1737.2,1339.9 1735.4,1338.2 1734.4,1335.7 1733.4,1333.3 1730.5,1332.4 1730.2,1329.4 1727.9,1328.1 1725.8,1326.3 1725.3,1323.3 1721.9,1322.7 1722,1319 1719.3,1317.6 1721.7,1317.2 1724.1,1317 1726.7,1316.9 1729.4,1317.7 1731.5,1316.3 1733,1313.9 1733.6,1311.3 1734.2,1308.6 1734.7,1305.9 1736.7,1304.1 1739,1303.1 1741.5,1302.8 1744,1302.7 1745.9,1301.8 1747.6,1299.1 1748.2,1296.2 1747.3,1292.9 1750.2,1294.1 1753.1,1293.8 1756,1292.6 1758.7,1293 1760.4,1290.4 1763.3,1289.4 1765.7,1287.8 1768.6,1288 1771.5,1288.1 1774.3,1288.4 1775.8,1290.8 1775.8,1293.4 1775.4,1296.2 1778.2,1295 1780.8,1294 1782.2,1291.2 1785.6,1289.8 1786.2,1286.7 1788.2,1285.2 1789.1,1282.6 1791,1281 1793.4,1279.9 1794.6,1277.8 1797.4,1279.6 1801,1280.8 1799.2,1283.4 1800,1286.6 1798.7,1289.4 1797.2,1291.7 1794.9,1293.6 1795.2,1296.7 1793.5,1298.9 1793.8,1301.6 1790.9,1303.2 1792.1,1306.2 1790.5,1308.2 1789.6,1310.6 1789.1,1313 1789.7,1315.6 1789,1318 1790.7,1320.6 1787.7,1322.9 1788.8,1325.5 1788.8,1328 1789.1,1330.5 1788,1332.8 1787,1335.1 1787.2,1337.7 1787.6,1340.3 1786.2,1342.3 1787,1345.6 1790.2,1347.4 1789.3,1349.7 1788.2,1352 1789.2,1354.7 1787.5,1356.9 1787.5,1359.4 1785.6,1361.5 1787.3,1364.4 1786.2,1366.7 1785.9,1369.1 1785.3,1371.5 1784.8,1374 1784.4,1376.5 1784.2,1379.1 1782.4,1381.4 1783.2,1384.2" fill="#2A2024"/>
<polygon points="1782.6,1385.7 1784.8,1383.9 1785.1,1381.1 1785,1378.1 1788.1,1376.6 1789.1,1374.2 1790,1371.7 1791.6,1369.4 1791.5,1366.6 1793.2,1364.4 1792.3,1361.7 1794.3,1359.6 1795.2,1357.3 1794.3,1354.6 1794.4,1352.1 1795.8,1349.9 1795.9,1347.3 1795.5,1344.9 1794.1,1342.6 1794.7,1340.1 1795.5,1337.6 1793.4,1335.3 1794.6,1332.8 1796.4,1330.8 1796.4,1328.3 1795.6,1325.6 1795.8,1323.2 1797.6,1321.1 1798.3,1318.8 1798.3,1316.3 1799.1,1313.7 1800.9,1311.3 1800.4,1308.5 1800.5,1305.8 1801,1302.5 1803.6,1300.6 1804.8,1297.8 1807.9,1295.7 1807.9,1292.2 1809.1,1289.4 1812,1290.3 1815.4,1290 1815.3,1292.9 1816.8,1294.9 1819.7,1296.2 1819.4,1299.3 1820.6,1301.8 1822,1304.2 1825.8,1304.8 1826.1,1307.6 1825.1,1310.4 1826,1313.6 1825.1,1316.6 1822.9,1318.7 1823.2,1322.1 1820.7,1324.1 1818.7,1325.9 1818.4,1328.8 1817.3,1331.1 1815.8,1333.3 1815.3,1336 1813.5,1337.9 1811.6,1340 1809.6,1342 1807.9,1344.2 1808.9,1347.9 1807.1,1350 1804.9,1352 1805.1,1354.8 1802.9,1356.7 1801.6,1359 1801,1361.5 1800.9,1364.1 1800.2,1366.5 1798,1367.9 1798.1,1371.2 1796,1372.7 1793.5,1373.9 1792.5,1376.3 1790.5,1378.1 1788.3,1380 1787.8,1382.8 1786.9,1385.4 1786.1,1387.7" fill="#2A2024"/>
<polygon points="1786.4,1389.2 1786.5,1386 1788,1383.8 1791.3,1383 1793,1381 1793.8,1378.3 1795,1376.2 1796,1373.9 1799.2,1373.3 1800,1370.9 1802.1,1369.4 1802.8,1366.9 1804.7,1365.3 1805,1362.7 1806.7,1360.7 1805.7,1357.7 1807.1,1355.6 1808.2,1353.4 1809.2,1351.2 1811.3,1349.3 1811.1,1346.7 1810.4,1343.8 1813.1,1342.2 1813.3,1339.8 1815.4,1337.8 1817.2,1335.7 1818.4,1333.1 1819.3,1330.3 1820.9,1328.1 1821.9,1325.5 1824.4,1324.8 1826.4,1323.4 1828.9,1322.8 1830.9,1320.5 1832.5,1322.7 1833.7,1325.2 1834.5,1327.7 1836.9,1329.5 1838.7,1332.5 1842.1,1332.6 1845,1332.1 1847.7,1332.6 1850,1335.3 1852.9,1334.8 1855,1335.9 1857.2,1338.4 1857.2,1341 1855.3,1343.4 1851.9,1343.2 1849.6,1344.7 1847.9,1347.4 1847,1350 1844.2,1350.7 1842.6,1352.6 1840.7,1354.3 1840.1,1357.1 1836.9,1357.5 1836.3,1360.3 1834.4,1362 1833.3,1364.6 1831.4,1366.7 1828.6,1367.7 1827.3,1370.3 1825,1371.9 1822.2,1372.9 1820.6,1375.1 1818.6,1376.7 1816.7,1378.5 1813.9,1378.7 1812.1,1380.6 1809,1380.3 1807.1,1382.1 1805.1,1383.6 1803.3,1385.6 1800.5,1385.2 1798.6,1387.1 1796.6,1388.6 1794.5,1389.9 1791.8,1389.8 1788.9,1388.9" fill="#2A2024"/>
<polygon points="1788.8,1390 1790.8,1388.3 1793.6,1388.9 1795.9,1387.9 1798.5,1387.6 1801,1387.2 1802.6,1384.4 1805.6,1385 1807.2,1382.8 1810.1,1382.8 1811.5,1380.3 1814.5,1380.5 1816.1,1378.3 1818.6,1377.5 1821.1,1376.6 1823.2,1375.2 1825.1,1373.5 1827.4,1372.2 1828.3,1369.3 1829.9,1367.3 1833,1366.9 1834.4,1364.7 1836,1362.6 1839.1,1361.6 1840.7,1359.4 1842.3,1357.1 1843.3,1354.4 1845.9,1353 1846.8,1350.1 1848.6,1348.1 1851.5,1347.6 1853.3,1345.6 1855.7,1344.5 1857.7,1342 1860,1343.5 1862.6,1344.2 1865.5,1344.1 1867.2,1347.3 1870.1,1347.3 1870.6,1350.7 1870.9,1354 1868.8,1355.5 1867.9,1358.3 1865.8,1359.8 1863.6,1360.4 1865.5,1362.9 1868.7,1363.4 1870.2,1366.4 1872.6,1367.7 1873.5,1370.8 1874.2,1374 1876.8,1376.3 1878.3,1378.9 1879.8,1381.6 1881.5,1384.1 1882.5,1387.4 1883.8,1390.7 1884.4,1393.5 1882.1,1394.5 1880.9,1397 1879.5,1399 1876.7,1399.5 1877.6,1402.4 1877.3,1405.3 1876.5,1407.9 1874.3,1409.2 1872,1410.5 1870.8,1413.1 1869.2,1414.7 1866.5,1414.5 1864.8,1412.4 1862.5,1411.5 1859.8,1411.3 1858.2,1409.1 1856,1408 1853.7,1407.6 1851,1406.9 1848.9,1408.8 1846.1,1407.5 1843.7,1409.3 1843.3,1406.2 1841.3,1404.2 1839,1402.6 1836.3,1402.2 1834.3,1400.1 1831.7,1399.4 1829.6,1397.6 1827,1396.8 1824.7,1396.2 1822.3,1396.5 1819.8,1396 1817.3,1395.8 1814.9,1396.9 1812.2,1396.1 1809.4,1396.9 1806.8,1394.9 1804,1394.9 1801.2,1395.6 1798.5,1395.1 1796,1393.2 1793.4,1395.6 1790.9,1394.6" fill="#2A2024"/>
<polygon points="1776,1392.1 1773.9,1390.7 1771.8,1389.4 1771.2,1386.3 1768.6,1385.5 1766.3,1384.4 1763.8,1383.6 1763,1380.7 1760.4,1380 1759.4,1377.2 1757.1,1376.2 1755.4,1374 1752.4,1373.1 1750.6,1371.1 1749.9,1368 1747.8,1366.3 1745.6,1364.8 1744,1362.8 1742.5,1360.9 1740,1359.7 1738.5,1357.6 1737.3,1355.4 1735,1354.4 1733.5,1352.3 1731.2,1351.2 1730.8,1347.8 1728.2,1347 1726.9,1344.6 1723.2,1345.2 1722.8,1341.8 1720.8,1340.3 1718.7,1338.8 1716.1,1338.1 1715,1335 1712.8,1333.5 1710.1,1333 1707.5,1331.7 1706.8,1334.9 1703.6,1336.5 1703.1,1339.1 1705.3,1341.2 1707.5,1343.2 1710.7,1343.3 1712.6,1345.1 1714.1,1347.3 1717.4,1347.6 1718.9,1349.7 1720.1,1352.4 1722.1,1354.9 1726,1354.4 1728.3,1356.7 1730.9,1357.9 1731.3,1361.4 1732.8,1363.8 1736.7,1363.7 1737.4,1366.9 1739.5,1368.7 1742.1,1369.9 1743.1,1372.8 1745.4,1374.3 1747.5,1376 1749.8,1377.4 1751.7,1379.2 1753.9,1380.6 1755.3,1383 1756.8,1385.2 1759.7,1385.6 1760.9,1388.1 1762,1390.7 1764.8,1391 1766.6,1392.3 1769.1,1393.3 1771.6,1393.3 1773.8,1390.8" fill="#2A2024"/>
<polygon points="1771.6,1393.4 1769.6,1391.4 1766.9,1390.5 1764.8,1388.7 1762.2,1387.9 1759.7,1386.7 1756.8,1386.4 1755.1,1383.7 1752.6,1382.6 1749.5,1382.7 1747.3,1381.1 1745.6,1379.2 1742.7,1379.1 1740.8,1377.4 1738.5,1376.3 1737.6,1373.3 1734.6,1373.3 1732.5,1371.8 1731.9,1368.8 1729.9,1367.1 1726.9,1366.3 1724.7,1364.7 1724.1,1361.9 1722.4,1359.7 1719.2,1360.4 1717.3,1358.5 1714.4,1358.6 1712.7,1356.6 1710.6,1355 1708.2,1353.5 1705.2,1354.3 1703,1352.8 1700.9,1354 1699.2,1356.1 1696,1355.2 1694,1356.7 1692.4,1359.6 1689.4,1360.3 1690.6,1362.7 1692.6,1364.1 1695,1364.9 1697.7,1366 1699.6,1368 1700.9,1370.5 1703.3,1371.4 1705.8,1371 1708.1,1372.2 1710.6,1372 1713.4,1370.4 1715.9,1373.2 1718.7,1372.1 1721.4,1372.5 1724.1,1372.5 1726.4,1374.3 1729.2,1375.1 1731.8,1376.3 1733.4,1378.6 1736.1,1379.8 1737.8,1381.9 1740.6,1382.3 1741.6,1386 1744.5,1386.3 1746.5,1388.2 1749.2,1389.1 1751.5,1390.6 1754.6,1390.4 1756.2,1393.5 1759.6,1392.8 1761.9,1395.1 1764.3,1395.4 1766.8,1395.5 1769.2,1395.3" fill="#2A2024"/>
<polygon points="1676.9,1393.9 1679.5,1393.6 1680.6,1390.6 1683.2,1390.4 1685.7,1389.8 1687.4,1387.8 1689.6,1386.6 1692.3,1387.1 1694.7,1386 1696.8,1384.4 1699.3,1384.1 1702,1383.9 1703.4,1386.4 1706.7,1385.6 1708.8,1387 1710.5,1389.2 1713.5,1389.2 1716.3,1389.9 1718.4,1392.6 1721.2,1393.3 1724.1,1394 1726.8,1392.6 1729.5,1393.3 1732.2,1392.5 1734.9,1393.8 1737.6,1393.4 1740.1,1393.4 1742.3,1391.8 1744.7,1391.1 1747.1,1390.9 1750,1392.6 1752.2,1390.5 1754.7,1390.3 1757,1391.1 1759.6,1390.5 1761.7,1392.9 1764.4,1391.4 1766.1,1392.7 1766.9,1395.3 1767.9,1397.9 1766.7,1400.8 1763.8,1401.5 1761,1402.3 1757.7,1400.7 1755,1402.1 1752.3,1402.8 1749.6,1403.1 1746.8,1402.6 1744.2,1403.7 1741.3,1404.2 1741.4,1407.1 1738.4,1408.7 1739.3,1411.8 1737.4,1413.6 1735,1414.5 1733.3,1417.1 1731.9,1413.2 1730.1,1414.7 1728.7,1416.9 1725.9,1417.2 1724.1,1418.8 1721.6,1420.2 1721,1423.5 1719.3,1425.6 1716.5,1426.7 1715.2,1428.8 1713.4,1430.5 1711.5,1432.1 1709.3,1433.6 1709,1436.6 1707,1439.1 1703.2,1439.8 1701.9,1442.6 1699.4,1442.8 1696.9,1442 1694.8,1445 1692.3,1443.9 1690,1441.4 1689.1,1437.9 1691,1436.2 1693.8,1435.5 1694.5,1432.3 1697,1431.5 1694.3,1431.8 1692.4,1430 1689.8,1429.9 1688.1,1427.5 1685.6,1427.4 1683,1426.1 1682.2,1423 1679.8,1422.1 1682.7,1420.7 1686,1420.4 1688.3,1418 1685.6,1416.2 1682.6,1415.1 1679.7,1414 1679.4,1410.8 1677.4,1408 1678.8,1405.8 1679.5,1403.2 1681.6,1401.4 1679.3,1399.3 1678.7,1396.1" fill="#2A2024"/>
<polygon points="1771.4,1410.6 1769.2,1412.3 1766.9,1413.4 1763.9,1411.1 1762,1414.2 1759.2,1412.8 1756.7,1413.6 1754.8,1415.8 1752,1416.6 1750.1,1418.8 1748,1420.6 1745.3,1421.7 1743.1,1423.1 1740.9,1424.7 1738.6,1426.1 1737,1428.5 1733.3,1427.7 1731.9,1430.6 1729.4,1431.3 1726.7,1431.5 1725.7,1435 1722.8,1434.9 1720.9,1436.8 1718.2,1436.9 1715.1,1437.1 1712.2,1438 1709.7,1440.2 1707.5,1442.5 1704.2,1442.9 1701.5,1444.8 1699.7,1447.4 1699.8,1450.9 1702.6,1451.8 1702.3,1455.5 1704.4,1457.1 1707,1459 1708.7,1456.8 1711,1456 1713.2,1455.2 1715,1452.6 1718.3,1451.3 1720.3,1448.8 1721.7,1446.1 1724.5,1444.8 1725.7,1442 1727.7,1439.7 1730.1,1438.6 1732.3,1437.4 1733.5,1434.9 1735.1,1432.9 1738.4,1432.9 1739.6,1430.4 1741.9,1429.3 1743.9,1427.7 1746.4,1426.8 1748.3,1425.1 1750.8,1424.3 1752.2,1421.7 1755,1421.3 1756.7,1418.8 1759.4,1418.2 1761.8,1416.9 1764.5,1415.5 1767.9,1415.9 1770.6,1414" fill="#2A2024"/>
<polygon points="1774.6,1414.2 1773.3,1416.8 1770.7,1418 1769.6,1420.8 1766.7,1421.9 1764,1422.9 1761.6,1424.2 1759.1,1425.6 1757.3,1427.7 1756.3,1430 1755.2,1432.2 1753.4,1433.9 1750.9,1434.8 1748.9,1436.6 1746.2,1437 1744,1438.4 1742.4,1440.9 1740.1,1442 1737.4,1442.7 1734.9,1443.3 1733.1,1444.9 1731.2,1446.5 1730.3,1449.1 1727.6,1450.4 1726,1452.6 1724.5,1455 1721.3,1455.6 1719.8,1457.6 1718.4,1460 1716.8,1462 1715.9,1464.1 1716.3,1467.5 1719.3,1467 1722,1467.4 1724.6,1468.4 1727.1,1469.5 1729.9,1470.6 1732.6,1472.4 1735.3,1472.1 1737.5,1474.6 1737.4,1478 1740.7,1479.9 1741.4,1483.7 1744.3,1484.6 1744.7,1488.1 1747.3,1489.3 1749.2,1491.7 1752.2,1491.2 1754.6,1492.1 1757.1,1493.2 1758.9,1498.1 1761.5,1498.3 1764.1,1497.8 1766.6,1497.4 1769.3,1497.8 1772,1496.1 1774.6,1498.5 1777,1497 1777.8,1494.4 1777.7,1491.7 1778.9,1489.2 1779,1486.4 1779.8,1484 1780.5,1481.6 1781.6,1479.3 1781.7,1476.9 1780.7,1474.6 1779.8,1472.2 1780.2,1469.6 1781.4,1466.9 1778.2,1465 1779.4,1462.3 1779.1,1459.8 1779.3,1457.3 1776.6,1455.3 1777.3,1452.6 1775.5,1450.5 1776,1447.8 1777.5,1445.2 1774.2,1443.2 1776.7,1440.4 1775.3,1438.1 1775.8,1435.6 1774,1433.2 1776.2,1431.2 1774.5,1428.3 1775.5,1426 1776.5,1423.7 1777.3,1420.3 1776.9,1417.2" fill="#2A2024"/>
<polygon points="1781.6,1404.3 1782.1,1406.7 1782.5,1409.1 1782.3,1411.6 1781.8,1414.1 1781.6,1416.6 1783.3,1418.8 1784,1421.2 1783.4,1423.7 1783.9,1426.1 1783.3,1428.6 1785.6,1430.8 1785,1433.3 1786,1435.8 1783.8,1438.1 1783.7,1440.5 1785.7,1443.1 1783.3,1445.3 1784.2,1447.8 1785.1,1450.1 1783.3,1452.8 1784.1,1455.2 1784.9,1457.5 1785.6,1459.9 1786.5,1462.2 1785.1,1464.9 1785.5,1467.3 1787.4,1469.5 1788.7,1471.8 1787.6,1474.4 1788.1,1476.8 1788.4,1479.3 1787.8,1481.9 1787.7,1484.4 1789.4,1486.8 1789.4,1489.3 1790.1,1491.7 1790.3,1494.3 1790.9,1496.8 1790.7,1499.4 1790.8,1501.7 1793,1500.1 1795.2,1501 1796.7,1498.4 1796.3,1496 1793.9,1493.8 1794.3,1491.1 1796.4,1489.2 1796.3,1486.1 1797.6,1483.7 1799.6,1481.3 1802.2,1483.3 1804.9,1483.7 1806.2,1486.1 1808.5,1488.2 1808.8,1491.3 1807.6,1494.2 1808.2,1497.4 1810.5,1496 1812.9,1496.1 1812.9,1493.3 1815.1,1491.2 1813.6,1488.8 1812.6,1486.1 1811.8,1483.3 1809.3,1481.8 1812.7,1480.7 1814.6,1478 1814.3,1474.6 1811.7,1472.6 1809.7,1470.3 1808.5,1467.5 1806.9,1464.9 1805.1,1462.4 1803.9,1460 1803.3,1457.3 1801.9,1454.9 1800.7,1452.5 1799.7,1450 1797.2,1448.2 1796.7,1445.5 1795.7,1442.9 1794.9,1440.5 1792.9,1438.5 1791.8,1436.1 1791.7,1433.3 1790.4,1431.1 1790.3,1428.5 1790.7,1425.7 1789.3,1423.5 1787.7,1421.4 1786,1419.2 1787.7,1416.1 1786.4,1413.8 1784.3,1411.8 1783,1409.4 1781.3,1407.3" fill="#2A2024"/>
<polygon points="1785.9,1406.3 1787.6,1408.3 1789.5,1410.2 1790.3,1412.9 1790.9,1415.6 1793.2,1417.2 1796.4,1418.3 1797.6,1420.8 1799.8,1422.6 1800.1,1425.8 1802.9,1427.4 1802.6,1430.6 1804.4,1432.7 1805.5,1435.1 1807.7,1436.5 1808.7,1438.9 1809.9,1441.1 1811.5,1442.9 1813.2,1444.7 1814.3,1447.5 1817.8,1447.8 1818.7,1450.8 1821.1,1452.5 1821,1455.3 1823.3,1457.2 1824.6,1459.5 1824.6,1462.4 1827.5,1464.2 1829.6,1467.2 1827.8,1469.1 1828.8,1472.2 1826.6,1473.8 1823.4,1473.8 1821,1472.1 1819,1469.8 1817.2,1467.8 1815.1,1466 1812.7,1464.4 1812.1,1461.5 1810.5,1459.2 1808.7,1457.1 1807,1454.9 1805.2,1452.7 1805.8,1450 1804.9,1447.7 1802.6,1445.6 1802.9,1443.1 1803,1440.5 1803.2,1437.9 1802.2,1435.6 1801.2,1433.4 1799.3,1431.5 1798.6,1429.1 1796.2,1427.8 1796.2,1424.8 1793.4,1423.8 1791.8,1421.5 1789.7,1419.5 1789.1,1416.6 1788.3,1413.9 1786.1,1411.7 1787,1408.7" fill="#2A2024"/>
<polygon points="1791.9,1406.1 1793.6,1408.6 1796.1,1410.1 1798.5,1411.8 1800.5,1413.5 1802.9,1412.6 1805.3,1412.7 1807.7,1415.5 1809.9,1414.1 1812.5,1415.8 1811.5,1419.3 1812.9,1421.7 1815.3,1423.3 1817.6,1424.9 1818.5,1427.8 1820.4,1429.8 1822.8,1431.3 1824.8,1433 1827,1434.4 1828.3,1436.7 1829.7,1438.8 1831.2,1441.6 1833.5,1443.5 1836.3,1444.8 1838.5,1446.7 1840,1449.3 1843.1,1450.2 1844.9,1452.4 1846.5,1454.2 1844.6,1456.8 1842.3,1458 1840.4,1456.6 1837.7,1456.1 1836.5,1453.7 1834.1,1452.9 1831,1451.2 1828.6,1448.7 1826,1447.2 1825.9,1444.2 1825.1,1441.6 1823.5,1439.2 1821.4,1437.1 1819.1,1435.2 1817,1433.2 1815.4,1431.2 1814.5,1428.6 1812.2,1427.2 1810.2,1425.5 1809.5,1422.7 1807.3,1421.3 1804.3,1420.5 1803.6,1417.5 1801.7,1415.6 1798.9,1415.1 1796.4,1414.2 1794.4,1412.2 1794.2,1408.7" fill="#2A2024"/>
<polygon points="1795.6,1403.8 1798.1,1402.4 1800.5,1403.3 1802.9,1403 1805.3,1403.8 1807.8,1403.2 1810.2,1404.3 1812.8,1404.5 1813.8,1407.5 1815.9,1408.8 1818.3,1409.4 1820.6,1410.3 1822.2,1412.4 1824.5,1413.5 1827.4,1412.2 1829.8,1413.1 1832.4,1413.4 1834.5,1415.5 1837.4,1414.3 1839.8,1415.3 1842.2,1416.5 1844.5,1417.5 1846.6,1418.9 1848.4,1421.1 1851.7,1419.7 1853.6,1422.1 1856.2,1422.2 1858.7,1423.4 1861.5,1422.6 1864,1423.5 1866.7,1422.9 1869.4,1423 1872.1,1423.7 1870.7,1425.9 1869.1,1428.1 1870.6,1431.1 1868.7,1432.9 1866.8,1435.2 1864,1436.5 1861.9,1439.1 1863.4,1441.9 1860.4,1444.1 1861.4,1446.8 1859.1,1445 1856,1446.3 1853.8,1444.7 1851.6,1443.6 1849.6,1442.2 1847.9,1440.5 1845.6,1439.4 1844.2,1436.5 1842.2,1434.3 1839.1,1433.3 1836.6,1431.3 1833.6,1429.9 1832.6,1426.2 1830.9,1424.4 1829,1422.9 1825.8,1423.3 1824.5,1420.9 1823,1418.8 1821.1,1417.2 1819.5,1415.2 1816,1415.7 1814.9,1413.2 1812,1413.4 1810.6,1410 1807.8,1409.8 1805.1,1409.7 1803,1407.4 1799.7,1408.4 1797.4,1406.4" fill="#2A2024"/>
<polygon points="1796.7,1395.6 1792.2,1397.9 1792.4,1400.4 1794.5,1404.5 1789.5,1404.3 1788.6,1406.9 1786,1407.5 1784.3,1409.7 1782.1,1411.9 1779.2,1409.4 1776.4,1411.3 1773.4,1411.5 1772.1,1407.8 1769.1,1407.6 1765,1407.6 1764.7,1404 1761.8,1402 1762.3,1398.6 1761.4,1395.6 1765.2,1393.2 1763.6,1389.9 1764.3,1387 1765.6,1384.2 1767.8,1382 1771.9,1383 1774.1,1381.5 1776.1,1378.2 1779.2,1381.7 1781.5,1382.3 1784.4,1381.5 1787.5,1381.2 1790.7,1381.9 1790.1,1386.5 1792.1,1388.2 1793.7,1390.3 1797.7,1392.4" fill="#241A1D"/>
<g clip-path="url(#cf5)">
<path d="M1780.7 1433.2L1776.8 1460.3M1783.9 1435.3L1793.9 1499M1826.6 1385.9L1867.4 1380.4M1752.7 1379.7L1685.5 1342.3M1833 1390.1L1852.1 1383.9M1727.4 1402.9L1702 1404.3M1745 1433.4L1703.8 1469M1796.5 1442.2L1802.5 1478.2M1723.6 1406.2L1672.3 1407.4M1803.3 1349L1815.4 1309.9M1814.9 1392.5L1834.4 1390M1759 1407.6L1693.9 1457.5M1812 1373.1L1833.5 1355.5M1760.6 1401.6L1691.2 1420.5M1831.9 1389.7L1879.4 1396.4M1819.5 1377.3L1858.8 1359.9M1801.7 1342.7L1826.8 1304.7M1812.5 1401.4L1835.5 1406.6M1743.8 1376.2L1687.6 1352.8M1773.7 1354.4L1777.9 1325.1M1813 1407.5L1857.1 1424.9M1818.9 1391.1L1880.3 1379.1M1758.4 1398.1L1696.6 1406.9M1783.4 1376.8L1802 1328.9M1824.1 1398.8L1872.2 1407.3M1744.1 1382.4L1678.3 1363.5M1766.2 1352.1L1751.2 1303.7M1829.4 1400.9L1858.1 1409.4M1829.5 1391.5L1864.1 1396M1757.3 1414.7L1715.3 1447.3M1763.5 1358.9L1752.6 1321.4M1760 1433.6L1756.4 1452.8M1795.4 1377.8L1820.4 1339.3M1782 1366.3L1781.3 1344.5M1824.1 1374.7L1844 1373.6M1812.2 1411.8L1851.6 1437.3M1812.5 1436.6L1826.9 1461.8M1816.6 1377.1L1834.6 1370.9M1734.8 1414.7L1692.2 1443.3M1738.9 1377.3L1685.1 1349.8M1741.6 1362.5L1727.3 1341.3M1740.9 1374.2L1718.5 1361.3M1759.3 1408.4L1687.1 1444.3M1762.2 1400.1L1678.8 1432.2M1738.7 1393.9L1678.6 1387.5M1748.9 1372.5L1699.4 1324.5M1747.4 1436L1713.8 1479.1M1794 1404.3L1873.7 1442.8M1786.9 1373.9L1793.7 1340.8M1786.5 1378.8L1812.1 1333.2M1765 1393.2L1745.8 1387.1M1773.6 1412.7L1751.4 1464.4M1772.6 1414.8L1762.5 1444.8M1782.5 1378L1800 1307.1M1749.3 1384.3L1730 1376.9M1740.2 1419.8L1725 1435.7M1815.8 1399.9L1837.5 1403M1751.9 1407L1722.1 1413M1760.5 1397.9L1701.1 1400.3M1723.5 1399.8L1676.6 1398.8M1811.7 1401L1859.4 1402.5M1733.8 1395.7L1682.2 1389.6M1778.8 1367.5L1777.9 1311.3M1780.2 1375.9L1784.5 1345.2M1775.2 1371.2L1770.2 1303M1757.6 1367.2L1741.5 1352.1M1784.8 1338.1L1778.1 1313.9M1745.2 1442.9L1723.5 1458.1M1790.6 1343.4L1806.5 1291.5M1790.3 1428.2L1800.5 1467.5M1749.9 1434.2L1741.5 1452.7M1783.1 1417.3L1787 1486.5M1809.4 1416L1827.1 1423.9M1807.8 1432.3L1834.6 1480.1M1774 1428.5L1766.6 1459.4M1785.8 1445.2L1789.7 1482.2M1819 1354.2L1841.2 1337.8M1777.1 1410L1772.5 1492.2M1769.9 1442.5L1762 1496M1772.3 1363.7L1768.7 1344.2M1790.3 1416.7L1809.4 1458M1783.8 1419.5L1798.5 1473.4M1736.8 1378.6L1710 1359.9M1794.7 1392.4L1816.9 1384M1751.1 1397.1L1687.7 1389.9M1753.5 1403.4L1720.9 1407.1M1801.1 1344.8L1820.9 1296M1778.7 1365.8L1780.8 1338.7M1752.1 1424.2L1723.7 1461.9M1827.7 1402.4L1875.6 1415.3M1765.3 1421.9L1741.6 1472.8M1778.2 1357.2L1784.1 1311.7M1796.9 1411.7L1831.5 1452M1827.3 1368.5L1847.6 1352.8M1779.7 1420.3L1784.8 1450.3M1794.9 1360.4L1825.5 1299.6M1782.3 1337.9L1778.1 1301.8M1750.1 1414.8L1726.7 1429.3M1783.5 1366.6L1781.7 1346M1763.8 1413.2L1725.3 1444.6M1782.6 1426L1795.3 1478.7M1820.5 1351.9L1832.2 1336.6M1784.5 1381.7L1811 1327.7M1801.2 1389L1878.6 1368.1M1777.4 1371L1775.5 1349.1M1805 1392.7L1886.1 1396.1M1744.4 1402L1678.8 1426.2M1759.8 1385.1L1699.3 1352.6M1755.1 1374.2L1709.2 1323.1M1819.3 1402L1846.7 1413.8M1822.9 1368.9L1865 1353.8M1779.6 1423.4L1776.9 1498.1M1765.2 1447.5L1765.3 1490.7M1824.2 1377L1864.8 1349.8M1796.8 1397.4L1870 1394.6M1772.3 1424.2L1766 1467.1M1810.6 1417.7L1829.6 1429.3M1775.3 1413.3L1767.5 1437.4M1812.7 1412.7L1853.7 1443.2M1740.2 1363.1L1694.4 1337.2M1828.6 1412.3L1856 1421.1M1770 1415L1751 1456.2M1790.2 1373.7L1802.7 1351.7M1801.2 1370.2L1828.6 1348M1787.1 1382.3L1801.6 1359.5M1749.2 1417.4L1721.1 1446.6M1784.1 1340.1L1783.1 1300.8M1770.4 1369.6L1763.5 1344.9M1729.3 1370.2L1697 1362.6M1764.1 1388.7L1731.9 1366.9M1757.5 1417.7L1712.9 1478M1784.6 1347.6L1781.5 1291.1M1749.1 1405.3L1731.9 1415.1M1790.2 1409L1831 1465M1738.9 1429.3L1696 1454.4M1787.8 1425.2L1801.5 1449.7M1819.6 1392.5L1870.7 1389.6M1776.8 1410.2L1771.1 1450.5M1803.5 1405L1876.9 1422.1M1751.7 1376.1L1705.6 1340.7M1728.6 1429.6L1695.7 1453.8M1808.7 1354.6L1840.5 1307.5M1790.2 1431.4L1806.8 1481.3M1809.6 1417.5L1830.4 1424.7M1768.9 1372L1747.6 1298.4M1779.8 1376.1L1780.9 1341.5M1746.5 1381.3L1727.7 1377.8M1808.9 1380.6L1854.6 1366.7M1782.9 1428.6L1794.3 1482.9M1735.2 1419.2L1688.4 1437.8M1783.4 1381.6L1791.2 1358.5M1777.8 1379.2L1774.6 1330.7M1770.4 1407.8L1734.4 1454.9M1758.7 1386.8L1719.9 1377.5M1755.8 1390.4L1707.6 1372.4M1753.1 1400.6L1691.4 1406.8M1775.4 1434.8L1777.6 1491.6M1772.4 1368.5L1762.9 1325.6M1804.2 1392.7L1840.9 1395.8M1800.8 1408.5L1854.8 1440M1784.8 1373.7L1798.2 1302.4M1801.8 1429.1L1821 1453.7M1817.4 1358.4L1849.3 1329.2M1809.3 1398.6L1872.5 1411.1M1814 1397L1870.2 1401.2M1752.9 1405.4L1710.9 1430.1M1793.1 1386.7L1823 1373.9M1761.1 1386.7L1728.9 1371.7M1790.4 1404.5L1810.3 1415.3M1777.1 1437.9L1775.8 1465.4M1758.4 1425.1L1736.1 1464M1738.5 1354.2L1719.5 1320.4M1740 1394.7L1702.3 1395M1719.6 1406.9L1686.9 1409.4M1781.1 1377.4L1782.5 1356.5M1789.3 1428.8L1797.5 1458.4M1757.2 1405.8L1692.5 1424.4M1771.7 1433.7L1757.2 1467.8M1780.9 1410.3L1785.3 1496.2M1763.4 1398.4L1721.4 1406M1757.6 1386L1718.2 1374.7M1787.9 1416.5L1804.7 1459.4M1786.9 1376L1809.9 1300.7M1821.7 1404.8L1877.4 1428M1720 1397.9L1674.1 1400.3M1753.1 1354.5L1717 1316.9M1767.1 1404.3L1749.5 1417.5M1790.1 1406.8L1860.9 1464.9M1792.8 1362.4L1809.3 1323.8M1765.8 1380.1L1720.1 1310.8M1784.7 1361.5L1783.5 1309.1M1745.2 1424.8L1705 1449.1M1798.2 1451.1L1811.3 1467.7M1784.7 1382L1823.5 1297.8M1775.1 1429.8L1772.6 1453.8M1809.8 1434.6L1843.7 1479.7M1733.5 1420.7L1689.6 1450.4M1761.9 1339.3L1742.1 1305.4M1793.9 1380.8L1822.1 1347.2M1743 1432.1L1726.1 1450.6M1732.3 1420.5L1702.9 1438.5M1786.5 1435.6L1802.2 1490.1M1775.4 1371.1L1765.4 1342.2M1784.2 1426.9L1790.4 1461.6M1752.8 1357.3L1738.2 1344.3M1744.3 1350.1L1731.5 1331.1M1813.4 1443.8L1836.1 1486.9M1730.9 1377.5L1682 1364.1M1811 1374.1L1829.5 1353.8M1765.2 1398.2L1691.4 1416.3M1809.4 1352.8L1837.4 1330.3M1758.7 1411.5L1705.2 1441.3M1793.2 1368L1806.8 1341.4M1809.3 1390.7L1844.8 1392.6M1794.7 1363.3L1809 1314.1M1747.2 1373.9L1720.1 1360.7M1787.8 1411.7L1817.1 1460.2M1730.1 1376.9L1711.2 1364.4M1762.8 1445.9L1748 1464.9M1734.1 1386.5L1695.9 1379.4M1800.4 1396.4L1879.7 1399.3M1778.8 1450.6L1770.9 1498.9M1758.7 1417L1718.3 1462.9M1771.4 1376.7L1758.1 1348.8M1800.7 1379.7L1837.1 1343M1761.9 1383.9L1721.2 1355.8M1788.8 1346.8L1805.9 1311.7M1751.8 1414.9L1693.5 1447.5M1798.7 1419.8L1833.6 1481M1767 1405.5L1706.6 1459.6M1728.6 1401.3L1700.4 1397.5M1764.3 1424.9L1749.4 1450.6M1807.4 1448.8L1835.4 1478.2M1802.2 1398.6L1869 1409.4M1773.1 1355.6L1767.7 1315.6M1774.9 1365.7L1775.6 1301.4M1774.7 1366.5L1766.4 1316.7M1763 1396.9L1737.5 1397.6M1757 1420.1L1718.1 1470M1763 1403.2L1737.5 1409.9M1806.9 1366.8L1846 1326.3M1719 1389L1698 1383.5M1733 1405.9L1706.5 1416.2M1813.1 1435.9L1830.5 1448.6M1738 1432.3L1702.5 1455.8M1772.9 1429.5L1766.2 1494.6M1762.7 1417.3L1742.6 1457.6M1794.3 1404.1L1836.2 1431M1811 1350.3L1825.4 1329M1732.1 1386.9L1683.9 1379.9M1794 1354.4L1819.2 1313.4M1789.1 1378.3L1814.2 1313.6M1749.7 1403.6L1693.5 1414.7M1770.2 1416.9L1758.9 1433.7M1791.3 1369.2L1800.3 1335.8M1798 1366.5L1809.7 1342.6M1762.6 1385.6L1712.7 1363.7M1809.1 1421.3L1846.1 1457.6M1796.7 1381.9L1821.8 1355.7M1777.1 1374.9L1776.7 1344" stroke="#62585D" stroke-width="1.5" fill="none" opacity="0.7" stroke-linecap="round"/>
<path d="M1789.6 1394.2L1858.9 1384.4M1804.1 1386.1L1865.3 1354.2M1806.2 1394.7L1834.5 1391.8M1772.7 1388.6L1736.6 1359.5M1793.6 1402.3L1825 1414M1784 1368.9L1804 1306.8M1820 1364.1L1850.4 1345.1M1803.5 1373.3L1822.3 1356.3M1763.2 1392.6L1738.7 1391M1764.5 1352.7L1749.3 1313.3M1787.3 1397.1L1852.6 1409.4M1763.9 1399.9L1739.4 1410.1M1803.8 1421.3L1825.6 1445.5M1749.2 1409.9L1697.7 1427.9M1809.9 1437.8L1829.5 1477M1729.6 1410.7L1690.8 1428.7M1761 1352.2L1752.1 1308.3M1741 1388.6L1720.2 1382.3M1804.3 1428.5L1839.8 1470.2M1788.2 1399.9L1840.4 1418.5M1776.7 1359.7L1777.1 1318.4M1796.2 1419.2L1807.9 1436.5M1783.3 1381.1L1809.5 1322.3M1771.4 1411.4L1752.3 1440.3M1817.4 1416.8L1839.9 1434.3M1814.8 1365L1834.4 1349.3M1759.5 1439.7L1753.7 1467.7M1769.3 1402.3L1739.9 1419.3M1771.5 1410.2L1739.7 1482.9M1790.3 1357.8L1804.9 1318.5M1738.4 1372.9L1698.9 1356.6M1761.7 1369.6L1718.4 1321.2M1729.1 1411.2L1708.6 1413.4M1808.3 1374.4L1827.4 1365.2M1776.5 1427.4L1775.7 1486.5M1779.7 1409L1786.5 1450.3M1763.5 1352.2L1756.9 1332.9M1790.7 1353.4L1798.6 1326.1M1766 1366.5L1747.2 1300.9M1792.6 1392.7L1812.4 1389.1M1761.4 1386L1733.9 1367M1781.7 1387.4L1791.3 1361.8M1765.9 1402.7L1695.7 1444.2M1803 1408.2L1837.7 1429.3M1780.3 1383.9L1791.4 1333.7M1730.5 1399.8L1682.5 1396.9M1771.6 1385L1717.8 1318.2M1768.4 1424.9L1748.1 1465.6M1730.4 1383.2L1689.6 1369.5M1773.4 1432.5L1762.4 1471.7M1772.4 1439.6L1772.3 1484.7M1807.3 1384.2L1844.2 1366.1M1745.2 1424.9L1706 1459.5M1750.2 1389.7L1727.2 1379.9M1771.1 1400.1L1741.2 1418.9M1782.8 1379.8L1793.4 1353.1M1761.9 1443.4L1762.1 1463M1785.6 1420.8L1800.5 1466.8M1829.3 1384L1865.6 1385.9M1813.3 1355.3L1829.5 1323.3M1769.9 1391.4L1729.6 1365.9M1748 1419.9L1699 1451.8M1755.8 1416.9L1735.2 1430.4M1765.5 1377.3L1744 1338.9M1796.4 1401.1L1850.2 1423.7M1743.4 1386.1L1725.5 1380.4M1768.5 1391.8L1715 1376.6M1754.2 1432.3L1735.7 1478.9M1811.1 1414.9L1860.3 1448.1M1756.3 1431.2L1735.7 1481.8M1806.6 1402L1861.5 1415.3M1764.1 1397.8L1736 1406.8M1759.6 1399.9L1706.8 1412M1760.8 1434.6L1748 1463.2M1740.5 1406.6L1682.3 1417.1M1821.8 1395.7L1860.6 1398.5M1787.7 1397.4L1807.2 1398.8M1809.9 1422.3L1848.6 1453.4M1785.2 1423.2L1793.6 1446.4M1732.9 1412.2L1696.6 1434.2M1795 1345L1800.5 1301.2M1735.1 1369L1713.6 1354.4M1743.6 1357.5L1713.9 1326.8M1764.6 1386.1L1702.2 1351.9M1771.7 1383.2L1742.5 1322.8M1799.8 1412.6L1820.6 1430.1M1784 1446.4L1798 1488.6M1779.9 1415.8L1780.2 1442.7M1773.7 1365.5L1759.8 1323.2M1734.1 1408.2L1715 1418.1" stroke="#120C0E" stroke-width="1.8" fill="none" opacity="0.8" stroke-linecap="round"/>
<ellipse cx="1699" cy="1410.1" rx="11" ry="4" fill="#55553A" opacity="0.7" transform="rotate(-12 1699 1410.1)"/>
<ellipse cx="1710.6" cy="1425.6" rx="8" ry="3.5" fill="#55553A" opacity="0.7" transform="rotate(-40 1710.6 1425.6)"/>
</g>
<polygon points="1848.3,1346.8 1846.6,1349.2 1844.6,1351.3 1842.3,1353.1 1840.2,1355 1838.3,1357.2 1836.5,1359.5 1834.3,1361.3 1832.1,1363.1 1830.4,1365.4 1828.4,1367.4 1826.1,1369 1824.3,1371.2 1822,1372.9 1820.3,1375 1824.6,1375.6 1826.6,1373.8 1828.5,1371.9 1830.8,1370.5 1832.9,1368.8 1834.3,1366.4 1836.7,1365.1 1838.6,1363.3 1840.8,1361.4 1842,1358.7 1844.4,1357 1846.3,1355 1848,1352.7 1850,1350.8 1851.6,1348.6" fill="#fff"/>
<polygon points="1788.9,1390.8 1791.6,1390.4 1794.4,1390.3 1797.1,1389.6 1799.8,1389 1802.5,1388.7 1805.3,1388.4 1808,1388.6 1810.6,1387.8 1813.3,1387.6 1816,1387.5 1818.6,1386.7 1821.2,1386.5 1823.9,1386.3 1826.4,1386 1827.5,1388.4 1828.5,1390.9 1825.8,1391.1 1823.1,1391.8 1820.4,1391.7 1817.6,1391.5 1815,1392.3 1812.2,1392.6 1809.5,1392.7 1806.8,1392.9 1804,1392.5 1801.3,1392.8 1798.5,1393.4 1795.4,1392.1 1792.1,1391.5" fill="#fff"/>
<polygon points="1838.1,1394.5 1841,1394.2 1844,1393.7 1846.4,1394.5 1848.9,1395.3 1851.1,1396.8 1853.6,1397.6 1856.3,1399.2 1859.6,1399.7 1862.2,1401.3 1860.4,1404.3 1857.5,1403.7 1854.6,1402.8 1851.7,1402.3 1849.1,1401.4 1846.6,1400.1 1843.9,1399.5 1841.3,1396.7" fill="#fff"/>
<polygon points="1806.3,1360.9 1805.6,1364.2 1804.7,1367.5 1802.9,1370.1 1800.7,1372.1 1798.6,1374.4 1799.9,1372 1800.3,1369.2 1801.5,1366.7 1803.6,1363.5" fill="#fff"/>
<polygon points="1804.4,1331.9 1803.6,1334.7 1802.8,1337.6 1802.4,1340.5 1802,1343.5 1800.9,1346.2 1800.6,1349.1 1799.8,1351.8 1798.9,1354.6 1798.4,1357.4 1797.5,1360.2 1796.7,1363 1795.6,1365.7 1796.3,1363 1796,1360.3 1796.3,1357.6 1796.5,1354.9 1796.7,1352.2 1797.4,1349.7 1797.8,1347.1 1798.4,1344.5 1799.5,1342.1 1799.8,1339.5 1801.6,1337.1 1802.8,1334.4" fill="#fff"/>
</g>
</svg></body></html>
